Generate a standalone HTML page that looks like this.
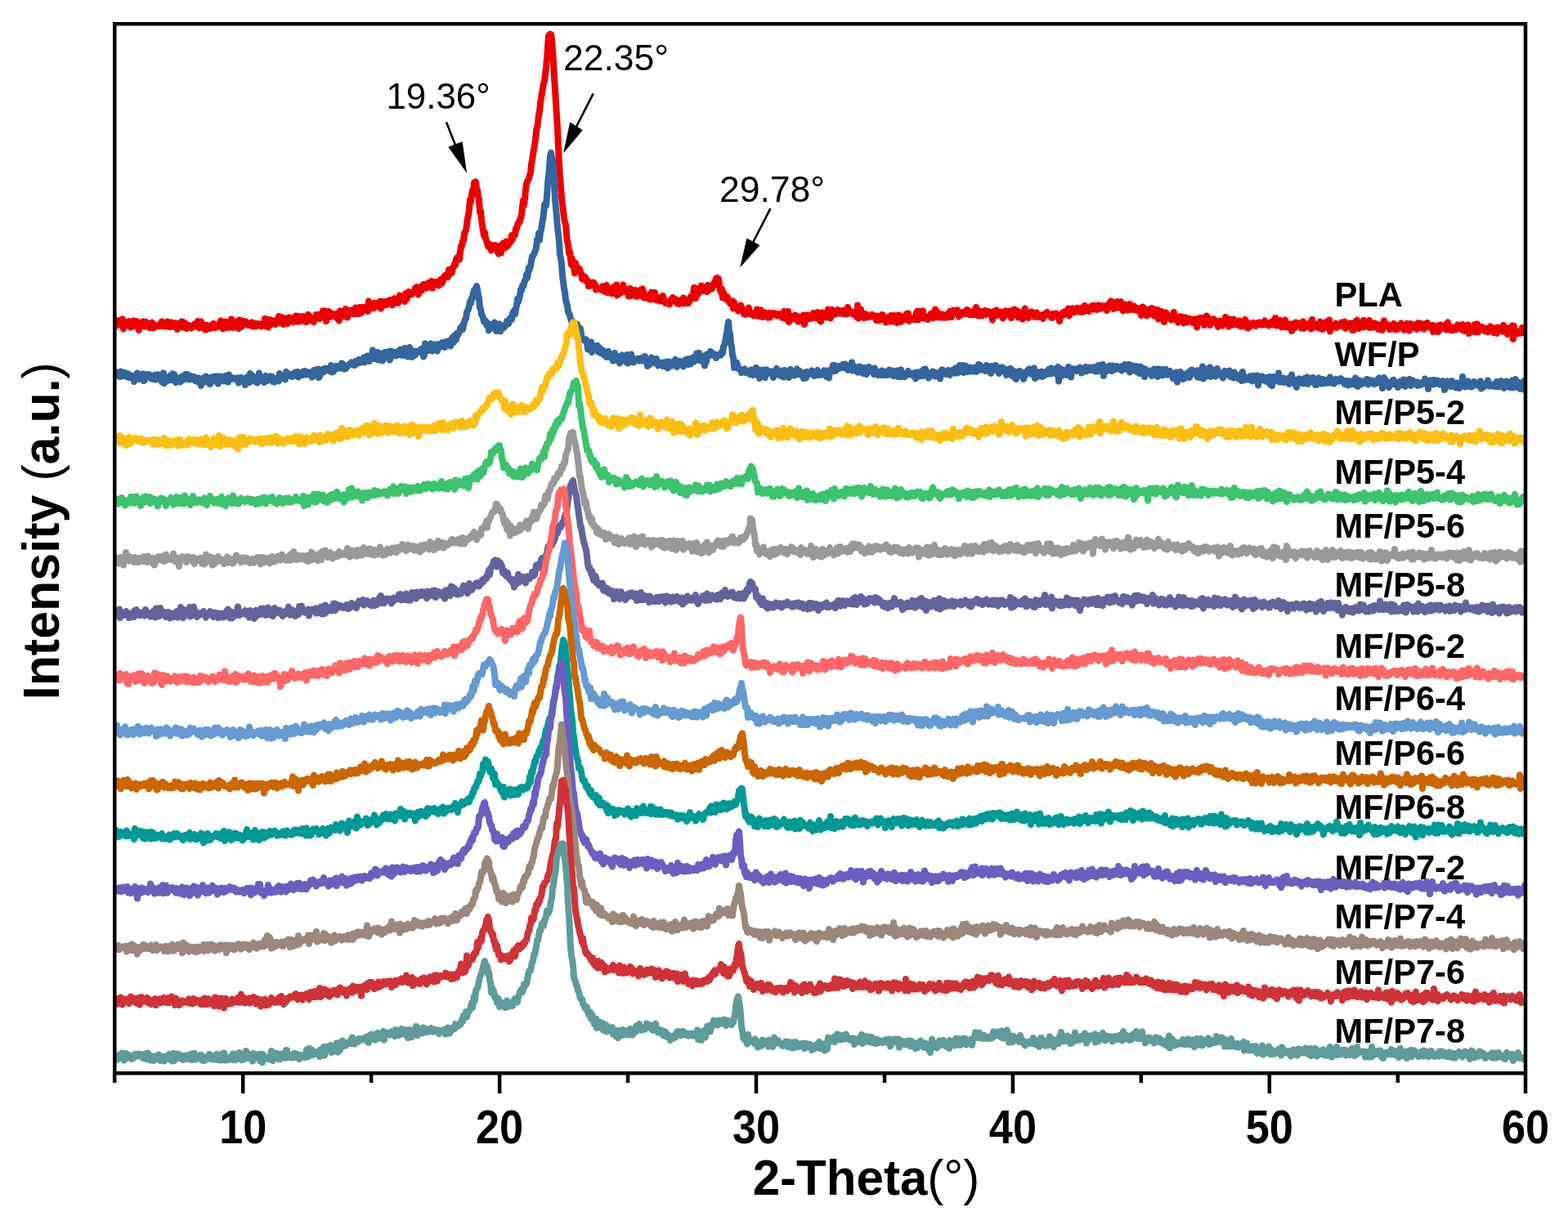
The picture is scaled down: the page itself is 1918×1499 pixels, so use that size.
<!DOCTYPE html>
<html><head><meta charset="utf-8"><title>XRD patterns</title>
<style>
html,body{margin:0;padding:0;background:#fff;width:1918px;height:1499px;overflow:hidden}
svg{display:block}
.c path{fill:none;stroke-width:16.0;stroke-linejoin:round;stroke-linecap:round}
text{font-family:"Liberation Sans",Arial,Helvetica,sans-serif;fill:#000}
.tk line{stroke:#000;stroke-width:4.5}
.tl text{font-size:56.5px;font-weight:bold}
.lg text{font-size:42.5px;font-weight:bold}
.an text{font-size:44.5px}
</style></head>
<body>
<svg width="1918" height="1499" viewBox="0 0 1918 1499">
<rect width="1918" height="1499" fill="#fff"/>
<defs><clipPath id="pc"><rect x="142" y="31" width="1722" height="1280"/></clipPath></defs>
<g clip-path="url(#pc)"><g class="c" transform="scale(0.5)">
<path d="M282 783l2 15 2-12 2 4 2 1 2-4 2-3 2 11 2-1 2-13 2 24 2-8 2-9 2 9 2-7 2 2 2 5 2-11 2 10 2 5 2-1 2-8 2 6 2-13 2 8 2 3 2-10 2 7 2 10 2 5 2-10 2 1 2-10 2-1 2-1 2 10 2 2 2-8 2-3 2 8 2 1 2-3 2 8 2-7 2 0 2-6 2 7 2 7 2-7 2 0 2 2 2-1 2 2 2 0 2 0 2-7 2 6 2-11 2 11 2-9 2 7 2 3 2-5 2 3 2-10 2 5 2 8 2-10 2 10 2-11 2 3 2-1 2 6 2 3 2-9 2 5 2 10 2-11 2-3 2 7 2-3 2-9 2 0 2 14 2-7 2 3 2-6 2 13 2-3 2 1 2-6 2 4 2 2 2 1 2-4 2-2 2-2 2-2 2-1 2 7 2-3 2-10 2 10 2 7 2-8 2-8 2 9 2 5 2-3 2-3 2 12 2 0 2-11 2 5 2-2 2 2 2 3 2-3 2-4 2-4 2-1 2 4 2 7 2-5 2-1 2 1 2-2 2 3 2-9 2-5 2 9 2-4 2 15 2-10 2-1 2-7 2 10 2-5 2 10 2-2 2-9 2 7 2-17 2 11 2 10 2-3 2-3 2-1 2-8 2 0 2 9 2 8 2-21 2 15 2 0 2 1 2-9 2-4 2 8 2-6 2-1 2 2 2 4 2 3 2-3 2 1 2-4 2-1 2 10 2-6 2-1 2 6 2 1 2-7 2 2 2-2 2 1 2 0 2 6 2-6 2 2 2-4 2 7 2-18 2 12 2 2 2-10 2 17 2-19 2 7 2-6 2 11 2-4 2-5 2 4 2 3 2 2 2-5 2-7 2 2 2-10 2 9 2 7 2-1 2-9 2-3 2 17 2-7 2 3 2-3 2-6 2 11 2-15 2 0 2 4 2-2 2 1 2-1 2 9 2-6 2 2 2-11 2 4 2 10 2-13 2 13 2-12 2 6 2-6 2 5 2-6 2 3 2 10 2-11 2 12 2-13 2-5 2 7 2-3 2 11 2-5 2 2 2 2 2 4 2-9 2-1 2-8 2 0 2 5 2 4 2 1 2-11 2 8 2-2 2-14 2 15 2-15 2 13 2 12 2-19 2 6 2-11 2 6 2 8 2-10 2 5 2-1 2-1 2 3 2 2 2 3 2-2 2-8 2 11 2 7 2-24 2 12 2 0 2 1 2-3 2-10 2 5 2-10 2 10 2 11 2-7 2 0 2-8 2-3 2 0 2 6 2-6 2 1 2 9 2-16 2 2 2 3 2 2 2 8 2-16 2 8 2 6 2-6 2-8 2 7 2-1 2-5 2 2 2-3 2 10 2-25 2 9 2-2 2 7 2-3 2 1 2 6 2-13 2 3 2 3 2-6 2 8 2-1 2-6 2-6 2 18 2-7 2-10 2 6 2-1 2 4 2-5 2-4 2 7 2-4 2-6 2-1 2 10 2-3 2 6 2-14 2-2 2 6 2 4 2-5 2-1 2 7 2-15 2-4 2 2 2 1 2 3 2 3 2-5 2 11 2-19 2 14 2-16 2 10 2-13 2 6 2-2 2 1 2 1 2-6 2 0 2 0 2-9 2 3 2-6 2 8 2 11 2-9 2-9 2 0 2 8 2-13 2-2 2 2 2-1 2 0 2 8 2-4 2-9 2 4 2-4 2-1 2-3 2 17 2-12 2 4 2 0 2-7 2 4 2-1 2-3 2 9 2-11 2-4 2 4 2 5 2-6 2-9 2-3 2-2 2 0 2 4 2 1 2-18 2 10 2-8 2 7 2-2 2-13 2-1 2-7 2 3 2-15 2-2 2-3 2 5 2 1 2-19 2-14 2 0 2-12 2-1 2-17 2-5 2-3 2-15 2-16 2-5 2-18 2-21 2 5 2-17 2-12 2 3 2-21 2 2 2-4 2 18 2 2 2 17 2 7 2 30 2-2 2 22 2 13 2 12 2 13 2-8 2 15 2 4 2 7 2 8 2-2 2-3 2 5 2 10 2-13 2 7 2-5 2 5 2-7 2 7 2-5 2 16 2 3 2-4 2-15 2 17 2-18 2-5 2 2 2 2 2 7 2-16 2 13 2-6 2 2 2-9 2 3 2-5 2-13 2 10 2-10 2-1 2 0 2-16 2 0 2-8 2-6 2 1 2-8 2-4 2-10 2-18 2-15 2 11 2-16 2-22 2-14 2-6 2-4 2-3 2-9 2-5 2-22 2-9 2-15 2-11 2-13 2-9 2-26 2-5 2-13 2-18 2-10 2-20 2-13 2-11 2-12 2-13 2-3 2-18 2-17 2-22 2-27 2-29 2-2 2-2 2 1 2 11 2 31 2 27 2 37 2 30 2 32 2 32 2 31 2 46 2 39 2 34 2 23 2 27 2 15 2 17 2 17 2 11 2 5 2 26 2 17 2 5 2 23 2-4 2 18 2 14 2-15 2 10 2 9 2 17 2-25 2 15 2-1 2-3 2 7 2-4 2 8 2 2 2 15 2-6 2 5 2 0 2-4 2 10 2-3 2 3 2 12 2-3 2-6 2 8 2-7 2 6 2-7 2 3 2 2 2 13 2-5 2 2 2-1 2 1 2 1 2 2 2-3 2-5 2 1 2 11 2 1 2-4 2-12 2 18 2-7 2-2 2 1 2-2 2 12 2 0 2-15 2 5 2 3 2 5 2-19 2 26 2-4 2-10 2 2 2 7 2-4 2-9 2-8 2 10 2-1 2 8 2-3 2 4 2 4 2 6 2-8 2-11 2 18 2-8 2 7 2-8 2 5 2-10 2 9 2 7 2-10 2 5 2 1 2-3 2-10 2 15 2-17 2 7 2 15 2-3 2 3 2 0 2-1 2-5 2 9 2-7 2 8 2-18 2 8 2 2 2 4 2-13 2 18 2 1 2 0 2-7 2 4 2-3 2 8 2-5 2 1 2-9 2 10 2 6 2 2 2 0 2-2 2-1 2-1 2 7 2-11 2-1 2 4 2-9 2 8 2 1 2-5 2 2 2 8 2-5 2 2 2 5 2-9 2 5 2-1 2 2 2-12 2 14 2-6 2 0 2-3 2 3 2 5 2-5 2-1 2-10 2 7 2-4 2-9 2-16 2 13 2 13 2-17 2-7 2 14 2-14 2 5 2 1 2-13 2 8 2 5 2-9 2 5 2-4 2 6 2 4 2-16 2 6 2 5 2-4 2 0 2 2 2-4 2-9 2 3 2-10 2-6 2-1 2 7 2-5 2 18 2 10 2 6 2-9 2 22 2-13 2 8 2 4 2 4 2-7 2 3 2 7 2 4 2 4 2-3 2-2 2-1 2 18 2-15 2 13 2-1 2 4 2 2 2 3 2-6 2 3 2-11 2 12 2-4 2 5 2 8 2-5 2 7 2-6 2 4 2-4 2-11 2 10 2 3 2 3 2-1 2-1 2 6 2-2 2-5 2 6 2-15 2 2 2 7 2 8 2-10 2-5 2 9 2 8 2-11 2 1 2-1 2 2 2 7 2 3 2-8 2-3 2 11 2-9 2 0 2-2 2 0 2 4 2-3 2 4 2-1 2 3 2-5 2 1 2 3 2-1 2 1 2 6 2-12 2-4 2 15 2-5 2 9 2-7 2-12 2 26 2-9 2-4 2-1 2 7 2-7 2 6 2-2 2-7 2 5 2 5 2 6 2-4 2-8 2 11 2-10 2 1 2 3 2-9 2 23 2-10 2-6 2-4 2-3 2 8 2 1 2-6 2 1 2 4 2-3 2-10 2 7 2 4 2 2 2-8 2-7 2 4 2 8 2 9 2 2 2-12 2-10 2 6 2 3 2 0 2-3 2 6 2-12 2-8 2 6 2-2 2 18 2-14 2-7 2 10 2 2 2-6 2 0 2 4 2-3 2-7 2 7 2 2 2-4 2 3 2-2 2-4 2 8 2-3 2-6 2 9 2 1 2-17 2 11 2-4 2 2 2 4 2-1 2 5 2-1 2 1 2-6 2 3 2 10 2-29 2 32 2-12 2 10 2-20 2 12 2 7 2-3 2 5 2-10 2 2 2 0 2 7 2 0 2-3 2-1 2 0 2 2 2-5 2 5 2 0 2-2 2 0 2 11 2-11 2 6 2 5 2-3 2-4 2 6 2-13 2 1 2 5 2 1 2 1 2 11 2-1 2-10 2 2 2-6 2 7 2-9 2 15 2-11 2 6 2-10 2 15 2-4 2 7 2-10 2-9 2 4 2-2 2 15 2-12 2-1 2 8 2-2 2 1 2-6 2-8 2 4 2-5 2 19 2-3 2-7 2 5 2 1 2-1 2-1 2 2 2-4 2-13 2-3 2 21 2-4 2-17 2 15 2-6 2 1 2-11 2 18 2-5 2 5 2 1 2 1 2 1 2-2 2-6 2-5 2 6 2 2 2-11 2 12 2-2 2-19 2 4 2 9 2-6 2 13 2-5 2 2 2 1 2 2 2-8 2 4 2 4 2-3 2-2 2 5 2-5 2-6 2 10 2-14 2 8 2 6 2-11 2-6 2 8 2-2 2 2 2-3 2-5 2 2 2 14 2-10 2 4 2 1 2-5 2 3 2-4 2-1 2 1 2 4 2-10 2 2 2 1 2 1 2 9 2-6 2-2 2 2 2 5 2-10 2 10 2-18 2 7 2 13 2 1 2-8 2-3 2 7 2-7 2 11 2-2 2-3 2-8 2 10 2-7 2 0 2-1 2 2 2 3 2 2 2 0 2 14 2-20 2 8 2-10 2 3 2-5 2 13 2-5 2-1 2-1 2 6 2-8 2 5 2 11 2-14 2-2 2-2 2 10 2-4 2-5 2 0 2 5 2-6 2 17 2-12 2 0 2 6 2-15 2 2 2 6 2 2 2-6 2 16 2-7 2 5 2-1 2-7 2 14 2-12 2-11 2-3 2 19 2-1 2-4 2 9 2-11 2 5 2 1 2-10 2 8 2 0 2 4 2 1 2-1 2-10 2 9 2 2 2-6 2 4 2 0 2 2 2-5 2 9 2-9 2 0 2-4 2 2 2-5 2 6 2-1 2 5 2 1 2-5 2 8 2-10 2 7 2-2 2-6 2 0 2 8 2-4 2 1 2 14 2-14 2-2 2 3 2-8 2 2 2 3 2-8 2 4 2-1 2 1 2-11 2 18 2-10 2 3 2-9 2-2 2 6 2-2 2 5 2-9 2-1 2 7 2 1 2 1 2-5 2 1 2-6 2 11 2-1 2 0 2-15 2 13 2-9 2 6 2 0 2 4 2-8 2-1 2-4 2-1 2 9 2-8 2-1 2 3 2-1 2 8 2-1 2-10 2 4 2 1 2 3 2-7 2 1 2 2 2 4 2 1 2-8 2 12 2-7 2-7 2-4 2 5 2-10 2 14 2 2 2 3 2-4 2-12 2 8 2 5 2-15 2 7 2 8 2-3 2-12 2 9 2 3 2 11 2-14 2-2 2 6 2 7 2-4 2 5 2-8 2-7 2 8 2 0 2 6 2-1 2-8 2 9 2 1 2-6 2 7 2-4 2 0 2-1 2 6 2 11 2-14 2-7 2 6 2-2 2 5 2-2 2 15 2-9 2 7 2-14 2 3 2 5 2-11 2 10 2-8 2 17 2-15 2 6 2 2 2-8 2 23 2-13 2 10 2-12 2-4 2 10 2 1 2 15 2-21 2-2 2 5 2 6 2 2 2-6 2 2 2 6 2 3 2-8 2 4 2-15 2 10 2 8 2-3 2 6 2 4 2-10 2-4 2 7 2 0 2-7 2 12 2 4 2-12 2-2 2 5 2 7 2-9 2-1 2 1 2 5 2 0 2-2 2 7 2 0 2-9 2 9 2-4 2 15 2-21 2 3 2 3 2-8 2 6 2 5 2-11 2 9 2 9 2-13 2-2 2-8 2 13 2-8 2 12 2 6 2-6 2-7 2 8 2-6 2-4 2 4 2 4 2-3 2 5 2 9 2-9 2 1 2-7 2 11 2 1 2-3 2-9 2 5 2-14 2 11 2-2 2-1 2 15 2-18 2 8 2 0 2 3 2 3 2-14 2 6 2-1 2 8 2 1 2-7 2 5 2-8 2 7 2 7 2-6 2-6 2-1 2 1 2-5 2 18 2-9 2-2 2 14 2-11 2 7 2-6 2 4 2-5 2-2 2 4 2 2 2 2 2-5 2-3 2 0 2 4 2-5 2 1 2 5 2 0 2 0 2-7 2-3 2 9 2-1 2-2 2 3 2 3 2-5 2 3 2-7 2 4 2-3 2-4 2 10 2-17 2 15 2 4 2-2 2-10 2 10 2-11 2 5 2 12 2-7 2 6 2-12 2-5 2 7 2 11 2-2 2 1 2-7 2 1 2-1 2 17 2-15 2 9 2-11 2 9 2-13 2 3 2 4 2-5 2 1 2 2 2-2 2 11 2-2 2-14 2 17 2-9 2 0 2-1 2 6 2-1 2-7 2 3 2-7 2 17 2-23 2 9 2 1 2 4 2 4 2-6 2 2 2-2 2 9 2-6 2-10 2 17 2-6 2 8 2-13 2 0 2 2 2-7 2 6 2 9 2-3 2-17 2 28 2-7 2-3 2-5 2 1 2 0 2 0 2-6 2 11 2-4 2 0 2 0 2-3 2 1 2-7 2 9 2 0 2-3 2-8 2 17 2-8 2 1 2-2 2-2 2 2 2-4 2 3 2 14 2-5 2 5 2-14 2-7 2 3 2-7 2 20 2 1 2-6 2 1 2 0 2-3 2 5 2-17 2 11 2 1 2-8 2 4 2 8 2-1 2-15 2 18 2-3 2-5 2 3 2 4 2-10 2 5 2-4 2 3 2 9 2 2 2-8 2-3 2 7 2-2 2 8 2-7 2-16 2 13 2-2 2-2 2 5 2-1 2-2 2 10 2-6 2 0 2-1 2 6 2-13 2 13 2-8 2 10 2-1 2-5 2-5 2 4 2 1 2-10 2 6 2-2 2 11 2 2 2-13 2 1 2-4 2 9 2 3 2 5 2-17 2 12 2-5 2-3 2 2 2-3 2 7 2-2 2 6 2-9 2-7 2 5 2 7 2-10 2 4 2 7 2-10 2 12 2-3 2-5 2 3 2-10 2 8 2 1 2 2 2-1 2-3 2-1 2 16 2-11 2-1 2 8 2-2 2-9 2 15 2-1 2-11 2-5 2 10 2-4 2-1 2-3 2 2 2 4 2 4 2-16 2-2 2 18 2-9 2 8 2-3 2 6 2-2 2-6 2 1 2 2 2 3 2-8 2-4 2 9 2-1 2-1 2-4 2 8 2-12 2 7 2 9 2-12 2 8 2 0 2 0 2-11 2 21 2-11 2 2 2-1 2-1 2 6 2 1 2-18 2 6 2 4 2-11 2 20 2-12 2 7 2-2 2-2 2-4 2 3 2 3 2 4 2-6 2 0 2 0 2 9 2-5 2-6 2-3 2 5 2-3 2 9 2 4 2-4 2-2 2 1 2 7 2-15 2 8 2-3 2 2 2 0 2-2 2 5 2-15 2 13 2 3 2-9 2 0 2 15 2-15 2 3 2-2 2 1 2 0 2-8 2 33 2-32 2 13 2-2 2 8 2-4 2 3 2 0 2-2 2-4 2 5 2-13 2 13 2-1 2-2" stroke="#EE0000"/>
<path d="M282 919l2 0 2-8 2 8 2-4 2 2 2 5 2-13 2 10 2 1 2-3 2 2 2-7 2 7 2 3 2-7 2 0 2 9 2-3 2 2 2-3 2 3 2-2 2 13 2-15 2 8 2-6 2-8 2 11 2 4 2-2 2 0 2-9 2 7 2-9 2 17 2-1 2-14 2 4 2-5 2 3 2 2 2-4 2 4 2 6 2-5 2 6 2-5 2 1 2-7 2 12 2-11 2 4 2-5 2 10 2-8 2 9 2 7 2-8 2-14 2 25 2-12 2 3 2-2 2 5 2-1 2-6 2-6 2 6 2 5 2-15 2 12 2-11 2 16 2 4 2-5 2-7 2 6 2 3 2 2 2-1 2-2 2-11 2 5 2 3 2-2 2-11 2 10 2-10 2 12 2 1 2-10 2 4 2 5 2-7 2 6 2-5 2 1 2 9 2-6 2 7 2 2 2-10 2 2 2 0 2 17 2-13 2 1 2-7 2 7 2 2 2-13 2 9 2 6 2 1 2-8 2 11 2-16 2 9 2-2 2-9 2 11 2-12 2 3 2 3 2-6 2 18 2-13 2-5 2 8 2-1 2-6 2 3 2 8 2 0 2-13 2 13 2 1 2 1 2-18 2 7 2 4 2-3 2 2 2-2 2 2 2-1 2 3 2 0 2-2 2-2 2 12 2-3 2-3 2-7 2 8 2-4 2 4 2-2 2 12 2-5 2-14 2 11 2 1 2 1 2-22 2 9 2 1 2-5 2 10 2 3 2 2 2-1 2-5 2 9 2-7 2-17 2 13 2-2 2 6 2-4 2 0 2 10 2-12 2-4 2 9 2 3 2-5 2 1 2-3 2-4 2 3 2-2 2 12 2-1 2 2 2-9 2 4 2-2 2-1 2 6 2-19 2 9 2 4 2-7 2 4 2-3 2 4 2 4 2-19 2 2 2 4 2 3 2-1 2-2 2 5 2 1 2-4 2-3 2 2 2-6 2 9 2 0 2-10 2 13 2-8 2 4 2-4 2-1 2 4 2-9 2 4 2-5 2 9 2-4 2-1 2-1 2 6 2-2 2-3 2-1 2 12 2-2 2-15 2 13 2-4 2-2 2 0 2-10 2 21 2-3 2-11 2-1 2 0 2-5 2 7 2-4 2-6 2 2 2-1 2 0 2 1 2 5 2-7 2-7 2 17 2-12 2 11 2-7 2 1 2-8 2 4 2-3 2 1 2 3 2-6 2 6 2-12 2 1 2 8 2 5 2-3 2 2 2-7 2 2 2-4 2-1 2-2 2 1 2-4 2 1 2 5 2-2 2 3 2-10 2 0 2 4 2 1 2-9 2 7 2-5 2 5 2-4 2-4 2-4 2 12 2-2 2-10 2-4 2 0 2 4 2 9 2-13 2 6 2-1 2-19 2 10 2 11 2-16 2 16 2-6 2-10 2 19 2-6 2 4 2-8 2-6 2 18 2-4 2-3 2-14 2 10 2-10 2 3 2 10 2-15 2 21 2-22 2 1 2 11 2-5 2 0 2-4 2 9 2-3 2-2 2 3 2-11 2 9 2-12 2 8 2 7 2 0 2-6 2-12 2 17 2 2 2-5 2 7 2-2 2-21 2 14 2-1 2 11 2-3 2-12 2 8 2 2 2-9 2 2 2 0 2-2 2 0 2 2 2-8 2 0 2 10 2 9 2-4 2-28 2 19 2-7 2 1 2 1 2 3 2 0 2-17 2 9 2 9 2-6 2-10 2 3 2 9 2 0 2 4 2-17 2 8 2-5 2 4 2-5 2-6 2 2 2 8 2 2 2-13 2 7 2-9 2 0 2 4 2-5 2 13 2-5 2-15 2 7 2 4 2-17 2 2 2 8 2-15 2 5 2-7 2-1 2-10 2 1 2-6 2 8 2-11 2-8 2-6 2-1 2-17 2-2 2-5 2-7 2-11 2 4 2-13 2 2 2-14 2-7 2-1 2-3 2-6 2 8 2 15 2 6 2 25 2 2 2 14 2 2 2 6 2 9 2-3 2 1 2 10 2 0 2-4 2 18 2-9 2-6 2 7 2 1 2-5 2 1 2-9 2 11 2 10 2-5 2 0 2-9 2-3 2 18 2-11 2-3 2 0 2 6 2-2 2-6 2 1 2-10 2 1 2 6 2-9 2-6 2 2 2 2 2-16 2-2 2-4 2 9 2-13 2-9 2-15 2 7 2-7 2-9 2-14 2 2 2-12 2 2 2-6 2-8 2-3 2-12 2 8 2-13 2-12 2 4 2-8 2-13 2-11 2 0 2-4 2-6 2-4 2-7 2-19 2 2 2-18 2 16 2-19 2-6 2-14 2-10 2-14 2-23 2 1 2 1 2-24 2-31 2-17 2-23 2-26 2-8 2 12 2 5 2 28 2 33 2 36 2 23 2 20 2 27 2 15 2 20 2 30 2 10 2 13 2 28 2 16 2 17 2 8 2 20 2 6 2 8 2 15 2 3 2 4 2 9 2 7 2-1 2 6 2 2 2-2 2 9 2 3 2-11 2 9 2 11 2 1 2-10 2 15 2 10 2 0 2 3 2-1 2 4 2-4 2 9 2 15 2-11 2-3 2 9 2-13 2 25 2-9 2-4 2 0 2-2 2 6 2 1 2-8 2 15 2-6 2-3 2 12 2 0 2-6 2 0 2 11 2-7 2 4 2 8 2-13 2-1 2 5 2 2 2 4 2 6 2-6 2 12 2-8 2-11 2 11 2 5 2 2 2-10 2 4 2 13 2-11 2-6 2-3 2 6 2 4 2-7 2 13 2-11 2-6 2 21 2-11 2-1 2 8 2-18 2 15 2-6 2 11 2-8 2 0 2 3 2-3 2 3 2-4 2 5 2-3 2-3 2 6 2 0 2-8 2 4 2-7 2 10 2 5 2 9 2-12 2 5 2 3 2-4 2-13 2 8 2 5 2 0 2 0 2-5 2-5 2 13 2 4 2-8 2 6 2-5 2 2 2-2 2 8 2-9 2 6 2 4 2-5 2-7 2 16 2-10 2-6 2 6 2-1 2 5 2-6 2 2 2 3 2-14 2 15 2 3 2-14 2 5 2 5 2-10 2 1 2 9 2 1 2 2 2-11 2-5 2-1 2 3 2-4 2 13 2-1 2-13 2 13 2-13 2 1 2-4 2 10 2-4 2 0 2-16 2 12 2 4 2-17 2 18 2-2 2 3 2-8 2 6 2 1 2 13 2-26 2 16 2-18 2 6 2-3 2 0 2-10 2 9 2-6 2 5 2 2 2-1 2-1 2 8 2-6 2 1 2-3 2-1 2 0 2 2 2-8 2 3 2-16 2-4 2-7 2-12 2-10 2-12 2-15 2 23 2 5 2 25 2 7 2 22 2 4 2 26 2-2 2 1 2-12 2 5 2 10 2 0 2 1 2 1 2 8 2-6 2 0 2-1 2-2 2 9 2-4 2 0 2 4 2 0 2 4 2 0 2-11 2 3 2 10 2-7 2 6 2-8 2-9 2 2 2 8 2 1 2 15 2-8 2-1 2 2 2-14 2 9 2-1 2 11 2-15 2-4 2 8 2-1 2 1 2 1 2-1 2-4 2 1 2 14 2-15 2 5 2-8 2-4 2 14 2-4 2 6 2-1 2-4 2-6 2 15 2-10 2 11 2-17 2 10 2-1 2-1 2-4 2 14 2-17 2-3 2 9 2-5 2 9 2-6 2 8 2-6 2-5 2-5 2 13 2-7 2-1 2 4 2 3 2 5 2-4 2 10 2-14 2 11 2 2 2-15 2 5 2-2 2 3 2-4 2-2 2-3 2 5 2 2 2 6 2-3 2-5 2-1 2-5 2 12 2-3 2 2 2 1 2-2 2-4 2-1 2-4 2 1 2 5 2 9 2-15 2 3 2 15 2-17 2-3 2 1 2-2 2-10 2 14 2-14 2 14 2-8 2 4 2-4 2-2 2-2 2 5 2-3 2-2 2-4 2 3 2 5 2-9 2 9 2 0 2 6 2-10 2-1 2 5 2-2 2-11 2 20 2-5 2 0 2-5 2 7 2-3 2 10 2-4 2 4 2-14 2 2 2 3 2-1 2 13 2-7 2-7 2 5 2 11 2-11 2 6 2-13 2 7 2 3 2-1 2-3 2 7 2 5 2-15 2 10 2 4 2-2 2 5 2-6 2-2 2-1 2 9 2-11 2 5 2 2 2 4 2-5 2-3 2 8 2-9 2 3 2-7 2 12 2 0 2-10 2 9 2 4 2-7 2-5 2 9 2 3 2-13 2 15 2-5 2 5 2-17 2 17 2-3 2-5 2 4 2 4 2-6 2-1 2-4 2-3 2 9 2-2 2 1 2-1 2 3 2-2 2-3 2 7 2 7 2-16 2 2 2 5 2-7 2 10 2-10 2-2 2 1 2 10 2-16 2 11 2-12 2 15 2-2 2 1 2 8 2-12 2 7 2-3 2 2 2-10 2 10 2-8 2 10 2-3 2-5 2 3 2-1 2-1 2 13 2-19 2-3 2 0 2 5 2 1 2 4 2 1 2-4 2 0 2-6 2 10 2 2 2-9 2-2 2-1 2 3 2 1 2 3 2-12 2 8 2 4 2-3 2 1 2-17 2 8 2 2 2-2 2-8 2 18 2-5 2-12 2 7 2 3 2 5 2-2 2-9 2 2 2 4 2 4 2-8 2-1 2 6 2-2 2 6 2-4 2 2 2-16 2 3 2-1 2 5 2 6 2-4 2 4 2-6 2 9 2 0 2-14 2 3 2 3 2 8 2 0 2 6 2-18 2 9 2-1 2-1 2 1 2-10 2 13 2-4 2-4 2 15 2-11 2 5 2-5 2-4 2 6 2 4 2-7 2 9 2 7 2-3 2-8 2-2 2 10 2-13 2 2 2 16 2-7 2 0 2-4 2 18 2 1 2-17 2 5 2-6 2-2 2 11 2 0 2-8 2 3 2 14 2-11 2 3 2-5 2-3 2-6 2 1 2-4 2 3 2 1 2 9 2-13 2 11 2-13 2 25 2-17 2 4 2 9 2-11 2 2 2 0 2 2 2-6 2 13 2-4 2-5 2 6 2-7 2-3 2 3 2 3 2-11 2 6 2 5 2-14 2 13 2-8 2 7 2-1 2 2 2-6 2-7 2-3 2 35 2-29 2 3 2-4 2 17 2-4 2 1 2-11 2 11 2-10 2 11 2-7 2-13 2 12 2-5 2 18 2-21 2 5 2 0 2-4 2 0 2 3 2 2 2-5 2 1 2 1 2-6 2 4 2 10 2-4 2-2 2-1 2 2 2-10 2 11 2-9 2 2 2-2 2 6 2-7 2 7 2-5 2-1 2 5 2-7 2 11 2-11 2 2 2 9 2-15 2 13 2-4 2 0 2 0 2-11 2 28 2-15 2 1 2 1 2 1 2-4 2-7 2-2 2 0 2 5 2 8 2-13 2 5 2 5 2-5 2 1 2-5 2 7 2-4 2-1 2 2 2 4 2 3 2-11 2 9 2-9 2-4 2 7 2 4 2-1 2 3 2-13 2 19 2-3 2-1 2-12 2 12 2-5 2 0 2 3 2-9 2 15 2 0 2-1 2 4 2-17 2 8 2 0 2-4 2 11 2 10 2-19 2 9 2-2 2 0 2 0 2 4 2-7 2 2 2 11 2-8 2 0 2-9 2 12 2 1 2-1 2 7 2-19 2 16 2-14 2 4 2-5 2 15 2-4 2-2 2 3 2-12 2 9 2 4 2-4 2 3 2-8 2 10 2-3 2 3 2 8 2-8 2-4 2 5 2-8 2 24 2-18 2 0 2 3 2-10 2 7 2-2 2 13 2-4 2 2 2-10 2 1 2 4 2-9 2-2 2 14 2-7 2 0 2-12 2 7 2-1 2-1 2 5 2-7 2-1 2 16 2-8 2-8 2 17 2-9 2-1 2-17 2 30 2-14 2 5 2 3 2-17 2 17 2-5 2-4 2-13 2 23 2-9 2 2 2-10 2 10 2 1 2 5 2-13 2-6 2 8 2 5 2 1 2-2 2 3 2 6 2 2 2-8 2-9 2 9 2-1 2 1 2 0 2 1 2-11 2 15 2 0 2-1 2-2 2 6 2-14 2 9 2 4 2-5 2 2 2 6 2-6 2-4 2 3 2 12 2-22 2 13 2-2 2 9 2-2 2 0 2-3 2 1 2 3 2-8 2 6 2-7 2 13 2-6 2-7 2 4 2 7 2-2 2-10 2 24 2-14 2 1 2-3 2-3 2-3 2 9 2-1 2-1 2 5 2-2 2-7 2 3 2 9 2-14 2 19 2-14 2 17 2-11 2-11 2 11 2-2 2-3 2 3 2 0 2-18 2 22 2-6 2 2 2 4 2-4 2-6 2 11 2-6 2 3 2-5 2 3 2-5 2 14 2-14 2 11 2-20 2 16 2-3 2 7 2-4 2 11 2 4 2-19 2 7 2-9 2 0 2 5 2 5 2-1 2-4 2 7 2-13 2 2 2 4 2-9 2 17 2-8 2-1 2 4 2-9 2 7 2-9 2 8 2 2 2 8 2-9 2 8 2-8 2-8 2 13 2-4 2-3 2 8 2-11 2 4 2 6 2 0 2-8 2 5 2-1 2 3 2-4 2-10 2 9 2 5 2-7 2 3 2 6 2-6 2-5 2 6 2-1 2-3 2 3 2-6 2-1 2 2 2 5 2 1 2 3 2 3 2-8 2 3 2 6 2 2 2-5 2-6 2 7 2 2 2-4 2-3 2 2 2 1 2-12 2 18 2-8 2 11 2-11 2-4 2 9 2-4 2 4 2-7 2 0 2-1 2 0 2 6 2-10 2 8 2 5 2-11 2 4 2-3 2 2 2 3 2 3 2 1 2-8 2 7 2-7 2-3 2 1 2-5 2 11 2-10 2 11 2 13 2-19 2-7 2 14 2-8 2 6 2 0 2 1 2 11 2-10 2-1 2-1 2-4 2 1 2-3 2 11 2-6 2 5 2-2 2 10 2-12 2 4 2-7 2 10 2-7 2 1 2-8 2 11 2 6 2-2 2-13 2 11 2-9 2-5 2 2 2 14 2-8 2-5 2 8 2 0 2-3 2 4 2-5 2 9 2-2 2-5 2 2 2 3 2-5 2 3 2-3 2-1 2-9 2 4 2 1 2 6 2 14 2-20 2 3 2-4 2 4 2 1 2 5 2-11 2 10 2-1 2-3 2-5 2 1 2 5 2 4 2-4 2-3 2 5 2-7 2 10 2 12 2-19 2 9 2-11 2 6 2 2 2 4 2-7 2 8 2-14 2 5 2 1 2 1 2-1 2 11 2-12 2 7 2-3 2 9 2-12 2 5 2-1 2-20 2 19 2 4 2 2 2-14 2 5 2 8 2-13 2 2 2 8 2 0 2 4 2-1 2-5 2-7 2 2 2 4 2 2 2-2 2 4 2-8 2 2 2-5 2 18 2-12 2 7 2 1 2-5 2-3 2 4 2-4 2-8 2 7 2 7 2-3 2 3 2 0 2 0 2-4 2 1 2 4 2-7 2-5 2 12 2-5 2 6 2-9 2-6 2 8 2-2 2-2 2 14 2-7 2 0 2-10 2 8 2 4 2-2 2 5 2-5 2 1 2-13 2 18 2-10 2 8 2-19 2 9 2 11 2-13 2 8 2-3 2 12 2-8 2 5 2-7 2-9 2 21" stroke="#33659F"/>
<path d="M282 1079l2-6 2-2 2-2 2 10 2 4 2-17 2 9 2 5 2 5 2-7 2-5 2 8 2 9 2-10 2 1 2 6 2-17 2 12 2 4 2-2 2-4 2-3 2-1 2-4 2 4 2-3 2 6 2-1 2-2 2 1 2 3 2-7 2 10 2-2 2 2 2-5 2 1 2 2 2 0 2-3 2 1 2-1 2 1 2-2 2 0 2-1 2 12 2-11 2 3 2-4 2 6 2 6 2-11 2 5 2-1 2 5 2-5 2 0 2-1 2-8 2 15 2 3 2-12 2 8 2-4 2 8 2-11 2 6 2 4 2-4 2-1 2-2 2-3 2 4 2-5 2 13 2-5 2-4 2-7 2 13 2 2 2-5 2 3 2 0 2-5 2-1 2 2 2 6 2-10 2-5 2 9 2 0 2-1 2 1 2-7 2 2 2 2 2-6 2 11 2 1 2-3 2-2 2-4 2 3 2-6 2 12 2-7 2 6 2-8 2 11 2-18 2 15 2-3 2-1 2 3 2-4 2 13 2-14 2 1 2 3 2-11 2 9 2-7 2 14 2-9 2 2 2-16 2 26 2-19 2 2 2 3 2-7 2 4 2 5 2 7 2 1 2-12 2 3 2 6 2 3 2-11 2 3 2 1 2 1 2-2 2 11 2-11 2 7 2-3 2 15 2-10 2-18 2 14 2-14 2 17 2-8 2-10 2 6 2 3 2 9 2-7 2 2 2-6 2 1 2-5 2 5 2 1 2 1 2-4 2 3 2-1 2 3 2-5 2 1 2-2 2 1 2 2 2-4 2 12 2-2 2-3 2 2 2-10 2 3 2 0 2 4 2 3 2 0 2-12 2 7 2 6 2-7 2 4 2-11 2 9 2-9 2-2 2 14 2 3 2-3 2-6 2 1 2-2 2 6 2-1 2 5 2-7 2 4 2-6 2-2 2 3 2-4 2 0 2 8 2 0 2-8 2-1 2 4 2-3 2 7 2-12 2 1 2 3 2 6 2 9 2-8 2-10 2 2 2 5 2-2 2 2 2 10 2-9 2-7 2 4 2 1 2 1 2 3 2-5 2 6 2-5 2 1 2-11 2 4 2 2 2 6 2-7 2-2 2 1 2 13 2-17 2 8 2-1 2 7 2-4 2-5 2 6 2 2 2-9 2-7 2 2 2 6 2-6 2 6 2 4 2-5 2 10 2-12 2-6 2 7 2 3 2-12 2 9 2 6 2-8 2 8 2-26 2 19 2-12 2-1 2 2 2 12 2-4 2 5 2-12 2-4 2 13 2-9 2-4 2 11 2 1 2-9 2 4 2 2 2-8 2 0 2 6 2 6 2-14 2 9 2-1 2-2 2-11 2 5 2 7 2-4 2-13 2 15 2-6 2 3 2 11 2-9 2-13 2 8 2-3 2 11 2-23 2 20 2-3 2-2 2 4 2 7 2-20 2 7 2 3 2 7 2-9 2 4 2-2 2-3 2-8 2 14 2 4 2-1 2-5 2 4 2-14 2 12 2-2 2-9 2 13 2-7 2-1 2-4 2-4 2 7 2 12 2-8 2-5 2 4 2 8 2-14 2 3 2-5 2 16 2-12 2 1 2 2 2-5 2 19 2-8 2 5 2-22 2 15 2-5 2-5 2 14 2 0 2-2 2-9 2 21 2-12 2-11 2 0 2 1 2 3 2-3 2 0 2 8 2-8 2 4 2-4 2 1 2 8 2-6 2-3 2 2 2 6 2-6 2 6 2-13 2 13 2-4 2-2 2-4 2-8 2 9 2 3 2-4 2 8 2-18 2 11 2-6 2 10 2 1 2-5 2 8 2-11 2-1 2 1 2-6 2 3 2 4 2 5 2-11 2 0 2-4 2 1 2 7 2 0 2-5 2 3 2 7 2-16 2 9 2 3 2-5 2 3 2 5 2-10 2 3 2-5 2 3 2 3 2-10 2 9 2 2 2 1 2-12 2 6 2-18 2 0 2 5 2-9 2-2 2-3 2 1 2-5 2-4 2 3 2-6 2 0 2-1 2-2 2-7 2-5 2-3 2-6 2 5 2-6 2 4 2-7 2-6 2 6 2-8 2 1 2 2 2 0 2-3 2 11 2 3 2 2 2 4 2-1 2 2 2 18 2-18 2 11 2 2 2 10 2 0 2 3 2-7 2 13 2-1 2-24 2 19 2-12 2 7 2 5 2-3 2-8 2 3 2 8 2-5 2 3 2-14 2 12 2-2 2-7 2 13 2-8 2 4 2-7 2 4 2 1 2-4 2 0 2 1 2-3 2-7 2 6 2-5 2-1 2-10 2 8 2-7 2-2 2-2 2-8 2-11 2-9 2 9 2-9 2-2 2-2 2-12 2-8 2 3 2-7 2-6 2 4 2-5 2 1 2-10 2 3 2-3 2-1 2-5 2 4 2-14 2 6 2 0 2-10 2-4 2-9 2 1 2-5 2-7 2-7 2-7 2-10 2-19 2-3 2-1 2 7 2-11 2-11 2-5 2-4 2 4 2-1 2 12 2 8 2 16 2 0 2 23 2 17 2 22 2 8 2 14 2 1 2 11 2 3 2 10 2 9 2 6 2 12 2 2 2 21 2-4 2 2 2 8 2 6 2 16 2-11 2 8 2 5 2 0 2 3 2 5 2-5 2 13 2 0 2-5 2 7 2-6 2-2 2-3 2 3 2 7 2-1 2 8 2 0 2-3 2-3 2 9 2-9 2-12 2 11 2 4 2 1 2 0 2 2 2-17 2 25 2-9 2-2 2-10 2 14 2-9 2-6 2 13 2-2 2-5 2-5 2 5 2-3 2 2 2 0 2-10 2 10 2-9 2 9 2-4 2-1 2 12 2-8 2 1 2 3 2 7 2-26 2 18 2-2 2 6 2-6 2 0 2 4 2-3 2-4 2 5 2 10 2-7 2-14 2 11 2-4 2 10 2-10 2 6 2 3 2 2 2-7 2 5 2 11 2-15 2 4 2-4 2-2 2 9 2-2 2 4 2-10 2 8 2-2 2-13 2 21 2-5 2-3 2 9 2-2 2-15 2 16 2 11 2-11 2 4 2-13 2 1 2 1 2 14 2 0 2-18 2 19 2-16 2 4 2 8 2-3 2 3 2 2 2 5 2-9 2-1 2 0 2 16 2-6 2 0 2-4 2-2 2 6 2-8 2-16 2 7 2 22 2-20 2 2 2 2 2 7 2-12 2 4 2 3 2-9 2 6 2 6 2-5 2-1 2 1 2-3 2-2 2-1 2 7 2-14 2 2 2 10 2 2 2-6 2-6 2-4 2 11 2-2 2 0 2 0 2-8 2 1 2 3 2-1 2-8 2 1 2 5 2 14 2-1 2-12 2-3 2 2 2-1 2-6 2-13 2 18 2-5 2 2 2-6 2 11 2-6 2-8 2 2 2 7 2 0 2-14 2 13 2 2 2-5 2 0 2-3 2 1 2-6 2 8 2-9 2-5 2-2 2-2 2-4 2 0 2 26 2-7 2 28 2-4 2-11 2 0 2 25 2-11 2-4 2 7 2-2 2 1 2 4 2 1 2-7 2 9 2 0 2-6 2 11 2-1 2-8 2 15 2-6 2-1 2-6 2 7 2-3 2-3 2 2 2-7 2 19 2-8 2 4 2 2 2-10 2 11 2-23 2 11 2-1 2 2 2-6 2 11 2 6 2-9 2 2 2-15 2 8 2 6 2-5 2 5 2-3 2 4 2-9 2 10 2 5 2-4 2 8 2-11 2 5 2-12 2 13 2-2 2-4 2 7 2-12 2 5 2 4 2-7 2 0 2 11 2-7 2-4 2 3 2 0 2-1 2 6 2-8 2-2 2 8 2-1 2 7 2-13 2 4 2 8 2-4 2-5 2-2 2 8 2-4 2-4 2 1 2 0 2 7 2-19 2 10 2 10 2-16 2 7 2 5 2-11 2 3 2-2 2 5 2-5 2-2 2 6 2 0 2 4 2-8 2 1 2-3 2 9 2 0 2-11 2-8 2 22 2-21 2 1 2 6 2 13 2-5 2-7 2 5 2-5 2 7 2-9 2 11 2-6 2-6 2-6 2 15 2-3 2-8 2 1 2 2 2 1 2 1 2 0 2 1 2-3 2 14 2-13 2-1 2 6 2-7 2 7 2-2 2 5 2-10 2-5 2 16 2-7 2 11 2-6 2-6 2 5 2-8 2 1 2 5 2 1 2-9 2 13 2-1 2 3 2-13 2 11 2-7 2 1 2 9 2-5 2 2 2-5 2 9 2-11 2 0 2 7 2 1 2-13 2 13 2-7 2 3 2 2 2 1 2 3 2-5 2 3 2-5 2 8 2 0 2 1 2 0 2-4 2-1 2 0 2 4 2-1 2-4 2 6 2 3 2 3 2-5 2 2 2-8 2 7 2 4 2 5 2-19 2 2 2 1 2 7 2 1 2-7 2-2 2-4 2 14 2-12 2 11 2-4 2-9 2 4 2 12 2-6 2-1 2 8 2-7 2 1 2 0 2 0 2 12 2-15 2 8 2 2 2-10 2 5 2-9 2 7 2 6 2-2 2-7 2 5 2-1 2-2 2 0 2 9 2-24 2 11 2 7 2-5 2 2 2-1 2-3 2 7 2-10 2 4 2 4 2 1 2-3 2-4 2-1 2-8 2 8 2-12 2 9 2 1 2 2 2 0 2-1 2-6 2 3 2 6 2-5 2 3 2-2 2 7 2 1 2 4 2-15 2 5 2-11 2 10 2-1 2-5 2 10 2-7 2-10 2 16 2-7 2 3 2-8 2-1 2-2 2 0 2 10 2-2 2-11 2 8 2 0 2-4 2 5 2-6 2 17 2-14 2 2 2-19 2 15 2 3 2-4 2 2 2-3 2 9 2-10 2 4 2 9 2-2 2-6 2-6 2-3 2 12 2-1 2-3 2 1 2 12 2-6 2-4 2-1 2-1 2 4 2-3 2 2 2-2 2 6 2-2 2-7 2 21 2-13 2-4 2-4 2 7 2-3 2 12 2-5 2-6 2-6 2 14 2-13 2 12 2-2 2-15 2 14 2 10 2-13 2-7 2 3 2 9 2 2 2 3 2-3 2-6 2 3 2 1 2 1 2-6 2 5 2 8 2-6 2 1 2-7 2 8 2-5 2 0 2 9 2-4 2-3 2-6 2 9 2 8 2-6 2-1 2 5 2 5 2-8 2 2 2 5 2-14 2 6 2 4 2-9 2 4 2 0 2-2 2-3 2 7 2-6 2-7 2 12 2-12 2 12 2-18 2 13 2 10 2-18 2 14 2-9 2 5 2-5 2 6 2 2 2 0 2-3 2-5 2-11 2 6 2 12 2-17 2 11 2-1 2-11 2 10 2-4 2-4 2 5 2-1 2-4 2-15 2 28 2-14 2 3 2-1 2 0 2-2 2-2 2 5 2-3 2-1 2 6 2-8 2 8 2 4 2-2 2-2 2-19 2 19 2-2 2 6 2-11 2 1 2 10 2-12 2 10 2-4 2-15 2 11 2 0 2-5 2 2 2 6 2-6 2 2 2-1 2 4 2 4 2 2 2-2 2-4 2 1 2 4 2 4 2-7 2-6 2 8 2 2 2-5 2 9 2-9 2 3 2 2 2 7 2-14 2 9 2 2 2-5 2 7 2-9 2-3 2 0 2 11 2-9 2 8 2-2 2-7 2 16 2-7 2-10 2-1 2 11 2 7 2-9 2 2 2 9 2-4 2-6 2-5 2 4 2 11 2-7 2-5 2 3 2 1 2 8 2-9 2 13 2-9 2 1 2-8 2 8 2 0 2 2 2-8 2 5 2-9 2 3 2 18 2-10 2-14 2 16 2-6 2 15 2-13 2 3 2-5 2 1 2 0 2 7 2-11 2 14 2-6 2-10 2 3 2-1 2-5 2 10 2-17 2 9 2-8 2 16 2-10 2 14 2 1 2-6 2-6 2 9 2-8 2 3 2 1 2 8 2 7 2-8 2-9 2 7 2 2 2-11 2 5 2 4 2-8 2 4 2 0 2-5 2 4 2-7 2 6 2 2 2-9 2 0 2 4 2 6 2 3 2 0 2 1 2 4 2-12 2 8 2-10 2 14 2-5 2-10 2 9 2 2 2-10 2 6 2 3 2 5 2-13 2 12 2-14 2 1 2 12 2-3 2-8 2 12 2-5 2-2 2-2 2-13 2 15 2 5 2-6 2 5 2-5 2 9 2-24 2 19 2-8 2 7 2 2 2 3 2-2 2 3 2-12 2 6 2-13 2 14 2-10 2 15 2-5 2-3 2-1 2 4 2-4 2-4 2 10 2-7 2 7 2-7 2-1 2 18 2-8 2 3 2-8 2 2 2 0 2 11 2-7 2-3 2-1 2 1 2 5 2-5 2 0 2 7 2-1 2-1 2 6 2-11 2-5 2-3 2 1 2 9 2 4 2-13 2 1 2 6 2 0 2-6 2 15 2-4 2-5 2 14 2-8 2-9 2 4 2 1 2 12 2-14 2 0 2 6 2-6 2-2 2 3 2 6 2 0 2-13 2-1 2 11 2-4 2-1 2 9 2-4 2-5 2 6 2-7 2 1 2 13 2-12 2 5 2-5 2 0 2-4 2 0 2 13 2 5 2-8 2-1 2-6 2 3 2 8 2 6 2-10 2-2 2 4 2-5 2-5 2-1 2 4 2-1 2-11 2 3 2 9 2 6 2 0 2-6 2-3 2 4 2 2 2-5 2 9 2-10 2-9 2 17 2 1 2-6 2 7 2 1 2-21 2 16 2-9 2 11 2-3 2 4 2-6 2-2 2 5 2 11 2-10 2-9 2 6 2-1 2 8 2-6 2-3 2 3 2-5 2 7 2-9 2 4 2 3 2-8 2 0 2 3 2 12 2-3 2-4 2 5 2-1 2-8 2 4 2 6 2-10 2 7 2-12 2 8 2-7 2 11 2 0 2-2 2 3 2-8 2 6 2 1 2-9 2 9 2-2 2 1 2-4 2 1 2 3 2-2 2 2 2-10 2 13 2-10 2 10 2-14 2 5 2 5 2 1 2-5 2-3 2 9 2 2 2-10 2-2 2 3 2 3 2-9 2 4 2 9 2-8 2 0 2 13 2-2 2 3 2-9 2-1 2-2 2-5 2-4 2 11 2-3 2 7 2 2 2-13 2 0 2 9 2 7 2 1 2-13 2 5 2 7 2-12 2-1 2 13 2-11 2-3 2 15 2-11 2-7 2 13 2 5 2-4 2-3 2 1 2 0 2 0 2-11 2 11 2 0 2-6 2 5 2-1 2 2 2-2 2 3 2 8 2-16 2 12 2 4 2-13 2 1 2 1 2 3 2-6 2 2 2 2 2 0 2 16 2-11 2 0 2-6 2 2 2 0 2-5 2 1 2 6 2-1 2-3 2 8 2-13 2 7 2-1 2 7 2-3 2-1 2-9 2 16 2-16 2 9 2-8 2-2 2-9 2 18 2 1 2-4 2 0 2-5 2 7 2-1 2-7 2 6 2 1 2-5 2 13 2-13 2 17 2-4 2-9 2 12 2-3 2 1 2-6 2-6 2-6 2 13 2-2 2-2 2 14 2-8 2-11 2 17 2-6 2-9 2 8 2-3 2-6 2 10 2 2 2-18 2 17 2-6 2 2 2-7 2 3 2 16 2-6 2-5 2 2 2-5 2 4 2-4 2 6 2-7 2 7 2 3 2-6 2 3" stroke="#FDBE12"/>
<path d="M282 1223l2-1 2 0 2 7 2 4 2-12 2 2 2 4 2-9 2 7 2 5 2 0 2 7 2-7 2-5 2 4 2-3 2 5 2-6 2-9 2 5 2-5 2 10 2 6 2-4 2-5 2-8 2 10 2-3 2 0 2 3 2 13 2-15 2-2 2-3 2 12 2-10 2-5 2 8 2 4 2-8 2 6 2-9 2 16 2-13 2 6 2-5 2 2 2 5 2-5 2 3 2 7 2 7 2-9 2-4 2 1 2-8 2 1 2 0 2 8 2-3 2-1 2 14 2-12 2 4 2-2 2-2 2 2 2-10 2 8 2 5 2 4 2-10 2 8 2-3 2-14 2 2 2 10 2-5 2 9 2-4 2-10 2 6 2 4 2 5 2-20 2 16 2-10 2 6 2-4 2 10 2-3 2 8 2-3 2-11 2-8 2 11 2-2 2 4 2 3 2-7 2 7 2-2 2-5 2 5 2 0 2-2 2 5 2-7 2-5 2 8 2-3 2 12 2-10 2-3 2-3 2-6 2 8 2 4 2-5 2 8 2 2 2-1 2-7 2-1 2 9 2-8 2 0 2 0 2 10 2-17 2 16 2-1 2 4 2 2 2 1 2-15 2-1 2-3 2 7 2 3 2-1 2 4 2 0 2-19 2 13 2 0 2 3 2-7 2 10 2-5 2 6 2-10 2 2 2-6 2 2 2 3 2-1 2 5 2 0 2-2 2 0 2-6 2 4 2 1 2-3 2 8 2-1 2-7 2 1 2 3 2 0 2 8 2-9 2-3 2 6 2 1 2 3 2-12 2 4 2 3 2-1 2-9 2 10 2 6 2-5 2-4 2-5 2 1 2 5 2-4 2 0 2-5 2 11 2 2 2 1 2-2 2-3 2 8 2-9 2 0 2-6 2 6 2-2 2-1 2 11 2-4 2 1 2-4 2-6 2 5 2 5 2-10 2 3 2 1 2 6 2-6 2 4 2-1 2-5 2 3 2-8 2 4 2 5 2 0 2-1 2-1 2 4 2-1 2-3 2-9 2 24 2-4 2-16 2 12 2-9 2 14 2-18 2 4 2-2 2 6 2 1 2-4 2-13 2 20 2-14 2 14 2-11 2-9 2 11 2-7 2 10 2-10 2 9 2-11 2 15 2-7 2 4 2-5 2 12 2-12 2 4 2-9 2 12 2-14 2-1 2 11 2-7 2-2 2 8 2-3 2-13 2 14 2-4 2-3 2 9 2-1 2 4 2-10 2-2 2 18 2-9 2-1 2-9 2 2 2 7 2-21 2 9 2 8 2-20 2 22 2-5 2-9 2 9 2 0 2-1 2 4 2-12 2 5 2 5 2-1 2-1 2 14 2-17 2-2 2 7 2-5 2 6 2-6 2 10 2-13 2 2 2 6 2-5 2 4 2-1 2-8 2-3 2 12 2-5 2 1 2-6 2 7 2 1 2-2 2 0 2-2 2-2 2 3 2-4 2 0 2 3 2 3 2 4 2-4 2-6 2-5 2 6 2-7 2-1 2-5 2 17 2-1 2-12 2 6 2 1 2 6 2-1 2-13 2 7 2-11 2 8 2 0 2-2 2-5 2 4 2 13 2-15 2 3 2 5 2-1 2-7 2 10 2 0 2-7 2 0 2-2 2 3 2-2 2 5 2-10 2 8 2-6 2 9 2-2 2-7 2 0 2-2 2-4 2 5 2 5 2-6 2-6 2 7 2-6 2 1 2 8 2 2 2 1 2-11 2-2 2 6 2-1 2 5 2 0 2-5 2 1 2 5 2-15 2-2 2 13 2-1 2-4 2 10 2-8 2-3 2 4 2 8 2-15 2 10 2-12 2 10 2-6 2 0 2 5 2 9 2-23 2 8 2-4 2 10 2-6 2-6 2 9 2-2 2-4 2 4 2 5 2-5 2-12 2 9 2-8 2-2 2 23 2-11 2-8 2-6 2 1 2 0 2 2 2-11 2 0 2 11 2-15 2 16 2-13 2-8 2 1 2 12 2-9 2-9 2 11 2-7 2-9 2-6 2-6 2 5 2-2 2 2 2-4 2-7 2-18 2 2 2 2 2-7 2-1 2-5 2 1 2 4 2-3 2-9 2 0 2 10 2 3 2 21 2 1 2 19 2-6 2 2 2-3 2 9 2 3 2-4 2 14 2-1 2 2 2-2 2-5 2 13 2-8 2 4 2 4 2-6 2 0 2-5 2 12 2-5 2-15 2 18 2 3 2-2 2-5 2-4 2-12 2 3 2 6 2 4 2-2 2-9 2 3 2-6 2-9 2 6 2 8 2-3 2-5 2-2 2 11 2-12 2-7 2-9 2 1 2 1 2-9 2 0 2-10 2 13 2-22 2 3 2-13 2 1 2-1 2-9 2-15 2 12 2-8 2-14 2 7 2-7 2-11 2 4 2-14 2 5 2 0 2-10 2 0 2-3 2 3 2-6 2-9 2-4 2-7 2-5 2-5 2-5 2 2 2-13 2-10 2-6 2-1 2-2 2-11 2-8 2 3 2 2 2-9 2 14 2 0 2 46 2-6 2 13 2 22 2 10 2 18 2 2 2 15 2 10 2 11 2 15 2-3 2 2 2 13 2-1 2 14 2 1 2 4 2-6 2 4 2 2 2 12 2-8 2 11 2 6 2-2 2 10 2-2 2 9 2-4 2 1 2-16 2 12 2 5 2 0 2 0 2-3 2 17 2-1 2-6 2 3 2-1 2-6 2 1 2 5 2-1 2 11 2-5 2-6 2 9 2-3 2 3 2-3 2 3 2 0 2-6 2 16 2-10 2-15 2 19 2-13 2 10 2 7 2-10 2 1 2 7 2-3 2 0 2-4 2 1 2-4 2 2 2 1 2 4 2 0 2-10 2 3 2-8 2 11 2 9 2-7 2-5 2 4 2-1 2-6 2 2 2 4 2 5 2-8 2 0 2-4 2 7 2-5 2 15 2-9 2-17 2 24 2-6 2-2 2 1 2-4 2-2 2 1 2 4 2 3 2 8 2-8 2 2 2 1 2-10 2 0 2 1 2 13 2-15 2 11 2-1 2 14 2-20 2 1 2-2 2 5 2 11 2 2 2 1 2 7 2-15 2 7 2-3 2-1 2 7 2 10 2-16 2 17 2-11 2-4 2-4 2 11 2-4 2-2 2-3 2 3 2-2 2 3 2-12 2 12 2 3 2-1 2-12 2 8 2 1 2 5 2-2 2 1 2-7 2 5 2-5 2-1 2-7 2 10 2-3 2-7 2 16 2-10 2 4 2 0 2-3 2 1 2 4 2-10 2-4 2 12 2-3 2-8 2 9 2-12 2 6 2 1 2-2 2 2 2-6 2-6 2 5 2 6 2-4 2-1 2-2 2 8 2-10 2 4 2-1 2-7 2 8 2-3 2 0 2-11 2 13 2-10 2 1 2 2 2 9 2-16 2 5 2-2 2-1 2-1 2-5 2 4 2 3 2-16 2-8 2 11 2-18 2 4 2 2 2 12 2 7 2 13 2 1 2 2 2 23 2-8 2 5 2-7 2 4 2 1 2 8 2-9 2 7 2-5 2-2 2 8 2-2 2-8 2 10 2-11 2 10 2-3 2 12 2-9 2 9 2-8 2-5 2 6 2-11 2 2 2 6 2 9 2-3 2-12 2-3 2 13 2-10 2 3 2 3 2-2 2 1 2 3 2 7 2-9 2 4 2 3 2 0 2-3 2-3 2 4 2-7 2 7 2 8 2-4 2-19 2 19 2 1 2-5 2 6 2 0 2-5 2-7 2 2 2 12 2-17 2 23 2-13 2 2 2-2 2 2 2-4 2-1 2 15 2-11 2 9 2 3 2-9 2 0 2 7 2-3 2-6 2-2 2 12 2-10 2 3 2-7 2 3 2 14 2-9 2-11 2 5 2-6 2 10 2-10 2-5 2 3 2 0 2 18 2-25 2 16 2-8 2 5 2 4 2-2 2 2 2-3 2-6 2 3 2-2 2 4 2 6 2-17 2-2 2 4 2 8 2-8 2 3 2-6 2 10 2-5 2-1 2 7 2-12 2 12 2-3 2-11 2 5 2 3 2-8 2 1 2 13 2 7 2-6 2-6 2-9 2 1 2 10 2-7 2 3 2 1 2 4 2-1 2-15 2 9 2 9 2 2 2-3 2 2 2-11 2 6 2 1 2 4 2-4 2-3 2 14 2-10 2 3 2-12 2 10 2 3 2 5 2-7 2-9 2 2 2 13 2-1 2-6 2-3 2 10 2-8 2 2 2-7 2-6 2 15 2 9 2-11 2-5 2 13 2-12 2-6 2 8 2 5 2-6 2 4 2 0 2 0 2 8 2-7 2 2 2 4 2-9 2 7 2-8 2 3 2 0 2 5 2 0 2-9 2 4 2-6 2 1 2 1 2 3 2-4 2 14 2-3 2 5 2-9 2 1 2-4 2 7 2-3 2-4 2 3 2 8 2-2 2-8 2-11 2-5 2 15 2 0 2 0 2 2 2 1 2-7 2 1 2 12 2 3 2-11 2 0 2 4 2-3 2-1 2-1 2 1 2-5 2 7 2-9 2 9 2-1 2-2 2 2 2-11 2 5 2-3 2 7 2 0 2-4 2 4 2 2 2 11 2-12 2 0 2 0 2-3 2-1 2 7 2-6 2-1 2 2 2 9 2-15 2 4 2 4 2 1 2 6 2 2 2-14 2 7 2 6 2-4 2-10 2 1 2 4 2 3 2-9 2 9 2-7 2 6 2 1 2-2 2 3 2-5 2 1 2 6 2-10 2-1 2-4 2 17 2-14 2 9 2-4 2 2 2-5 2 2 2 5 2-4 2-6 2 4 2-6 2 10 2 1 2-3 2 7 2 0 2-9 2 6 2-7 2 10 2-10 2 2 2-7 2 5 2-6 2 15 2-11 2 3 2-8 2 4 2 7 2-14 2 13 2-5 2 14 2-7 2 1 2-3 2 3 2-11 2 15 2-5 2-12 2 10 2-2 2 8 2-10 2 2 2 2 2-3 2 10 2-7 2-6 2 5 2-2 2 10 2-15 2-4 2 21 2-11 2 6 2-6 2-3 2 6 2-3 2-4 2-6 2 11 2 6 2-1 2-14 2 15 2-15 2 5 2 3 2 0 2-5 2 3 2 2 2 0 2 3 2 2 2-5 2-4 2 8 2 4 2-13 2-8 2 14 2 2 2 2 2-11 2 5 2-9 2 10 2 1 2-6 2 7 2 3 2 0 2-10 2 5 2 5 2-12 2 5 2 0 2 6 2-6 2-8 2 13 2 12 2-13 2 5 2-6 2-2 2-5 2 8 2-2 2 5 2-4 2 2 2-14 2 12 2 2 2-2 2 6 2-8 2 4 2-14 2 15 2 0 2-9 2-7 2 6 2 5 2 9 2-15 2 9 2 0 2 0 2-6 2 7 2-11 2-3 2 18 2-13 2-7 2 19 2-3 2-1 2-8 2 1 2-4 2 8 2-1 2 1 2 8 2-11 2 2 2-7 2 16 2-1 2-19 2 0 2 21 2 2 2-7 2 4 2-15 2 8 2 4 2-6 2-4 2 4 2-4 2 23 2-20 2-2 2-6 2 18 2-9 2 4 2-4 2 3 2-2 2-3 2 6 2-7 2 0 2 6 2 2 2-9 2 26 2-20 2-7 2-3 2 9 2-1 2 4 2-12 2 9 2 2 2 3 2-15 2 6 2-1 2 4 2-1 2 2 2-5 2 7 2-11 2 8 2 12 2-10 2 8 2-2 2-10 2 5 2 1 2-9 2-6 2 10 2-6 2 11 2-13 2 21 2 2 2-18 2-12 2 18 2-4 2 2 2-8 2 0 2 11 2-10 2-4 2 14 2 1 2-14 2 5 2 15 2-11 2 5 2-11 2-8 2 17 2 7 2-5 2-6 2 1 2 10 2-8 2 2 2 3 2-1 2 5 2-16 2 9 2 1 2-9 2 7 2 1 2-3 2-2 2 11 2-6 2-1 2 2 2-5 2 5 2 1 2-7 2 4 2 0 2 1 2-3 2 3 2-3 2 5 2-5 2-6 2 12 2-1 2-7 2 0 2 0 2-1 2 0 2 9 2-4 2 6 2-2 2 9 2-18 2 17 2-11 2-12 2 12 2-1 2 5 2-8 2 6 2-3 2 9 2 0 2-3 2 2 2-9 2 6 2 5 2 2 2-5 2-7 2 14 2-13 2 3 2 1 2 3 2-7 2 8 2-6 2 3 2-6 2 3 2-6 2 18 2-7 2 5 2-11 2-6 2 1 2 2 2 10 2-14 2 8 2-3 2 16 2-17 2 7 2 0 2 0 2 0 2 9 2 7 2-8 2-4 2-8 2 15 2 0 2-12 2 7 2-16 2 7 2 12 2-16 2 14 2 2 2-14 2 8 2 9 2 5 2-13 2 8 2-13 2 1 2 7 2 2 2-3 2 5 2-2 2 3 2-3 2-3 2 0 2-1 2 2 2 5 2-1 2 2 2-2 2 0 2-10 2 3 2-1 2-1 2-10 2 18 2-10 2 1 2 1 2 12 2-6 2 6 2-9 2 5 2 0 2-5 2 1 2-10 2 4 2 6 2-14 2 15 2-1 2-4 2 8 2-2 2 4 2-6 2 3 2-2 2-9 2 7 2-1 2 2 2-1 2 5 2-11 2 2 2 7 2-15 2 4 2 15 2-15 2 9 2-7 2 10 2-2 2 4 2-3 2 3 2-11 2 13 2-11 2 7 2-5 2 7 2-4 2-1 2 2 2-3 2 0 2 8 2-5 2-2 2-3 2 9 2-11 2 4 2-6 2 3 2 2 2 3 2-2 2 5 2-15 2 21 2-8 2 0 2-7 2 9 2-9 2 4 2 1 2 2 2 0 2-7 2-3 2 15 2-3 2-2 2 0 2 0 2-13 2 11 2 5 2-5 2 4 2 5 2-12 2-2 2 4 2 6 2-21 2 21 2-16 2 21 2-11 2 2 2-4 2 8 2-9 2 11 2 5 2-12 2-5 2 9 2-8 2 2 2 3 2 5 2-12 2 10 2-1 2-4 2 5 2-3 2-3 2-9 2-2 2 13 2 4 2-9 2 3 2 11 2-4 2-14 2 13 2-5 2 4 2-3 2-5 2 16 2-25 2-1 2 21 2-7 2 10 2-15 2 10 2-9 2-2 2 0 2 12 2-6 2 4 2-1 2-4 2-5 2 8 2 2 2-10 2 3 2-1 2-7 2 13 2 2 2-4 2 2 2 0 2 6 2-3 2 1 2-9 2 7 2-3 2-6 2 9 2-12 2 3 2 12 2-2 2-14 2 13 2-2 2-2 2-5 2 5 2 6 2 6 2-12 2-3 2 9 2 7 2-12 2-6 2 13 2-9 2 4 2 1 2-3 2 1 2 4 2 0 2-2 2 3 2-3 2-5 2 13 2-7 2 1 2 3 2 1 2-14 2-2 2 7 2 8 2-4 2 1 2-5 2-6 2 7 2-9 2 5 2 8 2-7 2-4 2 11 2 0 2-2 2-11 2 6 2 2 2 5 2 3 2-3 2 4 2-3 2-6 2-1 2 14 2 2 2-14 2 4 2 1 2 2 2-13 2 13 2-9 2 6 2-3 2 10 2-10 2 12 2-1 2-11 2 8 2 0 2-7 2-10 2 11 2 3 2 11 2-6 2-1 2 5 2-5 2-4 2-6 2-2 2 1 2 5" stroke="#3CC36F"/>
<path d="M282 1371l2-7 2 8 2 5 2 2 2-13 2 3 2-5 2 12 2-6 2 13 2-18 2 2 2-15 2 11 2 1 2 6 2 3 2-10 2 4 2 4 2-4 2 4 2 5 2-12 2 5 2-3 2 2 2 8 2-10 2 8 2-5 2 2 2-6 2 9 2-12 2 12 2-5 2 1 2 6 2-15 2 12 2-2 2-5 2 7 2-4 2 10 2-13 2 17 2-6 2-6 2-6 2 4 2-7 2 3 2 1 2 5 2-9 2 10 2-5 2 7 2-2 2-15 2 14 2-1 2-4 2 2 2 1 2-5 2-1 2 7 2-15 2 17 2 2 2-7 2 5 2-7 2 8 2 13 2-14 2-3 2 0 2-7 2 4 2 2 2-2 2 4 2 6 2-14 2 4 2 4 2-7 2 2 2 7 2 1 2-2 2-7 2 16 2-6 2-7 2 3 2-2 2 0 2-1 2 5 2-7 2 14 2-6 2-5 2 13 2-11 2-13 2 18 2-2 2-4 2 1 2-4 2-3 2 1 2 19 2-17 2 12 2 1 2-13 2 3 2-2 2-5 2 10 2 1 2-5 2 1 2 4 2 0 2 7 2-6 2 0 2-8 2-3 2 14 2-12 2 8 2-3 2 3 2-2 2 8 2-2 2-10 2 2 2-10 2 4 2 4 2 3 2 2 2-4 2 8 2-11 2 9 2-9 2 3 2 3 2 3 2-8 2 9 2-6 2 2 2 7 2-4 2-6 2 0 2 9 2 0 2-2 2-5 2-5 2 1 2 4 2-6 2 5 2 12 2-10 2 3 2-10 2 13 2-10 2 2 2 1 2-1 2-3 2 6 2 7 2-12 2 6 2-11 2 8 2-5 2 10 2-9 2 5 2-3 2-7 2 7 2-1 2 4 2-5 2-9 2 4 2 3 2 6 2-6 2 7 2-6 2 3 2 3 2-11 2-3 2 14 2-7 2 5 2-19 2 15 2-1 2-2 2 8 2-11 2 0 2 7 2-3 2 5 2-2 2-6 2 3 2-2 2 5 2 6 2-9 2-3 2 14 2-13 2-3 2 2 2-9 2 19 2-3 2 0 2-3 2-4 2-2 2-1 2 15 2-7 2-1 2-9 2 15 2-20 2 10 2-1 2-2 2-10 2 5 2 4 2 8 2-8 2 4 2-8 2 4 2 8 2 3 2-8 2 1 2-2 2-2 2 1 2 5 2-9 2-3 2 9 2-6 2 5 2-2 2 1 2-4 2-1 2 6 2-7 2-9 2 6 2 5 2 10 2-5 2-11 2 3 2 9 2-4 2 1 2 0 2 5 2-15 2 14 2-4 2-9 2 9 2 3 2-8 2 6 2-17 2 4 2 10 2-2 2 3 2-1 2 1 2-12 2 0 2 14 2-5 2-1 2-2 2 10 2-13 2 6 2 5 2-10 2-1 2 2 2-9 2 16 2-1 2 5 2-10 2 2 2 1 2 5 2-7 2-7 2 2 2 5 2-2 2 5 2-2 2-10 2 0 2 8 2-4 2 3 2 4 2-13 2 9 2-7 2 4 2 0 2-6 2-7 2 10 2-4 2 7 2-1 2 4 2-2 2-13 2 1 2 4 2 4 2 1 2-5 2 5 2-7 2 11 2-9 2 0 2 0 2 2 2 8 2-7 2 10 2-16 2 7 2 1 2 1 2-11 2 0 2 5 2 2 2-7 2 5 2 7 2-19 2 3 2 5 2 4 2-3 2 11 2-4 2-11 2-2 2 12 2-17 2 13 2 2 2-5 2-5 2 3 2-4 2 13 2-7 2-4 2 2 2 0 2 2 2-4 2 0 2-4 2-4 2-2 2 8 2-5 2 2 2 4 2-7 2 3 2-4 2 6 2-8 2 12 2-11 2 8 2-12 2 9 2 6 2-12 2 6 2-4 2-3 2-1 2 2 2-2 2-6 2 0 2 2 2-6 2-5 2 14 2-9 2 14 2-12 2 2 2-1 2-5 2 5 2-16 2 1 2-3 2-3 2-3 2 5 2-15 2 15 2-18 2 2 2-5 2-4 2-7 2-5 2-2 2 1 2-4 2-6 2-10 2 1 2 5 2 7 2 4 2-6 2 10 2 1 2 5 2 12 2 8 2 4 2-10 2 21 2-16 2 18 2 3 2 11 2-24 2 6 2 4 2 2 2-4 2 9 2-9 2 2 2-1 2 4 2-3 2-12 2 12 2-11 2-1 2 0 2 1 2 3 2-1 2-13 2 6 2 13 2-11 2-5 2-7 2 5 2-6 2-9 2-8 2 14 2 1 2 2 2-6 2-7 2-6 2-1 2-1 2-13 2 4 2-6 2 2 2-4 2-19 2-1 2 4 2 5 2-19 2 0 2-6 2-8 2-5 2 1 2 0 2-13 2 3 2-4 2 0 2-9 2-4 2 3 2 0 2-8 2-11 2 6 2-7 2-8 2 1 2-19 2-6 2-6 2-2 2-29 2-1 2-10 2 1 2 0 2-3 2 16 2 8 2 5 2 15 2 8 2 17 2 16 2 23 2 1 2 19 2 13 2 5 2 12 2 16 2-8 2 7 2 16 2 4 2 15 2-5 2 10 2 8 2-10 2 14 2 5 2-3 2 4 2 2 2 12 2-10 2 13 2-9 2 7 2 5 2-5 2 6 2-4 2-2 2 9 2 7 2-11 2 1 2 0 2-3 2 4 2 7 2-5 2 6 2 1 2 3 2 5 2-8 2-6 2 9 2 2 2 7 2-9 2-4 2-1 2 8 2-4 2 7 2 1 2-6 2 3 2-3 2 3 2-10 2 2 2 13 2-16 2 2 2 9 2-8 2-6 2 6 2 19 2-14 2 9 2-8 2-9 2 9 2-10 2 15 2-17 2 17 2-2 2 5 2-5 2-1 2-3 2-2 2 0 2 2 2 1 2 14 2-10 2-7 2 12 2-6 2-4 2 4 2-4 2 7 2-4 2 7 2-12 2 8 2-8 2 17 2-15 2 17 2-12 2 7 2-10 2 3 2 10 2-15 2 11 2-11 2 19 2-5 2-15 2 8 2 8 2 7 2-12 2-10 2 17 2-10 2 4 2-2 2-5 2-4 2 21 2-8 2 0 2-3 2 5 2-7 2-1 2-1 2 0 2 10 2-9 2 18 2-10 2-2 2 2 2 10 2-21 2 13 2 10 2-4 2-4 2-4 2 15 2-15 2 13 2-16 2-3 2 8 2-3 2-11 2 12 2 13 2-15 2 3 2-4 2 0 2 10 2-10 2-2 2 2 2-1 2-9 2-3 2 3 2-2 2 4 2 9 2-7 2-5 2 13 2-7 2-8 2 5 2 3 2-1 2-8 2 4 2-5 2-4 2 10 2-14 2 10 2 6 2-3 2-3 2 2 2-2 2 6 2-5 2 1 2-9 2 2 2-3 2 6 2-2 2-6 2 1 2-6 2-5 2-2 2-9 2 3 2-26 2 9 2-6 2 22 2 7 2 9 2 24 2-2 2 16 2-8 2 4 2 13 2-9 2 3 2-5 2 4 2-11 2 10 2 1 2 6 2 0 2-6 2 1 2-1 2 12 2-15 2 8 2-4 2-7 2 10 2 3 2-5 2-8 2 9 2 0 2-6 2 1 2-8 2 2 2 4 2 2 2 5 2 0 2-9 2 9 2 3 2-4 2-5 2 0 2-3 2-6 2 6 2-3 2 9 2-1 2 2 2 0 2 1 2-5 2 1 2 4 2 6 2-18 2 4 2 5 2-4 2 3 2 3 2-4 2 8 2-7 2 7 2-1 2 2 2-20 2 20 2-9 2 17 2-16 2 6 2-10 2 2 2 7 2 1 2 7 2-4 2 2 2 4 2-19 2 16 2-13 2 6 2-2 2 5 2-1 2-1 2-6 2-8 2 10 2-1 2 1 2 2 2 7 2-5 2-3 2-6 2-4 2 14 2-9 2 1 2-9 2 6 2 5 2-1 2-5 2 3 2-3 2-1 2 9 2-3 2-3 2-4 2 9 2-14 2 8 2-13 2 0 2 8 2-8 2 9 2-6 2 7 2-2 2-6 2 6 2-2 2 12 2 0 2-3 2 0 2 8 2-11 2 0 2 7 2-5 2-8 2 14 2-8 2 7 2 1 2-11 2 3 2 3 2-10 2 2 2 6 2-1 2-5 2 5 2 2 2-5 2-1 2 4 2-5 2 1 2 3 2-9 2 8 2 4 2-7 2 12 2-4 2 6 2-8 2 4 2-3 2-6 2 9 2-7 2 7 2-8 2 6 2-2 2 9 2-8 2 7 2-3 2 6 2-10 2 7 2 0 2-1 2-2 2 6 2-15 2 12 2-7 2 6 2 2 2-3 2-3 2-3 2-3 2 4 2 6 2-10 2 22 2-14 2-4 2 10 2 0 2-3 2-6 2 4 2 6 2-2 2-15 2 15 2 5 2-13 2-6 2 6 2 11 2-8 2 0 2-15 2 13 2 0 2 3 2 7 2-11 2 10 2 2 2-2 2-9 2 10 2-9 2 1 2-7 2 3 2 0 2 12 2-5 2-1 2-3 2-1 2-3 2 3 2 10 2-9 2 12 2-14 2 1 2 9 2-8 2 6 2-8 2 10 2-6 2-1 2 4 2-8 2-9 2 7 2 9 2 3 2-16 2 10 2 1 2-11 2-2 2 18 2-7 2-4 2 4 2-12 2 11 2-3 2-1 2 7 2-1 2-5 2-3 2-2 2 4 2 8 2-19 2 5 2 2 2 7 2-7 2 6 2-15 2 6 2 9 2-17 2 15 2 5 2-3 2 0 2-9 2 2 2 8 2-3 2 7 2-7 2-1 2-1 2 8 2-3 2-8 2 6 2-8 2 10 2-7 2 10 2 0 2-4 2-13 2 6 2 5 2 0 2 0 2 4 2-9 2-3 2-1 2 14 2-1 2-8 2 3 2 7 2-9 2 6 2 1 2 5 2-5 2 2 2-8 2-7 2 8 2-7 2-1 2 13 2-9 2 3 2 3 2-12 2 15 2 7 2-15 2 5 2-14 2 10 2 5 2-1 2-2 2 6 2-5 2 10 2-8 2-3 2 2 2-13 2 17 2 1 2-13 2-5 2 12 2 4 2 8 2-14 2 1 2 4 2 8 2-13 2 3 2-2 2 10 2 3 2 3 2-2 2-4 2-8 2 6 2 4 2-3 2-9 2 3 2-1 2 7 2-4 2-4 2 6 2-2 2-13 2 15 2-5 2 4 2-11 2 0 2 7 2-16 2 8 2 2 2 4 2-11 2 18 2-13 2-4 2 3 2 6 2-6 2-4 2 5 2-7 2 5 2-6 2 7 2 20 2-24 2 2 2-13 2 12 2 1 2-4 2 1 2-4 2 10 2-5 2-12 2 10 2 4 2-1 2 13 2-14 2 1 2-5 2 7 2-7 2 7 2-6 2-1 2 0 2 15 2-17 2 12 2-5 2-8 2 6 2-3 2 6 2 5 2 5 2-14 2-1 2 0 2 4 2-5 2 14 2-4 2-7 2-15 2 18 2-7 2 19 2-10 2-5 2 5 2 7 2-8 2 2 2-15 2 6 2-2 2 9 2-11 2-1 2 7 2 2 2 4 2 5 2-1 2-7 2 1 2-12 2 17 2-11 2 2 2 2 2-5 2 4 2 7 2 2 2 3 2-5 2-8 2 6 2-9 2-7 2 17 2-6 2 1 2-3 2 8 2-1 2 7 2-6 2 1 2 0 2 8 2-19 2 10 2-2 2 7 2-6 2 4 2-3 2-2 2 8 2 4 2-4 2-9 2 3 2 9 2-6 2 6 2-4 2 8 2-13 2 7 2 3 2-1 2-10 2 2 2 3 2-10 2 10 2-1 2 1 2 0 2-2 2 9 2 2 2-7 2 9 2-1 2-8 2 12 2-2 2-3 2-7 2 4 2-5 2 8 2-6 2-5 2 0 2 4 2-2 2 8 2 1 2-3 2-3 2 1 2-2 2-1 2 7 2 1 2 0 2-9 2-1 2 8 2 14 2-15 2-4 2 12 2-7 2-3 2-4 2 11 2-7 2-2 2 3 2 8 2-2 2-10 2-5 2 20 2-8 2 11 2-9 2 1 2-3 2 0 2 1 2-1 2 9 2-10 2-1 2 9 2-12 2 4 2 2 2-9 2 11 2-3 2 6 2-3 2-9 2-1 2 4 2 3 2 1 2-1 2 5 2-10 2 4 2 11 2-8 2 0 2 5 2-11 2 9 2-2 2-9 2 11 2 7 2-7 2-2 2 10 2-6 2 8 2-3 2-7 2-4 2 2 2 8 2-13 2 20 2-27 2 17 2 3 2-11 2-7 2 9 2 1 2 7 2 3 2-6 2 3 2 4 2-11 2 2 2 2 2 15 2-34 2 6 2 9 2-2 2 5 2 5 2-1 2-5 2-2 2 9 2-9 2 15 2-4 2-7 2 4 2-6 2 2 2 2 2-8 2 0 2 3 2 7 2-9 2 3 2 6 2 6 2-6 2-1 2-10 2 5 2 4 2-1 2 1 2 6 2 1 2-10 2-2 2-4 2 3 2 10 2 3 2-11 2 2 2-2 2 17 2-3 2-12 2 4 2-13 2 9 2 15 2-14 2 1 2 1 2-8 2-1 2-3 2 18 2-10 2 1 2 8 2-11 2 3 2-1 2 6 2-3 2-9 2 16 2 2 2-6 2-3 2 1 2-6 2 4 2 8 2-4 2-9 2 0 2 6 2 9 2-13 2 6 2 5 2-10 2 7 2-4 2-5 2 10 2-10 2 7 2 6 2-13 2 14 2 1 2-3 2-6 2 0 2 0 2 1 2-5 2 7 2 7 2-16 2 17 2-16 2 2 2 2 2 2 2 1 2 9 2-6 2 3 2-9 2 5 2-12 2 3 2 20 2-14 2 4 2 1 2-1 2-11 2 8 2 12 2-7 2-8 2 3 2-3 2 3 2 0 2-1 2-4 2-11 2 18 2-1 2 1 2 4 2-8 2 8 2-7 2 6 2-2 2-8 2 10 2-2 2-3 2-1 2 1 2-4 2-3 2 7 2 4 2-5 2 10 2-18 2 18 2-8 2 3 2-4 2 2 2-2 2 2 2-9 2 10 2-4 2-5 2 10 2-4 2 9 2-13 2 11 2-4 2-7 2 9 2-9 2 9 2-8 2-11 2 11 2 4 2 4 2 2 2 0 2-4 2-2 2-4 2 6 2-6 2 4 2-3 2 6 2-6 2-2 2 1 2 6 2-6 2 10 2-13 2 8 2-4 2-5 2 6 2 3 2 1 2-5 2-4 2 2 2 1 2 13 2-17 2 6 2 13 2-18 2 15 2-1 2-4 2-1 2-13 2 9 2-1 2 9 2-1 2-13 2-7 2 9 2 16 2-11 2 0 2 4 2-6 2 4 2-7 2 6 2-7 2 7 2 3 2-4 2 5 2-3 2 0 2 4 2-5 2-7 2 1 2 4 2 7 2-9 2 2 2 8 2 2 2-16 2 1 2 6 2 1 2-4 2-5 2 21 2-10 2 6 2-4 2-1 2-13 2 12 2-1 2 0 2-5 2-2 2 7 2 3 2 2 2-4 2-11 2 8 2-1 2-1 2-3 2 10 2-7 2 4 2 3 2-7 2 2 2-1 2 10 2-11 2-4 2 21 2-26 2 22 2-6 2 0 2 0" stroke="#999999"/>
<path d="M282 1504l2-1 2 0 2 2 2 3 2-17 2 21 2-8 2 1 2-6 2 1 2 5 2-8 2-1 2 10 2-3 2-3 2 12 2-8 2 1 2-3 2 1 2-5 2 12 2-16 2 5 2-7 2 9 2 3 2-1 2 3 2-7 2 6 2-1 2-6 2 4 2 5 2-15 2 6 2 0 2 6 2-4 2 4 2 5 2-5 2-1 2-5 2-3 2 5 2 11 2-22 2 13 2-5 2 8 2 3 2-20 2 14 2-1 2-1 2-3 2 7 2 0 2 6 2-11 2 4 2-5 2 1 2 14 2-5 2-7 2 0 2 2 2 7 2-2 2-6 2-6 2 4 2 11 2-13 2 3 2-15 2 19 2-2 2 9 2-20 2 5 2 0 2 9 2-4 2-7 2 10 2-19 2 23 2-2 2-13 2 4 2-13 2 18 2 1 2-7 2 13 2-10 2 6 2-1 2-1 2 0 2-3 2-3 2-2 2 5 2 5 2 5 2-7 2-3 2 0 2 1 2-6 2 1 2 7 2 4 2 2 2-5 2-6 2 9 2-4 2-3 2 11 2-10 2 7 2-8 2 1 2 1 2 8 2-9 2 2 2 5 2-13 2 2 2-7 2 16 2 5 2-16 2 8 2 9 2-13 2 0 2 8 2-9 2-3 2 5 2-16 2 12 2 9 2-6 2 0 2 2 2-2 2-2 2 3 2-7 2 10 2-3 2 4 2-5 2 11 2-17 2 5 2 8 2-10 2 13 2 4 2-18 2-2 2 10 2 2 2-1 2-9 2-2 2-4 2 13 2-6 2-8 2 14 2 2 2-2 2-5 2 7 2-18 2 15 2 2 2-5 2-3 2 1 2 11 2-12 2-8 2 13 2-9 2 7 2-3 2 3 2-6 2 4 2 6 2-2 2 7 2-7 2-4 2 1 2 4 2-5 2-5 2-7 2 15 2 5 2-6 2-2 2-4 2 3 2 6 2 6 2-7 2-3 2 7 2-1 2-20 2 9 2-7 2-3 2 14 2-2 2-1 2 5 2-4 2 2 2 0 2-6 2 16 2-7 2-6 2 3 2-6 2 5 2 0 2-6 2-1 2 12 2-12 2 11 2-11 2 1 2 7 2-12 2 18 2-7 2-4 2 10 2-21 2 18 2-7 2 3 2-5 2-3 2 1 2 7 2-6 2-2 2-10 2 0 2 17 2-6 2-9 2 6 2 2 2-5 2 2 2-1 2 3 2-2 2 4 2 0 2-4 2-1 2-3 2 6 2 4 2-7 2 1 2 2 2-10 2 3 2 5 2-4 2 5 2-6 2 9 2-6 2-6 2-5 2 5 2-1 2 0 2-3 2-4 2 13 2-8 2 2 2-5 2 0 2 4 2-1 2 7 2-2 2-2 2 7 2-8 2-6 2 9 2 4 2-5 2 3 2-5 2-4 2-8 2 5 2-10 2 18 2-10 2 9 2 1 2-7 2-1 2-3 2 5 2-3 2 1 2-2 2 2 2 9 2-10 2-3 2-1 2 6 2-5 2 3 2-1 2-4 2-7 2 10 2-11 2 15 2-11 2 3 2 2 2-5 2 10 2-15 2 10 2 1 2 5 2-3 2 3 2-4 2-15 2 12 2-4 2 2 2-1 2 6 2-16 2 11 2-4 2-6 2 5 2 3 2-10 2 8 2-4 2 5 2-3 2-5 2 15 2-17 2 13 2-10 2-1 2 8 2-8 2-3 2 3 2 10 2-14 2 17 2-4 2 0 2-3 2-7 2 2 2 5 2 2 2-1 2-4 2-3 2 16 2-20 2 6 2-7 2 13 2-9 2 5 2 5 2-23 2 8 2-6 2 3 2 0 2 3 2 11 2-7 2 2 2 6 2-8 2-2 2 8 2-6 2-7 2-7 2 8 2 3 2-4 2 7 2 5 2-5 2-19 2 11 2-4 2 9 2-3 2-4 2-1 2-3 2-5 2 5 2-7 2 2 2 7 2-9 2 4 2-4 2-7 2 6 2-8 2 2 2-6 2 3 2-6 2-8 2-7 2 12 2-16 2-2 2-3 2-5 2-8 2 2 2-4 2 9 2 7 2-15 2 5 2 7 2-7 2 6 2 3 2 16 2 0 2-5 2 9 2 3 2 2 2-9 2 11 2 3 2 3 2 0 2 5 2-6 2 8 2 11 2-19 2 11 2 0 2-7 2-16 2 19 2-6 2-2 2 5 2-8 2-2 2 9 2-1 2 7 2-12 2-4 2 2 2 2 2 1 2-7 2 0 2-9 2 7 2 2 2-2 2-12 2-12 2 3 2 4 2-10 2-1 2 11 2-21 2-3 2 11 2-10 2 8 2-13 2-3 2-5 2-13 2-6 2-1 2 3 2-11 2 9 2-8 2 0 2-4 2-6 2-14 2 1 2 1 2-13 2 3 2-10 2 5 2-5 2-7 2-2 2-3 2-11 2-5 2 0 2-21 2-14 2-15 2-12 2-9 2-1 2-6 2-3 2 14 2 11 2 6 2 7 2 18 2 11 2 18 2 11 2 18 2-1 2 17 2 8 2 13 2 4 2 9 2 6 2 16 2 19 2 9 2-3 2 9 2 8 2-7 2 16 2 7 2-5 2-6 2 4 2 14 2-3 2 3 2 6 2-1 2-1 2 2 2-6 2 18 2 1 2-8 2 6 2-5 2 9 2 3 2-7 2 0 2 10 2-5 2 4 2-6 2 19 2-12 2 0 2 7 2-13 2 13 2 0 2 5 2-11 2-7 2 12 2 2 2-2 2-1 2 9 2-3 2-10 2 7 2-9 2 6 2-8 2 5 2-1 2-4 2 10 2 1 2-4 2-5 2 17 2-9 2-1 2-1 2 9 2-18 2 13 2-7 2 12 2-10 2 0 2 8 2 0 2 2 2-1 2 7 2-15 2 8 2 1 2-2 2 6 2-2 2-3 2 5 2-10 2 4 2-4 2 10 2-11 2 0 2 7 2-2 2-6 2 6 2 6 2 3 2-16 2 6 2-5 2 1 2 10 2-2 2 4 2-11 2 3 2-4 2 10 2-9 2-1 2-1 2 10 2-1 2-1 2 6 2-6 2-5 2 16 2-15 2 0 2 10 2-6 2 1 2-10 2 10 2-6 2 6 2-3 2 3 2-6 2 2 2 3 2-8 2-4 2 16 2-9 2 15 2-8 2 0 2-5 2 3 2-2 2-8 2 5 2 1 2 6 2-5 2-12 2 6 2 5 2 5 2-2 2-8 2-2 2 5 2-2 2 5 2-3 2 1 2 4 2-11 2 4 2 5 2 1 2-3 2-12 2 9 2-3 2 0 2-13 2 13 2 1 2 2 2-4 2 0 2 2 2-8 2 8 2-9 2 4 2 9 2-2 2 0 2 4 2-4 2-1 2-6 2 1 2 11 2-12 2 9 2-3 2 6 2-14 2 7 2-13 2-3 2 7 2-7 2-15 2-3 2 1 2 2 2 14 2-4 2 7 2-3 2 20 2-1 2-2 2 11 2 1 2 5 2-3 2 8 2-15 2 15 2 1 2-7 2 11 2-9 2 13 2-4 2-4 2-2 2 3 2-2 2 7 2-6 2 5 2-8 2-3 2 7 2-1 2 2 2-4 2-2 2 8 2 2 2-9 2-1 2 4 2 1 2-4 2 2 2-7 2 3 2 4 2 2 2 0 2-3 2 6 2-8 2 8 2-3 2-5 2 2 2-4 2 0 2 0 2 10 2-2 2-6 2 3 2-2 2 11 2-9 2 5 2 2 2 1 2 3 2-7 2-8 2 12 2 1 2-13 2 9 2 2 2-3 2 2 2-8 2 3 2-1 2 14 2-8 2-2 2-3 2 5 2 0 2-2 2-5 2 1 2-3 2-2 2 11 2-5 2 5 2-3 2-1 2-1 2 2 2 0 2 2 2-7 2 10 2-9 2-6 2-3 2 0 2 12 2 1 2-10 2 4 2-7 2 6 2 6 2-4 2-4 2-3 2 5 2 1 2-5 2 1 2 5 2-4 2-8 2 13 2-7 2-10 2 16 2 2 2-7 2-5 2-3 2 3 2-8 2 13 2 0 2-8 2 14 2-4 2 3 2-5 2 4 2-5 2-7 2 6 2-7 2 2 2 4 2-5 2-1 2 11 2-13 2 9 2 2 2-8 2 9 2-6 2 8 2 0 2-2 2 9 2-7 2 9 2-9 2 2 2 5 2 5 2-10 2-2 2 0 2 1 2 8 2-10 2-4 2-7 2 13 2 2 2-2 2 1 2 1 2-4 2 4 2-5 2 3 2 15 2-2 2-10 2-2 2 1 2 7 2-11 2 4 2-1 2 7 2-3 2-7 2-6 2 14 2 3 2-10 2 11 2-16 2 1 2-3 2 13 2-5 2 6 2-19 2 18 2-3 2 8 2-5 2-11 2 23 2-14 2 6 2-12 2 7 2 3 2 1 2-2 2-10 2-3 2 4 2 7 2-11 2 18 2-13 2 8 2-18 2 26 2-2 2-19 2 0 2 11 2-11 2 15 2-1 2-11 2 3 2 0 2 3 2 4 2-2 2-10 2 0 2 8 2 5 2-10 2-1 2 2 2 0 2 3 2-3 2 2 2-5 2 9 2-1 2-2 2-2 2-4 2-3 2 7 2-2 2-1 2 9 2-9 2 2 2 10 2-5 2-8 2 4 2-4 2 3 2 0 2-9 2 7 2-5 2 9 2-2 2-1 2-2 2 8 2-9 2-1 2 4 2-2 2-5 2 10 2 2 2-4 2-1 2 1 2 4 2-10 2 5 2 6 2-11 2 9 2-9 2 10 2 4 2-5 2-1 2-8 2 8 2-8 2 8 2-4 2 7 2-7 2 5 2-1 2-3 2-2 2 6 2-16 2 25 2-15 2 5 2 8 2-17 2 2 2 10 2-7 2 1 2 0 2 2 2-2 2 5 2-8 2 4 2-7 2 10 2-13 2 19 2-12 2 11 2-6 2 0 2-5 2 5 2 3 2-2 2 7 2-9 2 10 2-18 2 5 2 2 2 0 2 4 2 1 2-11 2 5 2-5 2 7 2 1 2-21 2 24 2-9 2 4 2 2 2-2 2 6 2 2 2-22 2 28 2-15 2 3 2-2 2-4 2 4 2 1 2 1 2 4 2-2 2-7 2 11 2-3 2-7 2 6 2 2 2-6 2 1 2-13 2 3 2 15 2-6 2 5 2-12 2 3 2 4 2-6 2 0 2 12 2-6 2 8 2-14 2 11 2 0 2 14 2-18 2 6 2-2 2-5 2-8 2 3 2 0 2 2 2 5 2 2 2-11 2 8 2 0 2 1 2-10 2-1 2 10 2-4 2 0 2 8 2-12 2-4 2 4 2 12 2-10 2 5 2-1 2 8 2-15 2 6 2-1 2-2 2 2 2-11 2 12 2-10 2 12 2-6 2-8 2 6 2 6 2-8 2-7 2 10 2 1 2-1 2 2 2 5 2-1 2 1 2-1 2 4 2-18 2 0 2 2 2 5 2 2 2-7 2 11 2-1 2-2 2-1 2 4 2 8 2-18 2 3 2-8 2 4 2 0 2 9 2-14 2 8 2 1 2-6 2 3 2 7 2 0 2-9 2 2 2 2 2 4 2 9 2-14 2 0 2 4 2-4 2 5 2-9 2-4 2 21 2-8 2-6 2 11 2-5 2 0 2 1 2 11 2-13 2-2 2 8 2 1 2-8 2 3 2 11 2-4 2 4 2-9 2 2 2-6 2-6 2 17 2-11 2 6 2-4 2 5 2-3 2 13 2-10 2-3 2 3 2-14 2 17 2-7 2 10 2-12 2 13 2-20 2 9 2 10 2-3 2-6 2 8 2-10 2 10 2 3 2 1 2-14 2 13 2 0 2-6 2 0 2 1 2-5 2 1 2 4 2 2 2-5 2-9 2 12 2-14 2 25 2-10 2-9 2 10 2 0 2-7 2-6 2 14 2-5 2-3 2 7 2-8 2 9 2 3 2-21 2 9 2 8 2-4 2-11 2 16 2-8 2 9 2-14 2 9 2 1 2 0 2-7 2-4 2 12 2 2 2-5 2 2 2 1 2-9 2 12 2 2 2 2 2-8 2-7 2-10 2 17 2 4 2-2 2 0 2-10 2 13 2 2 2 6 2-7 2 2 2-19 2 2 2 1 2 12 2-4 2-6 2 1 2 8 2-12 2 11 2 1 2 9 2-11 2-11 2 18 2-6 2-2 2 4 2-2 2-5 2 2 2 0 2 9 2-2 2-11 2 7 2-3 2 4 2 2 2-4 2 8 2 0 2-11 2 5 2-6 2-2 2 1 2 1 2 1 2 8 2-1 2-5 2-8 2 13 2 2 2 5 2-6 2 1 2-11 2 7 2 4 2-6 2 0 2 17 2-7 2-6 2 6 2-4 2-5 2 3 2 0 2 6 2-6 2 1 2-7 2 1 2 5 2 1 2 4 2-1 2-1 2-7 2 8 2-10 2 9 2 2 2 5 2-10 2 3 2-1 2-8 2 13 2-7 2 6 2-10 2 9 2 1 2-3 2 11 2-10 2 3 2-15 2 15 2-13 2-5 2 9 2 2 2 13 2-11 2 1 2-3 2 2 2-9 2 12 2 0 2-10 2-3 2 7 2 5 2-6 2-5 2 12 2-11 2 13 2 3 2-17 2 14 2 0 2 0 2 5 2 10 2-16 2 0 2-2 2-1 2 8 2-1 2-4 2 8 2 0 2-2 2-6 2 1 2 9 2-3 2-3 2-7 2 1 2 3 2-1 2 6 2-1 2-15 2 11 2 2 2-9 2-2 2 8 2-1 2 9 2-8 2 1 2 7 2-1 2-10 2 4 2-4 2-2 2 11 2-13 2 0 2 1 2 6 2-1 2-5 2 9 2-21 2 12 2 5 2 4 2 0 2-10 2-3 2 0 2 13 2-4 2 3 2-3 2-5 2-4 2 18 2-18 2 2 2 14 2-13 2 9 2 5 2-1 2-3 2-2 2 5 2-5 2 2 2-5 2 0 2-6 2 16 2-7 2 9 2-19 2 0 2 6 2-3 2 4 2-2 2 1 2 3 2 8 2-5 2-8 2 4 2-1 2 10 2-20 2 7 2 6 2 3 2-7 2-2 2 4 2 5 2 5 2-3 2-9 2 9 2-11 2 3 2 8 2-14 2 14 2-13 2 11 2-4 2 3 2-1 2-10 2 8 2 3 2-5 2 6 2-12 2 4 2 3 2 2 2-1 2 1 2 5 2-10 2 8 2-4 2-1 2-5 2 13 2-5 2-5 2 1 2-2 2 9 2-13 2 5 2 1 2 2 2-5 2 0 2 9 2 4 2-13 2 2 2 0 2-2 2 8 2-17 2 14 2-3 2 3 2 1 2 1 2 0 2-4 2 0 2 4 2 3 2 0 2-7 2-1 2 10 2-4 2 5 2-8 2-2 2 5 2-11 2 12 2-7 2 0 2 3 2-6 2 3 2 11 2-14 2 7 2-6 2 12 2 4 2-21 2 13 2 0 2 3 2 1 2-3 2 2 2-8 2 14 2-6 2-9 2 4 2 1 2-6 2 3 2-1 2 10 2 4 2-7 2 6 2-14 2 7 2-2 2 6 2-8 2 3 2 0 2-1 2-4 2 10 2-9 2 6 2-8 2 0 2 2 2 1 2 10 2-9 2 1 2 0" stroke="#63639E"/>
<path d="M282 1661l2-7 2-2 2 10 2-4 2 7 2-17 2 14 2-7 2 5 2-4 2 0 2-5 2-1 2 19 2-12 2 17 2-19 2 1 2 3 2-1 2-3 2 9 2-11 2 1 2 14 2-9 2 0 2-10 2 6 2 10 2-9 2-8 2 16 2-13 2 11 2 10 2-5 2-8 2-3 2-2 2 7 2-1 2 8 2-8 2 12 2-9 2 7 2-23 2 15 2-6 2 2 2-8 2 12 2-8 2 12 2 5 2 5 2-24 2 8 2 7 2-13 2 13 2 0 2-12 2 9 2-2 2 0 2 5 2-6 2 4 2-4 2-2 2-4 2 11 2-7 2 11 2-8 2-5 2 1 2 6 2 2 2-6 2-4 2 6 2-7 2 12 2-12 2 14 2-13 2 2 2 9 2-4 2-2 2 0 2 10 2-13 2 3 2 8 2 1 2-7 2 0 2 0 2 7 2-16 2 10 2-1 2-2 2 1 2-6 2 6 2 1 2-4 2 7 2 3 2-2 2-5 2-1 2 0 2-6 2 7 2 5 2 1 2-4 2-6 2 4 2 2 2-2 2-11 2 7 2 2 2-1 2 5 2-4 2-17 2 16 2-3 2 10 2-2 2-1 2 5 2-6 2-2 2-4 2 10 2-6 2 5 2-15 2 20 2-6 2 1 2-5 2-6 2 7 2-2 2-2 2 1 2 6 2-4 2-6 2 9 2 0 2 0 2-14 2 7 2 4 2 8 2-13 2 0 2 3 2-5 2 16 2-13 2 8 2-8 2 15 2-6 2-2 2 8 2-6 2-11 2 9 2-2 2 7 2-6 2-6 2 14 2-9 2-5 2-2 2 9 2-10 2 6 2 2 2-12 2 3 2-4 2 12 2-2 2 1 2-2 2 5 2 18 2-17 2-4 2 0 2 9 2-18 2 7 2 8 2-4 2 3 2-13 2 5 2-4 2 4 2-14 2 12 2 0 2-1 2 7 2-3 2-6 2 7 2-9 2 3 2 3 2-2 2 6 2-8 2-2 2 8 2-4 2-7 2 19 2-10 2-5 2 0 2-6 2 6 2-6 2 9 2-1 2-11 2 8 2 4 2-3 2-1 2 5 2-12 2 5 2-3 2-2 2-4 2 12 2-8 2 6 2 2 2-6 2 10 2-16 2 0 2-1 2 2 2 6 2 2 2-6 2-4 2-1 2-7 2 9 2-9 2 6 2-4 2 16 2-24 2 17 2-15 2 7 2-1 2 5 2 5 2-2 2-16 2 15 2-16 2 4 2 12 2-16 2 3 2 3 2-7 2 9 2-12 2 14 2-5 2-2 2 7 2-14 2 9 2-1 2-3 2 1 2-4 2-6 2-3 2 14 2 1 2-6 2-1 2-6 2 16 2-12 2 6 2 0 2-9 2 5 2 3 2-5 2 2 2 2 2-17 2 15 2-3 2 0 2-8 2 5 2 2 2-2 2 3 2-4 2 2 2 0 2 11 2-11 2-8 2 1 2 11 2 1 2-7 2 4 2 1 2-13 2 13 2-1 2 0 2-12 2 12 2 3 2-7 2-2 2-2 2-4 2 13 2-2 2 1 2 4 2-10 2-5 2 0 2 7 2 1 2 0 2 8 2-13 2 3 2-8 2 1 2 1 2 4 2 15 2-12 2 1 2-10 2 5 2-3 2 10 2-6 2 6 2-11 2 6 2 2 2 6 2 1 2-15 2 11 2-8 2 1 2-2 2 2 2-11 2 12 2-6 2 3 2-12 2 10 2-2 2 0 2 1 2 4 2-5 2 2 2-7 2-3 2 2 2 5 2 0 2-1 2 0 2-3 2-5 2 5 2 2 2-1 2-15 2 21 2-17 2 9 2-13 2 7 2-3 2 4 2-5 2-7 2 11 2-18 2 5 2-8 2 13 2-6 2-4 2 8 2-6 2-8 2 0 2-1 2-5 2 3 2-6 2-5 2-2 2-9 2 3 2-2 2-9 2-10 2-3 2-10 2 3 2-6 2-15 2-2 2-12 2-3 2-8 2 9 2-9 2 18 2 0 2 16 2 5 2 4 2 7 2 13 2 9 2 4 2 3 2-3 2 8 2-7 2 2 2 0 2 3 2-9 2 11 2-1 2 2 2 16 2-17 2-8 2 2 2 9 2-5 2 4 2 0 2-4 2-11 2 4 2 0 2 3 2-8 2 3 2 7 2-17 2-8 2-2 2 10 2-4 2 12 2-20 2-5 2 6 2 3 2 1 2-3 2-10 2-13 2-8 2-9 2 0 2-7 2-12 2 0 2-8 2 4 2-4 2-3 2-13 2-3 2-3 2-12 2 0 2-5 2-5 2-12 2 4 2-14 2-15 2-10 2-7 2-5 2-8 2-10 2-12 2-11 2-18 2-7 2-7 2-9 2-20 2-1 2-9 2-24 2-9 2-2 2-4 2 2 2 1 2-1 2-4 2 11 2 30 2 15 2 16 2 16 2 20 2 27 2 14 2 17 2 16 2 20 2 18 2 15 2 13 2 6 2 26 2 9 2 0 2 19 2 7 2 14 2 16 2 0 2 3 2-6 2 17 2-9 2 14 2-2 2 2 2-17 2 22 2 4 2-2 2 5 2 7 2-6 2 3 2-1 2-4 2 14 2 0 2-7 2 2 2 7 2-2 2-5 2 2 2 12 2-10 2 2 2 4 2 1 2 1 2-6 2 0 2 2 2-5 2 15 2-11 2 7 2-10 2 0 2 0 2-5 2 1 2 4 2 7 2 11 2-8 2 0 2 4 2-8 2 5 2 1 2-8 2-3 2 10 2 4 2-14 2 14 2-10 2-3 2 1 2-5 2 9 2 1 2 8 2-3 2 4 2 5 2-3 2-11 2-1 2 5 2-1 2 4 2-12 2 6 2 16 2-9 2 5 2 0 2-10 2 9 2-2 2 1 2 1 2-7 2 1 2-3 2-1 2 3 2-4 2 14 2-3 2-1 2 4 2-13 2 21 2-21 2 12 2 0 2-3 2 6 2-3 2 6 2 1 2-5 2 11 2-5 2-7 2 0 2 8 2-17 2 8 2 7 2 3 2-3 2 0 2-4 2-1 2 14 2-10 2 3 2-1 2 8 2-18 2 10 2-4 2 3 2 3 2-7 2 6 2-5 2 7 2-5 2 0 2 4 2-5 2 2 2-4 2 2 2-10 2 0 2 7 2-3 2-1 2-3 2-7 2 11 2-1 2-6 2-8 2 0 2 10 2-6 2 1 2-4 2 6 2-4 2-7 2-4 2 5 2-3 2 0 2 11 2 0 2-4 2-2 2 11 2-16 2 4 2-4 2-2 2 10 2-7 2-4 2-1 2 3 2-2 2-5 2 2 2 6 2-11 2 4 2 14 2-11 2-7 2 1 2-9 2-8 2-4 2-23 2-13 2-7 2 22 2 34 2 24 2 8 2 9 2 17 2 4 2-3 2 0 2 2 2-7 2 5 2-6 2 14 2-5 2 2 2-9 2 9 2-1 2-7 2 10 2-7 2 2 2 1 2-6 2 3 2 1 2-6 2 5 2 6 2-6 2-3 2 8 2-3 2 4 2 14 2-9 2 0 2-5 2 1 2-2 2 2 2 3 2 1 2-3 2-4 2 9 2-14 2 6 2 5 2 8 2-5 2 5 2-7 2-9 2 6 2-3 2 4 2-3 2 1 2 5 2 1 2 6 2-18 2 8 2 4 2-3 2-4 2 1 2-7 2 4 2 5 2-1 2-4 2 3 2 15 2-8 2-11 2-1 2 11 2-10 2-8 2 15 2 7 2-19 2-1 2 6 2 7 2-5 2-1 2-1 2 6 2 3 2-7 2 8 2-9 2 4 2-3 2-2 2 1 2-12 2 12 2 9 2-2 2-4 2-7 2-5 2 10 2-11 2 9 2 3 2-15 2 6 2 6 2-3 2-3 2 7 2 1 2-11 2-7 2 6 2 3 2 11 2-7 2-9 2 9 2-10 2-1 2 0 2 4 2 3 2-1 2-7 2 5 2-13 2 8 2-7 2 10 2 3 2 3 2-10 2 9 2 0 2-6 2 2 2-5 2 14 2-8 2-6 2-2 2 17 2-16 2 7 2-2 2 1 2 5 2 2 2-5 2 0 2 6 2-1 2 4 2-13 2 14 2 1 2-13 2 7 2 3 2-1 2 5 2 2 2 0 2-12 2 14 2-3 2-9 2-1 2 9 2-6 2 0 2-2 2 11 2-7 2 8 2-13 2 3 2 6 2 3 2 6 2-9 2-3 2-4 2 13 2-6 2 1 2-1 2 1 2-2 2 1 2 0 2 0 2 4 2-3 2-10 2 1 2 3 2 4 2 3 2 1 2-2 2-3 2-6 2 8 2 1 2-8 2 8 2-1 2-6 2 6 2 0 2-5 2 8 2-5 2-2 2-8 2 11 2-9 2 11 2-2 2 4 2-5 2-3 2 2 2-6 2 10 2-2 2-2 2 6 2-14 2 8 2-6 2 3 2 0 2-3 2 13 2-11 2-6 2 17 2-5 2 1 2-3 2 0 2 4 2 0 2-9 2 8 2-20 2 12 2-1 2 0 2-5 2 6 2 7 2-18 2 6 2 6 2-1 2-8 2 4 2-2 2 2 2-1 2-6 2 2 2-3 2 6 2 6 2 1 2-3 2-4 2-11 2 11 2-10 2 2 2 1 2 5 2-1 2-8 2-3 2 11 2-2 2-8 2 11 2-9 2 9 2 2 2 4 2-8 2-9 2 18 2-20 2 8 2-3 2 5 2 4 2 1 2-12 2-8 2 18 2 2 2 4 2-4 2-8 2 1 2-7 2 11 2-6 2 7 2-7 2-1 2-6 2 10 2-1 2 5 2-8 2 8 2-5 2 9 2-10 2 3 2 4 2 5 2-9 2 4 2 5 2-7 2 10 2-9 2 2 2 4 2-2 2 3 2 2 2-8 2 3 2-7 2 6 2 3 2-5 2 7 2-3 2 0 2-2 2 2 2 2 2-3 2 3 2-8 2 6 2 3 2-11 2 7 2 2 2-4 2 7 2 6 2-2 2-5 2 3 2 6 2-11 2 2 2 2 2 2 2-7 2 5 2-13 2 13 2-5 2 2 2 13 2-13 2-8 2 10 2 3 2-6 2 1 2 3 2 0 2-8 2 11 2-3 2 0 2-1 2 6 2-3 2-6 2 5 2 2 2-12 2 4 2 2 2-9 2 15 2 0 2-20 2 7 2 12 2 3 2-8 2 6 2-16 2 7 2 7 2-12 2 0 2 2 2-1 2-6 2 1 2 14 2-10 2-3 2-5 2 7 2-2 2-6 2 13 2-9 2 5 2-7 2 3 2-8 2 4 2 1 2 6 2-8 2 11 2-11 2 4 2 2 2-3 2-4 2 0 2 5 2-5 2 20 2-13 2-5 2-6 2 12 2 5 2-15 2-12 2 20 2 6 2-12 2-3 2 2 2 7 2-9 2 6 2 2 2 2 2-11 2 6 2 11 2-13 2 5 2-5 2-4 2-2 2 5 2 1 2 5 2-10 2 0 2 8 2 7 2-14 2 6 2-12 2 22 2-7 2 2 2-6 2 1 2-2 2-2 2 13 2-4 2-8 2 1 2 3 2 2 2 7 2-17 2 5 2-6 2 8 2 4 2 9 2-3 2 0 2-6 2 13 2-4 2-7 2-1 2 7 2-9 2 3 2 7 2-2 2-2 2 3 2 0 2 0 2 3 2-10 2 14 2-6 2 1 2 2 2 3 2 10 2-16 2-1 2 4 2-1 2-6 2 6 2 0 2 10 2-3 2-15 2-1 2 20 2-11 2-8 2 7 2 9 2-5 2 8 2-2 2-10 2 6 2-12 2 9 2-1 2-1 2 1 2 8 2-16 2 2 2 3 2-2 2 6 2-5 2-7 2 9 2-5 2-4 2 11 2-9 2 2 2 6 2-7 2-1 2 2 2 4 2-2 2 7 2-10 2 11 2-4 2 1 2-3 2-7 2 6 2 5 2 2 2-8 2 3 2 3 2 9 2-10 2-7 2 1 2 6 2-9 2 22 2-19 2 7 2-4 2 7 2 7 2-20 2 9 2 0 2 5 2-5 2 4 2-6 2 11 2 1 2-8 2-8 2 10 2 1 2 3 2 6 2-15 2 20 2-15 2 9 2-8 2-1 2 9 2 9 2-11 2 9 2-5 2-5 2 13 2-3 2-5 2 5 2-1 2 5 2-8 2 0 2 6 2-12 2 9 2-2 2 0 2 8 2-4 2-1 2 5 2-4 2 3 2-7 2 6 2 6 2-8 2-5 2-3 2 4 2-1 2-1 2-1 2 2 2 0 2 3 2-1 2 9 2-9 2 0 2 2 2 0 2-5 2-1 2 2 2-1 2 9 2-11 2 3 2 3 2 2 2 5 2-10 2 1 2 8 2 0 2-8 2-5 2 8 2-10 2 14 2-3 2-10 2 11 2-10 2 3 2 8 2-12 2-4 2 4 2 7 2 0 2-5 2-7 2 8 2-3 2 9 2-13 2 13 2-5 2 3 2 1 2 0 2-8 2 10 2-11 2 11 2-4 2-3 2 3 2 1 2 0 2 4 2-10 2 4 2 14 2-16 2-2 2 9 2 3 2 0 2 0 2 1 2-10 2 8 2-10 2 7 2-6 2 6 2 1 2 0 2-3 2-2 2 9 2 2 2-9 2-8 2 10 2 5 2-7 2 0 2 6 2 3 2-12 2 0 2 3 2-5 2 10 2-10 2 14 2-1 2-7 2 6 2-1 2-8 2 8 2-6 2 13 2-17 2-1 2 3 2 0 2 11 2 2 2-1 2-4 2-11 2 1 2 2 2 2 2 6 2 0 2-2 2-8 2 12 2-4 2-9 2 11 2-6 2 15 2-17 2 10 2-5 2-9 2 3 2 1 2 5 2 8 2-4 2 6 2-4 2 3 2-6 2 2 2 1 2-5 2 2 2-4 2 2 2-3 2 3 2-1 2 8 2-9 2-1 2 6 2-4 2 0 2-4 2 8 2-1 2 5 2 4 2-3 2-7 2-6 2 1 2 6 2-8 2 9 2-4 2 2 2 4 2-2 2-12 2 2 2 16 2-8 2 8 2-8 2 2 2-4 2 6 2 1 2-3 2 4 2-4 2-11 2 13 2 2 2-9 2 9 2-11 2 5 2 3 2-14 2 15 2-3 2 5 2-7 2 2 2 0 2 0 2 2 2 5 2-13 2 5 2 3 2-11 2 14 2-7 2-1 2 6 2 7 2-10 2 7 2-9 2 3 2 0 2 4 2-2 2-6 2 1 2 2 2 4 2 10 2-13 2 9 2 2 2-13 2-2 2 10 2-13 2 15 2-8 2-3 2 6 2-11 2 14 2-3 2-15 2 3 2 11 2-1 2-1 2 1 2-5 2 2 2 10 2-19 2-2 2 21 2-4 2 6 2-4 2 1 2-4 2-8 2 2 2 10 2-4 2 3 2 4 2-8 2 11 2-13 2 2 2 4 2 1 2-6 2 7 2-14 2 11 2 3 2-4 2-1 2 1 2-5 2 15 2-9 2-2 2 1 2 2 2-4 2-4 2 12 2-8 2 1 2-8 2 12 2 3 2-1 2-1 2-12 2 19 2-6 2-5 2 6 2-2 2 0 2-4 2 3 2-2 2 5 2-4 2 3 2-2 2 4 2 1" stroke="#FF6666"/>
<path d="M282 1782l2 3 2-10 2 14 2 5 2-9 2 14 2-13 2 9 2-4 2-6 2 2 2-8 2 11 2 8 2-8 2 8 2-10 2-1 2 2 2-3 2 4 2 8 2-9 2-4 2 3 2 5 2-6 2-9 2 5 2 14 2-9 2 7 2-7 2-4 2 6 2 4 2-7 2-6 2 6 2-2 2 10 2-12 2 0 2-2 2 7 2-2 2 1 2 4 2-3 2 14 2-4 2-13 2 14 2-10 2 2 2-7 2 8 2 3 2-2 2-2 2 4 2-2 2-12 2 8 2 3 2-6 2 15 2-8 2-3 2 1 2 2 2-5 2-2 2-5 2 14 2-4 2-8 2 13 2-6 2-3 2-2 2 16 2-5 2-3 2 0 2-3 2 0 2 9 2-11 2-1 2 9 2-15 2 7 2-1 2 3 2-7 2 5 2 0 2 4 2 3 2 3 2-6 2-4 2-1 2 2 2 14 2-3 2-2 2-3 2-9 2 12 2-7 2-5 2 0 2 7 2-5 2 13 2-2 2-3 2-1 2 2 2-16 2 4 2 8 2-3 2-9 2 13 2-4 2-3 2 10 2 2 2-10 2 3 2 2 2-3 2 3 2-8 2 2 2 7 2-2 2 11 2-14 2 2 2-6 2 10 2-1 2 6 2-6 2 4 2-8 2 15 2-10 2-10 2 14 2-1 2-10 2 6 2 6 2-8 2 9 2-9 2 8 2-5 2-17 2 15 2-2 2 4 2-5 2 9 2-4 2-2 2 0 2 0 2-4 2 6 2-7 2 2 2-3 2 13 2 0 2-11 2 2 2-6 2 0 2 11 2 9 2-15 2 8 2-13 2 18 2 3 2-12 2 2 2 8 2-8 2-9 2 9 2-11 2 13 2-2 2 4 2-5 2 1 2-5 2 5 2-4 2-2 2 17 2-26 2 12 2-5 2 0 2 3 2 0 2 5 2-16 2 13 2-4 2 6 2-12 2-7 2 12 2-2 2-3 2 1 2 8 2-8 2 9 2-4 2-8 2-9 2 17 2-11 2-1 2 10 2 3 2 0 2-9 2 0 2-5 2 14 2-7 2 8 2-11 2-5 2 10 2-10 2-2 2 6 2 0 2-1 2-6 2 4 2-6 2-2 2 11 2 4 2-5 2 5 2-4 2 8 2-16 2 3 2-1 2 4 2 2 2-9 2-4 2-3 2-2 2 15 2-11 2 12 2-8 2 5 2 1 2-1 2 1 2-8 2 5 2-6 2-3 2 3 2 3 2-6 2 10 2-13 2-2 2 2 2 10 2-7 2 3 2 0 2-11 2 6 2 6 2-1 2-5 2 3 2-2 2 2 2-13 2 2 2 13 2-8 2-6 2 8 2-1 2-7 2 5 2-9 2 12 2-4 2 1 2 3 2-3 2-5 2-4 2 2 2 0 2 3 2-1 2-1 2-2 2 11 2-8 2-7 2 7 2 5 2-5 2 2 2-8 2 9 2-1 2 3 2-11 2 16 2-6 2 1 2 0 2-13 2 9 2 2 2-1 2-15 2 4 2 2 2-4 2 9 2-6 2 4 2 7 2-9 2-3 2 0 2 10 2-15 2 10 2-2 2-4 2 2 2 13 2-9 2 1 2 0 2 1 2-3 2 5 2-6 2-5 2 3 2 0 2 8 2-17 2 4 2 3 2 1 2-2 2-4 2 4 2 2 2-9 2 6 2 1 2-1 2 9 2-16 2 9 2-1 2-9 2 12 2-11 2 6 2-5 2 2 2 5 2 2 2-5 2 0 2-2 2 5 2-2 2-15 2 21 2-15 2-5 2 4 2 3 2-1 2-6 2 10 2-6 2 3 2 8 2-8 2-8 2-1 2 2 2 5 2 2 2-10 2 1 2 2 2 1 2 1 2-1 2-13 2 7 2-10 2 3 2 1 2-3 2-6 2-7 2 6 2-6 2-19 2 13 2-7 2-20 2 11 2-9 2-6 2-12 2-2 2 2 2 1 2-5 2 4 2-14 2-9 2-1 2 5 2-4 2-1 2-6 2-1 2-5 2 2 2 4 2 6 2 2 2 9 2 16 2 23 2-6 2 5 2-4 2 3 2 12 2 3 2-11 2 5 2 2 2-2 2 6 2 1 2 3 2-6 2 3 2 5 2-3 2 8 2 0 2-6 2 0 2-2 2 12 2-17 2-5 2-5 2 0 2 7 2-3 2-3 2-17 2 20 2-8 2-17 2 8 2-10 2 15 2-15 2-9 2-8 2 11 2-21 2 3 2-1 2-5 2-11 2 8 2-11 2 5 2-12 2-1 2-1 2-9 2-10 2-11 2 0 2-12 2-1 2-6 2-3 2-1 2-8 2-7 2-11 2-6 2-14 2 6 2-17 2-3 2-9 2-18 2 3 2-15 2-4 2-6 2-12 2-15 2-15 2-5 2-12 2-15 2-9 2-7 2-9 2-11 2 6 2 5 2 12 2 31 2 21 2 26 2 12 2 23 2 18 2 16 2 18 2 9 2 24 2 6 2 20 2 12 2 1 2 11 2 13 2 9 2 14 2-2 2 14 2 17 2-2 2 16 2-1 2 0 2 13 2 5 2-13 2 27 2-2 2 2 2-13 2 5 2 2 2 5 2 6 2 4 2 0 2-7 2 14 2-12 2 0 2 3 2 10 2-29 2 29 2-9 2-1 2-9 2 13 2-2 2 2 2-3 2 5 2-5 2 7 2 6 2 6 2-14 2 12 2-5 2 6 2-15 2-2 2 0 2 12 2 2 2-16 2 15 2 7 2-10 2 8 2-10 2 7 2-6 2 2 2-6 2 15 2 6 2-14 2 4 2-4 2 2 2 3 2 0 2 0 2 1 2 3 2 9 2-8 2-1 2-6 2 0 2 10 2-6 2 2 2-5 2 4 2-1 2 2 2-1 2 4 2 1 2-6 2 8 2-3 2 6 2-19 2 9 2 0 2 12 2-6 2 1 2-2 2-3 2 1 2 2 2-11 2 9 2-2 2 4 2-2 2-4 2 3 2-3 2 4 2 9 2-9 2 12 2-16 2 13 2-7 2 8 2-10 2 8 2 6 2-13 2 9 2 1 2-13 2 9 2-2 2-5 2 9 2 0 2-1 2-6 2 4 2-1 2 2 2 4 2-8 2-1 2 11 2-4 2-10 2 12 2 2 2 0 2-4 2-8 2 1 2 5 2 0 2-7 2 13 2-10 2-10 2 3 2 13 2-18 2 4 2-7 2 2 2 1 2-6 2 8 2 3 2-5 2-13 2 16 2-9 2 2 2 5 2-12 2 10 2-7 2 5 2-2 2 0 2 3 2 3 2-15 2 7 2-13 2 9 2 9 2-13 2 2 2-2 2 1 2 4 2-1 2-8 2-3 2 4 2 3 2-6 2-3 2-11 2-12 2-3 2-11 2 16 2 3 2 14 2 14 2 12 2 2 2-1 2 24 2-7 2-5 2 0 2 11 2-7 2 7 2-4 2 7 2 3 2-9 2 18 2-13 2 6 2 8 2-5 2 0 2-12 2-1 2 3 2 7 2 4 2-3 2-2 2-1 2-1 2 2 2-7 2 4 2 4 2 2 2-4 2 5 2 0 2 0 2-2 2-4 2-1 2 12 2-11 2 6 2 1 2-5 2 1 2-8 2 5 2 4 2 0 2-7 2 14 2-14 2 5 2-5 2 8 2-8 2 9 2-6 2 6 2-11 2 9 2-2 2 2 2 4 2-5 2 11 2-10 2-5 2-4 2 19 2-12 2 9 2-11 2 2 2 12 2-13 2 9 2-9 2-1 2 6 2-2 2-2 2 7 2-9 2 11 2-3 2-9 2 11 2-1 2 10 2-8 2 5 2-1 2-19 2 3 2 1 2-2 2 10 2-2 2 11 2-19 2 0 2 8 2-3 2 0 2-6 2 7 2-3 2-4 2 6 2-14 2 13 2 4 2-13 2 14 2-7 2-7 2 8 2-13 2 0 2 3 2 5 2-7 2-1 2 0 2 14 2-6 2-11 2 1 2 8 2 6 2-8 2 9 2-4 2-9 2 1 2 8 2 0 2-6 2 2 2-6 2 10 2 2 2-5 2 4 2 2 2-9 2 10 2-10 2 8 2-3 2-1 2 2 2 8 2-11 2 4 2 4 2 8 2-13 2-3 2 6 2-4 2-2 2 7 2 3 2-4 2-4 2-2 2 8 2 4 2-6 2-4 2-1 2-5 2 11 2-6 2-5 2 4 2-3 2 0 2 12 2-5 2-3 2 1 2-4 2 1 2 8 2-4 2 1 2-9 2 5 2 11 2-7 2 5 2-6 2 9 2-1 2 1 2-3 2-5 2 2 2 2 2 0 2-3 2 0 2 3 2-1 2 7 2-3 2 10 2-7 2-8 2 4 2 5 2 7 2-14 2 3 2 2 2 0 2-7 2 10 2-2 2 7 2-9 2 10 2-5 2 0 2-3 2-6 2-5 2 9 2-9 2 12 2-7 2-2 2 16 2 0 2 1 2-11 2-1 2 3 2 1 2 5 2-7 2-2 2 1 2-7 2 10 2-5 2 11 2-13 2 3 2-5 2 8 2 5 2 2 2-16 2 9 2-3 2 1 2 1 2-7 2-1 2-7 2 5 2 7 2-16 2 11 2-10 2 4 2 7 2-14 2 12 2-17 2 17 2-12 2 21 2-21 2-5 2 0 2 5 2-4 2 3 2-5 2 16 2-2 2-15 2 8 2-4 2 3 2 7 2-11 2-2 2-11 2 24 2-19 2 13 2-8 2 5 2-9 2 10 2-7 2 0 2 1 2 4 2-5 2 4 2-12 2 19 2-10 2 9 2-6 2-2 2 2 2 5 2 2 2 4 2-5 2-4 2 1 2-7 2 18 2-5 2 3 2-12 2 11 2 1 2 6 2-11 2 7 2-2 2 3 2 5 2-5 2 3 2-1 2-1 2-1 2 0 2 2 2 0 2 0 2-4 2-4 2 5 2-6 2 17 2-14 2 3 2 6 2-6 2 3 2 5 2-10 2 14 2-14 2 8 2-8 2 1 2-6 2 15 2-4 2-2 2 8 2-13 2 3 2-3 2-5 2 22 2-18 2 0 2 11 2-8 2-5 2 11 2 9 2-11 2-8 2 0 2 0 2-3 2 2 2 2 2 1 2 2 2 9 2-18 2 9 2-1 2-9 2 18 2-5 2-22 2 26 2-17 2 10 2 5 2-10 2 6 2-12 2 3 2 0 2 3 2 10 2-1 2-16 2-2 2 9 2-6 2-2 2 5 2 4 2-5 2 0 2-1 2 6 2 2 2-4 2-12 2 11 2-3 2-5 2 6 2 2 2 2 2 0 2-6 2-2 2 6 2 5 2-13 2 14 2-14 2-3 2 8 2-4 2-10 2 15 2 3 2 5 2-14 2-1 2 3 2-3 2 11 2-4 2-9 2 9 2-4 2 2 2-10 2-5 2 15 2-5 2 3 2 1 2-3 2 10 2-6 2-15 2 11 2 4 2-1 2-1 2-5 2 3 2 0 2 5 2-4 2-1 2 2 2-4 2 7 2-7 2 12 2-12 2 4 2-2 2 6 2-1 2-9 2 15 2-2 2-4 2-4 2-6 2 12 2-6 2 4 2-13 2 10 2 9 2 0 2-4 2 4 2-9 2 6 2-2 2-3 2 3 2 6 2 2 2-10 2 10 2 3 2 1 2-5 2 2 2-9 2 1 2 18 2-9 2-1 2 9 2-8 2 0 2 5 2 3 2-17 2 1 2 15 2 1 2-12 2 8 2 6 2-2 2-3 2 8 2-12 2 4 2 0 2-4 2 1 2 7 2-2 2 0 2-11 2 17 2-6 2-1 2 0 2 5 2-8 2 2 2-2 2 9 2 1 2-9 2 14 2-16 2 3 2 2 2-6 2 4 2-4 2 1 2 5 2 5 2-11 2-5 2 4 2-2 2 12 2-1 2 2 2-12 2 17 2-17 2 7 2 0 2-6 2 9 2-9 2 3 2-5 2 1 2 3 2-2 2 0 2 3 2-9 2 4 2-8 2 12 2-5 2 5 2-7 2 2 2-1 2-2 2-2 2 11 2-5 2-2 2 2 2-2 2 12 2 4 2-14 2-5 2 14 2-17 2 9 2 4 2 1 2-11 2 7 2-3 2 4 2-4 2 7 2-4 2 5 2-6 2 2 2-1 2 12 2-7 2 4 2-7 2 8 2-4 2 6 2-5 2-8 2 16 2-14 2 14 2-2 2 9 2-13 2 14 2-2 2-4 2 6 2-11 2 0 2-2 2 7 2-6 2 16 2-4 2 1 2-10 2-3 2-2 2 2 2 11 2-7 2 4 2-3 2-6 2 15 2-10 2 4 2-1 2-2 2 5 2-8 2 18 2-10 2-3 2 1 2-2 2 5 2 6 2-2 2-6 2-1 2 9 2-4 2 2 2 9 2-13 2 3 2-8 2 1 2 4 2-7 2 11 2-3 2-5 2 1 2 12 2-16 2 9 2 1 2 1 2 3 2-2 2-1 2-11 2 2 2 8 2-16 2 17 2 0 2 4 2-11 2 8 2-14 2 4 2 4 2 9 2-11 2 4 2 3 2-10 2 3 2-8 2 23 2-6 2-8 2-2 2 5 2 9 2-17 2 2 2-5 2 14 2 0 2-8 2-2 2 8 2 5 2-3 2-3 2-1 2 7 2-12 2 6 2 2 2 0 2-4 2-2 2 5 2 0 2-5 2 1 2 2 2 2 2-2 2 1 2-6 2 5 2-4 2 8 2 5 2-11 2 13 2-14 2 3 2-2 2 1 2 3 2 2 2-2 2-2 2 7 2-5 2 0 2 0 2 14 2-16 2-1 2 1 2 4 2 4 2 0 2-18 2 14 2-4 2 2 2 2 2-13 2 10 2-5 2 15 2-13 2 0 2-2 2 3 2 8 2-6 2 4 2-5 2 6 2-12 2 10 2-5 2 13 2-15 2 8 2-12 2 12 2-6 2-4 2-1 2 3 2-2 2-1 2 12 2-11 2-3 2 5 2 8 2-13 2 11 2-16 2 12 2-1 2 3 2 4 2-3 2-12 2 12 2-5 2 2 2-3 2 2 2 8 2-1 2-5 2-7 2-4 2 12 2-3 2 8 2-7 2-3 2 8 2-3 2-10 2 8 2 4 2 4 2-16 2 11 2-3 2 1 2-4 2 8 2-1 2-15 2 11 2 15 2-19 2-1 2 6 2 8 2-4 2-4 2 6 2-5 2 4 2 5 2-13 2 7 2-8 2-2 2 4 2 10 2 7 2-1 2-12 2 13 2-9 2 7 2-7 2-2 2 3 2 4 2-10 2 7 2-17 2 23 2-13 2 4 2 5 2 0 2-6 2 2 2-6 2-11 2 6 2 10 2 3 2-14 2 8 2 1 2-8 2 10 2 2 2 2 2-3 2-2 2 9 2-9 2-3 2 4 2-2 2 6 2-3 2 11 2-5 2-7 2 1 2-2 2 6 2-2 2 3 2-5 2 3 2 0 2-6 2 16 2-12 2 1 2 1 2-7 2 13 2-9 2 7 2 2 2-6 2 6 2-2 2-8 2 9 2-7 2 7 2-9 2 5 2-5 2 8 2 0 2-3 2-6 2-5 2 18 2-8 2-6 2 7 2 0 2 3 2-13 2 10 2 4 2 3 2-4 2-2 2 4" stroke="#659AD2"/>
<path d="M282 1925l2-10 2-3 2-1 2 2 2 1 2 10 2 7 2-17 2 0 2-4 2 10 2 3 2 1 2-6 2-10 2 9 2 7 2-9 2 6 2 8 2-7 2 1 2 1 2-1 2-6 2 15 2-7 2 1 2-4 2 0 2-2 2 4 2-5 2 0 2-1 2 4 2-5 2 1 2-1 2 7 2 7 2-18 2-2 2 11 2 0 2-12 2 15 2 1 2-10 2 2 2 15 2-1 2-5 2-9 2 0 2 6 2-1 2-9 2 10 2 3 2-9 2 7 2 2 2-4 2 5 2-5 2 0 2 6 2-5 2-1 2 5 2-8 2-7 2 12 2-1 2-9 2-1 2 2 2 11 2-9 2 12 2-9 2 10 2-6 2 2 2-8 2 6 2-5 2 3 2 5 2 2 2-14 2 8 2 0 2 4 2 0 2-7 2-4 2 6 2 8 2-6 2 2 2-7 2 13 2-14 2 5 2-2 2-4 2 8 2 0 2-5 2 5 2-4 2 7 2-6 2-8 2 13 2-10 2 0 2 1 2 0 2 5 2-9 2 11 2-10 2 13 2-19 2 9 2 3 2-1 2-6 2 3 2 2 2 4 2 0 2 1 2 1 2-1 2-3 2 9 2-2 2-10 2-2 2 1 2 9 2-18 2 16 2-3 2 1 2 4 2-9 2 4 2-5 2 5 2-7 2 6 2 0 2 6 2-4 2 5 2-9 2 15 2-1 2-16 2 0 2 13 2 1 2-8 2-5 2 0 2 5 2 8 2-13 2 11 2-3 2-9 2 6 2-1 2 2 2-1 2-5 2 23 2-10 2 1 2-10 2 6 2-4 2-6 2 3 2-3 2-2 2 5 2 5 2 0 2-11 2 7 2-6 2 13 2-7 2 1 2-2 2 1 2-5 2 8 2-9 2-1 2-1 2 6 2 1 2-2 2-1 2 0 2 2 2-3 2 4 2-4 2-16 2 23 2-10 2 6 2-13 2 6 2 7 2 15 2-16 2-8 2 6 2-2 2-6 2 12 2-7 2 0 2-2 2-5 2 3 2-4 2 2 2 5 2 0 2-4 2-4 2 17 2-25 2 11 2 0 2 0 2-5 2 5 2 5 2-8 2 4 2-1 2-8 2 4 2 4 2 4 2-7 2 7 2-12 2-4 2 9 2-1 2-9 2 17 2-6 2-5 2-1 2 1 2 1 2 5 2-16 2 11 2-5 2 6 2-11 2 7 2-6 2-5 2 13 2-7 2 2 2 2 2-4 2-4 2 1 2-1 2-5 2 9 2-3 2-6 2 4 2 1 2 3 2-9 2 1 2 7 2 0 2-6 2 2 2-11 2 10 2-10 2 6 2 3 2-17 2 12 2 8 2-8 2 3 2-8 2 8 2-3 2-5 2 3 2-6 2-3 2 0 2-4 2 9 2-3 2 8 2-1 2-5 2 1 2-1 2-11 2 13 2-2 2 5 2 3 2 1 2-4 2-7 2 6 2-2 2-6 2 9 2-8 2 8 2 6 2-14 2 7 2 1 2-1 2-8 2-9 2 21 2-11 2 1 2-3 2-1 2 8 2 3 2-2 2-5 2 3 2-10 2 13 2-10 2-4 2 9 2-5 2 15 2-10 2 3 2 5 2-16 2 2 2 12 2-8 2 1 2 2 2-3 2-1 2-1 2 0 2 4 2 0 2-7 2-2 2-4 2 15 2-7 2 7 2-15 2 3 2 0 2 4 2 1 2 0 2 0 2 0 2-3 2-2 2 2 2-5 2 3 2-1 2 1 2-6 2-10 2 8 2 4 2-2 2-6 2 0 2 7 2-5 2-5 2 5 2-5 2 11 2 2 2-13 2 10 2-3 2-3 2 0 2-6 2-8 2 12 2 7 2-11 2-7 2 10 2-3 2 6 2-13 2 8 2-17 2 1 2 7 2-6 2 3 2-14 2 2 2 2 2-13 2 6 2-9 2-2 2-19 2 8 2-12 2-1 2 1 2-11 2-10 2 6 2 18 2-16 2-7 2-13 2-9 2 1 2-7 2-8 2 13 2-1 2 8 2 7 2 7 2 11 2-2 2 18 2 1 2 2 2-3 2 14 2-9 2 17 2-7 2 11 2-3 2 9 2-13 2-11 2 22 2-10 2 5 2 2 2 1 2 2 2-9 2 0 2 7 2 0 2 0 2-10 2 1 2-3 2 11 2 3 2-24 2 3 2 13 2-4 2-10 2 5 2 8 2-17 2 2 2 0 2-7 2-10 2-13 2 4 2-6 2-11 2-15 2 7 2-15 2-9 2 11 2-9 2-5 2-7 2-5 2 3 2-11 2-16 2 0 2-4 2-16 2 1 2-16 2-10 2-5 2-2 2-12 2-7 2-7 2-1 2-6 2-11 2-13 2-7 2-8 2-7 2 2 2-12 2-24 2-8 2-13 2-19 2-12 2-22 2-2 2 4 2 12 2 7 2 13 2 3 2 33 2 10 2 8 2 24 2 21 2 15 2 24 2 7 2 36 2-1 2 19 2 6 2 14 2 15 2 7 2 18 2 24 2 1 2 6 2 10 2 8 2 1 2 11 2 3 2 7 2-5 2 18 2-6 2 11 2 5 2-7 2 14 2-13 2 5 2 0 2 1 2 4 2 1 2 0 2 4 2 3 2 3 2 0 2 1 2 1 2 11 2-12 2-3 2 9 2 3 2-1 2 5 2-11 2 12 2 4 2-3 2 3 2 3 2-6 2-8 2 13 2 1 2-9 2 17 2-11 2 4 2-8 2 6 2-2 2-4 2 9 2 1 2-20 2 19 2-12 2 19 2-14 2 4 2-5 2 6 2-5 2 2 2-1 2 5 2-7 2-1 2 5 2 0 2-1 2-7 2 8 2-5 2 1 2 9 2-11 2-2 2 5 2 5 2-8 2 4 2 9 2 0 2-19 2 9 2-7 2 10 2-1 2 12 2-23 2 7 2 3 2 8 2-1 2-2 2 2 2 2 2-6 2-2 2 14 2-11 2 2 2 10 2-1 2-8 2 9 2 2 2-8 2 6 2 4 2-12 2 8 2-6 2 3 2-6 2 4 2 8 2-8 2 7 2 2 2-8 2 4 2-4 2-1 2-6 2 12 2 4 2-10 2 0 2 5 2-2 2-2 2 13 2-12 2-4 2-1 2 1 2 11 2-5 2 4 2-14 2 17 2-14 2 5 2-11 2 4 2-6 2 7 2 3 2-14 2 5 2-2 2 1 2 0 2 3 2-4 2-6 2 7 2-5 2-8 2 13 2-10 2-7 2 5 2-6 2-3 2 15 2-18 2 1 2-3 2 14 2-6 2 3 2 7 2-9 2-4 2 2 2 5 2-2 2 5 2 1 2-8 2 4 2 0 2-9 2-4 2-6 2-2 2 1 2 2 2-10 2-9 2-10 2 10 2-16 2 13 2 14 2 21 2 17 2 1 2 7 2 8 2-12 2 11 2 2 2-11 2 13 2 11 2 3 2-17 2 7 2 7 2-3 2 13 2-11 2 1 2-1 2-3 2 10 2 4 2-1 2-8 2 0 2-1 2 4 2-2 2 1 2-3 2-8 2 1 2 10 2-2 2-2 2-4 2 7 2 4 2-4 2 4 2-4 2-9 2 7 2-5 2 11 2-1 2 4 2-7 2-8 2-2 2 3 2 5 2 5 2-2 2 3 2-10 2 2 2 5 2-3 2-4 2 7 2 2 2-7 2 0 2 11 2-1 2-14 2 12 2 2 2-6 2 0 2 4 2 5 2-3 2 0 2-7 2 12 2-3 2-7 2 0 2 1 2 5 2-1 2 5 2-11 2 15 2-17 2 5 2 11 2 1 2-14 2 2 2 7 2 10 2-18 2-1 2 10 2-7 2-4 2 7 2 0 2 2 2-15 2 4 2-7 2 8 2-1 2-2 2 6 2-9 2 8 2-13 2 0 2 0 2 12 2-6 2-5 2 1 2-7 2-1 2 7 2 0 2-7 2 9 2-10 2-6 2 7 2-1 2 9 2-13 2 11 2-6 2 4 2-4 2 2 2-9 2 11 2-4 2 4 2-5 2 3 2-11 2 13 2-1 2 0 2-2 2-7 2 21 2-12 2 9 2-8 2-5 2 4 2 2 2 0 2-3 2 4 2 4 2-4 2 1 2 4 2-1 2 2 2 4 2-7 2 4 2-8 2 2 2 2 2 6 2 0 2 6 2-10 2-1 2-1 2 4 2-5 2 9 2 1 2-13 2 8 2 8 2-13 2-1 2 11 2-11 2 3 2 11 2-6 2-6 2 5 2-2 2 5 2-12 2 7 2 2 2-5 2-1 2 5 2 2 2 8 2-6 2 4 2 6 2-16 2 6 2-6 2 3 2 6 2 7 2-17 2 12 2-11 2 17 2-9 2-2 2-1 2-1 2 2 2 1 2-13 2 14 2 1 2 2 2-2 2-10 2 1 2 6 2 4 2-8 2-4 2-4 2 1 2 13 2-7 2 3 2 1 2 1 2-3 2 2 2 0 2 6 2-1 2 4 2-15 2 8 2 2 2-3 2 10 2-11 2-1 2 0 2 4 2-3 2 16 2-11 2-4 2 2 2-5 2 8 2-15 2 5 2 4 2-3 2 6 2-13 2 4 2 7 2-6 2-2 2 5 2 5 2-16 2 6 2 8 2-1 2-7 2-1 2 3 2 1 2-1 2 1 2-5 2 8 2-15 2 13 2-5 2 4 2-10 2-2 2 10 2 0 2-13 2 14 2 4 2-16 2 14 2-7 2 7 2 5 2-7 2-7 2 10 2-7 2 4 2-5 2-2 2 0 2 4 2-1 2 7 2 8 2-22 2-4 2 0 2 9 2 14 2-16 2 5 2-3 2 7 2-4 2-2 2 1 2-8 2 7 2 2 2 7 2-8 2-5 2 11 2-2 2-2 2-10 2 5 2 12 2-9 2 8 2-7 2 8 2 3 2-9 2 1 2 4 2-7 2-1 2 11 2-11 2 2 2 13 2-7 2-6 2 0 2 0 2 5 2 1 2 1 2-8 2 3 2 7 2 7 2-15 2 5 2-8 2 9 2 1 2 3 2-7 2 0 2-11 2 6 2 10 2-7 2 3 2-3 2 3 2-8 2 7 2 0 2 0 2 11 2-15 2 3 2 0 2 7 2-5 2-1 2 2 2-4 2 8 2-17 2 15 2-11 2 4 2-1 2 2 2 1 2 6 2-10 2-2 2 1 2 0 2-2 2 5 2-11 2 11 2-8 2 7 2 3 2-2 2 10 2-17 2 6 2-2 2-6 2-3 2 1 2 11 2-8 2 6 2-4 2 2 2-8 2 6 2-14 2 10 2 7 2-8 2 0 2 2 2 0 2 2 2-6 2 4 2-11 2 15 2 2 2-9 2 5 2-3 2-4 2 5 2-3 2-1 2-1 2 1 2 12 2-5 2-3 2-2 2 0 2-4 2 5 2-10 2 3 2 3 2-1 2-2 2 10 2-7 2 8 2-11 2 12 2-3 2 1 2 4 2-8 2 3 2 1 2 8 2-13 2-1 2 10 2-7 2-7 2 4 2 6 2-6 2-2 2 9 2 0 2 3 2-16 2 5 2 4 2 9 2-5 2-5 2-6 2 11 2-8 2 8 2-1 2 6 2-6 2-3 2-6 2 9 2 15 2-8 2-8 2-1 2 3 2 1 2 1 2 7 2 5 2-11 2-5 2 8 2-4 2 3 2-9 2 15 2-4 2 11 2-7 2-10 2 2 2 1 2 3 2 7 2-9 2 1 2 13 2-14 2 18 2-12 2-2 2-5 2 8 2-11 2 0 2 14 2-5 2 1 2 10 2-8 2-5 2-4 2 0 2 8 2 4 2-8 2 1 2 1 2-3 2-4 2 6 2 0 2 2 2 0 2 1 2-6 2 3 2 3 2-10 2 5 2 0 2-8 2 5 2 2 2-3 2-6 2 6 2-5 2 1 2 5 2 7 2-8 2-3 2 9 2 0 2-3 2 10 2-3 2-5 2 11 2-2 2-4 2-4 2 3 2 7 2-3 2 7 2-10 2 5 2-11 2 15 2 4 2 2 2-5 2 2 2-6 2 3 2-8 2 7 2-5 2 6 2 2 2 1 2 1 2-4 2-4 2 2 2 4 2-6 2 8 2-1 2 3 2-1 2-6 2-6 2 3 2 6 2-5 2 6 2 5 2-5 2 1 2 12 2-19 2 14 2-5 2 11 2-13 2-14 2 17 2 2 2-5 2 4 2 10 2-9 2-8 2 2 2 3 2-2 2 2 2-1 2 4 2-6 2 12 2-9 2-2 2-2 2 3 2 11 2-7 2 4 2-9 2 5 2-9 2 14 2-8 2 10 2-11 2 4 2-2 2 8 2-6 2 0 2-1 2 0 2 0 2 3 2-15 2 15 2-7 2 4 2 1 2-7 2 4 2-5 2 16 2-14 2 7 2 0 2 2 2-4 2-5 2 7 2-7 2-3 2 4 2 3 2 5 2-13 2 4 2 4 2-1 2 9 2-8 2-7 2 13 2-7 2-2 2-6 2 4 2 2 2 4 2 0 2 8 2-4 2-4 2-4 2 3 2-3 2 5 2-6 2 7 2-5 2 1 2 5 2-4 2-6 2 1 2 13 2-7 2 0 2-2 2-5 2 6 2 4 2-5 2 2 2-3 2 2 2 9 2-6 2 8 2-16 2-7 2 15 2-6 2 1 2 3 2 2 2-5 2 3 2 8 2 3 2-12 2-10 2 0 2 7 2 5 2-7 2 6 2 6 2-5 2 8 2-10 2 2 2-6 2-2 2 11 2-6 2 0 2 5 2-3 2-6 2 16 2-12 2 0 2 0 2 1 2-5 2-1 2 1 2 13 2-4 2-1 2 2 2-4 2 6 2-4 2-7 2-10 2 15 2 1 2-1 2 13 2-16 2 5 2 7 2-5 2-1 2-6 2 1 2 7 2-5 2-7 2 10 2-7 2-1 2 6 2 0 2 6 2-12 2 3 2 9 2 7 2-12 2-1 2 1 2-3 2-1 2 9 2-2 2-18 2 21 2-7 2-5 2 5 2 11 2-10 2 3 2 4 2-7 2-6 2 9 2 0 2-3 2 1 2-7 2 4 2 3 2-12 2 31 2-17 2-5 2-2 2 1 2 1 2 6 2-6 2 8 2-12 2 5 2 1 2-9 2 17 2-6 2-6 2 8 2 8 2-11 2 5 2 1 2 6 2-6 2 2 2-7 2 6 2-7 2 3 2-10 2 10 2-4 2 1 2 0 2-2 2 8 2-10 2 16 2-5 2-13 2-6 2 17 2-8 2 2 2 12 2-14 2-3 2 9 2-8 2 14 2-17 2-8 2 18 2 3 2-11 2 10 2 2 2-3 2-3 2 4 2-7 2 8 2 5 2-5 2-9 2 2 2-1 2 1 2 18 2-11 2-4 2-2 2-2 2 0 2 9 2-10 2 9 2 0 2-10 2-1 2 15 2-8 2 1 2 8 2-3 2-2 2-5 2-8 2 7 2 3 2-8 2 17 2-12 2-2 2-2 2 15 2-3 2-9 2 9 2-4 2 2 2-2 2 1 2-5 2 6 2 1 2-8 2 13 2-5 2 4 2-4 2-6 2 6 2 1 2-2 2 3 2-2 2-1 2 3 2-1 2-21 2 33 2-21 2 4 2 3 2-2 2-7" stroke="#CC6600"/>
<path d="M282 2034l2-2 2 17 2-5 2 0 2 3 2-9 2-2 2 7 2-3 2 3 2 1 2-3 2 5 2-13 2 10 2 3 2-3 2-1 2 3 2-4 2 2 2-2 2 13 2-26 2 13 2 5 2-1 2-10 2 5 2-7 2 10 2-8 2 6 2 10 2-15 2 9 2 8 2-3 2-13 2 12 2-2 2 0 2-11 2 17 2-9 2-7 2 6 2 2 2 7 2-5 2-4 2 3 2 3 2-4 2 1 2-4 2-2 2 13 2-3 2-3 2 3 2 3 2-6 2 4 2-3 2-5 2 12 2-2 2-6 2-1 2 3 2-9 2 3 2 5 2-1 2-7 2 5 2 2 2 2 2-1 2-2 2 0 2 10 2-11 2-1 2 0 2 1 2-1 2 7 2-11 2-2 2 16 2-11 2 4 2-1 2 1 2-5 2 7 2 6 2-3 2-5 2 5 2-8 2 4 2-9 2 1 2 17 2 6 2-15 2-1 2 0 2 10 2-17 2 3 2 3 2 10 2-2 2-7 2-1 2-1 2 0 2 2 2-7 2 3 2-2 2 8 2-6 2 4 2 5 2-7 2-7 2 4 2-8 2 24 2-8 2 1 2-14 2 5 2-1 2-4 2 15 2 4 2-9 2 6 2-3 2-11 2 6 2-5 2 3 2 8 2-8 2 6 2-5 2 9 2-3 2 7 2-10 2-2 2 5 2-11 2-9 2 18 2-5 2-1 2-2 2 9 2-11 2 0 2 17 2-4 2-19 2 5 2 8 2 1 2-7 2 17 2-5 2-6 2 1 2-10 2 5 2 10 2-14 2 11 2-1 2-1 2-6 2-1 2-5 2 4 2 5 2-5 2-3 2 4 2-6 2 4 2 1 2 7 2-5 2 4 2-5 2 3 2 1 2-6 2-2 2 5 2 0 2 5 2-1 2-11 2 4 2 1 2 0 2 0 2 5 2-4 2 3 2-9 2 7 2-9 2 7 2-7 2 7 2-1 2 0 2-5 2 8 2-1 2-11 2 11 2-9 2 8 2 7 2-18 2 17 2-2 2-5 2 8 2-10 2 8 2-11 2-3 2 1 2 4 2-4 2-2 2 7 2-2 2 9 2-8 2 6 2-2 2-6 2-4 2 5 2 0 2 4 2 8 2-12 2-5 2 1 2 10 2-10 2-4 2 1 2 3 2-2 2 2 2 3 2-14 2 11 2-3 2-4 2 8 2 3 2-6 2-12 2 12 2-3 2-1 2-5 2 4 2-3 2 19 2-9 2-20 2 14 2-7 2 1 2-3 2 0 2 9 2-13 2 6 2 11 2-28 2 11 2 2 2 4 2 3 2-3 2-6 2 1 2 3 2-4 2 1 2-8 2 5 2 12 2-5 2-5 2 5 2-8 2-2 2 2 2 0 2-12 2 11 2 1 2 12 2-13 2 6 2 2 2-4 2-8 2 6 2-2 2-11 2 7 2-9 2-1 2 7 2-1 2 7 2-5 2 2 2-9 2 4 2 8 2 0 2 2 2 2 2-18 2 5 2 0 2-3 2 3 2 1 2-17 2 15 2-5 2-3 2-1 2 19 2-14 2 4 2 2 2-7 2 5 2-2 2-3 2 1 2 0 2 5 2-3 2-1 2 17 2-9 2-7 2-5 2 11 2-5 2-2 2-7 2 6 2-4 2 8 2-8 2 6 2 5 2-14 2-6 2 14 2-7 2-2 2-3 2 1 2 0 2 5 2-8 2 1 2 9 2-2 2-4 2 10 2-4 2-6 2-3 2 3 2-2 2-5 2 16 2-3 2-1 2-3 2-3 2-3 2 2 2-2 2-1 2 5 2-4 2-3 2-3 2 5 2-11 2 11 2 3 2 8 2-18 2 2 2-2 2 1 2-9 2 6 2 1 2-2 2-2 2 0 2-7 2 0 2-3 2 8 2-11 2-2 2 0 2-10 2 1 2-11 2-4 2 1 2-6 2-8 2 1 2-5 2-15 2 5 2-6 2-2 2-21 2 5 2-2 2-14 2 3 2 2 2 0 2 12 2 12 2 2 2-9 2 10 2 14 2 1 2-12 2 26 2-2 2-3 2 5 2 0 2 6 2 5 2 5 2 0 2 6 2-16 2 25 2-8 2-3 2-1 2 5 2-10 2 8 2-11 2 16 2-2 2-11 2 11 2-8 2-4 2 12 2-12 2 10 2 1 2-12 2-4 2 4 2-6 2 5 2 2 2-2 2-1 2-5 2 2 2 2 2-5 2-6 2-17 2 14 2-27 2 5 2-10 2-10 2-10 2 4 2-15 2-2 2-1 2-10 2 1 2-10 2 0 2-6 2-8 2-6 2 3 2-18 2-10 2 6 2-15 2-10 2-7 2 4 2-8 2-13 2-10 2-18 2-4 2-11 2-12 2-8 2-24 2-8 2-16 2 5 2-23 2-22 2-12 2-13 2 4 2 6 2 21 2 17 2 25 2 14 2 28 2 24 2 26 2 17 2 13 2 30 2 13 2 18 2 12 2 14 2 9 2 6 2 17 2 0 2 0 2 9 2 14 2 7 2-2 2 2 2 8 2 8 2-2 2 0 2 11 2 3 2 5 2-9 2 14 2 2 2 2 2-4 2 4 2-6 2 14 2 5 2-7 2-5 2 18 2-5 2 4 2 1 2-6 2 7 2-3 2 2 2 11 2-11 2 19 2-12 2 2 2 5 2-6 2 1 2 0 2 7 2 9 2-13 2 3 2 7 2-10 2 4 2-4 2 1 2 1 2 3 2 1 2-4 2 8 2-6 2-2 2 3 2-9 2 3 2 6 2 8 2 3 2-9 2-4 2 2 2 1 2-4 2 11 2-18 2 6 2 3 2-7 2 9 2-8 2 9 2-8 2-9 2 16 2-4 2 0 2-2 2 7 2-2 2 0 2 3 2-17 2 18 2-17 2 13 2 1 2 2 2 2 2-6 2-6 2 12 2-1 2-1 2-10 2 13 2-5 2 2 2-2 2-1 2 5 2-1 2-4 2 4 2 3 2 0 2-2 2-4 2 8 2-5 2 3 2 3 2 0 2-1 2-2 2 10 2-7 2 5 2-7 2 5 2-4 2 5 2-6 2 5 2-2 2 6 2 5 2-8 2 3 2-8 2-9 2 10 2 0 2 3 2-2 2 2 2-3 2 11 2-4 2-2 2-5 2-6 2 5 2 1 2 2 2-1 2 7 2-8 2-5 2-4 2-1 2-1 2-2 2 2 2-9 2 11 2-16 2 15 2-10 2 0 2 4 2 6 2-19 2 1 2 6 2 5 2-3 2-8 2 12 2-1 2-6 2-10 2 8 2 4 2 3 2 0 2-13 2 2 2-2 2 9 2-3 2 1 2-1 2-2 2-9 2 6 2 1 2-6 2-4 2-10 2-14 2 5 2 2 2-13 2 2 2 20 2 18 2 15 2 14 2-5 2 7 2 7 2-2 2 7 2-10 2-3 2 6 2-2 2 8 2 11 2-3 2-6 2-3 2 14 2-16 2-5 2 13 2-5 2 3 2-4 2 7 2 5 2-11 2-3 2 3 2 5 2 7 2-11 2-5 2 4 2 8 2-3 2-1 2-11 2 10 2-8 2 18 2-4 2 0 2 1 2-6 2-2 2 3 2-1 2-6 2-4 2 8 2 4 2 5 2-2 2 6 2-8 2-7 2 10 2-5 2 9 2-6 2 7 2-17 2 20 2-3 2-12 2 1 2 1 2 12 2-21 2 5 2 6 2-6 2 8 2 1 2-1 2 2 2 0 2-2 2 7 2-10 2-4 2 15 2 1 2 5 2-13 2-2 2 7 2-1 2 6 2-3 2-6 2-14 2 14 2 9 2-9 2 0 2-3 2 6 2 1 2-8 2 5 2-12 2 13 2-3 2-1 2-22 2 28 2-12 2 5 2 4 2 5 2-10 2-8 2 8 2 3 2 3 2-7 2 2 2-8 2 7 2 5 2-11 2 5 2-13 2 1 2 4 2-5 2 8 2-1 2 7 2 2 2-8 2 2 2-9 2 15 2-19 2 7 2 2 2 3 2 4 2-8 2 10 2-7 2-2 2-2 2 8 2-3 2-1 2-2 2 3 2 9 2-8 2 2 2-2 2-3 2 0 2 4 2-5 2 0 2 2 2 1 2-10 2 9 2 7 2-5 2-3 2-8 2 4 2 3 2 2 2-2 2 4 2 12 2-7 2-4 2-6 2-1 2 2 2 6 2-4 2 12 2-17 2-3 2 6 2 3 2-5 2 6 2-1 2-9 2 10 2-6 2 8 2 5 2-6 2-13 2 0 2 14 2-3 2-9 2 1 2 16 2-15 2 6 2 2 2-7 2 11 2-3 2 1 2-1 2-4 2-5 2 12 2-1 2-2 2 9 2-6 2-5 2-6 2 6 2 1 2 3 2 4 2-1 2-3 2-6 2 10 2 0 2-9 2 4 2 4 2-5 2 0 2 3 2 2 2-6 2 3 2-7 2-1 2 17 2-10 2-1 2 2 2 3 2 7 2-6 2 2 2-5 2-2 2 0 2 2 2-5 2 5 2-5 2 4 2-4 2 8 2-8 2 3 2-4 2-3 2 10 2 3 2-4 2-6 2 5 2 2 2-14 2 13 2-12 2 1 2 1 2 3 2-3 2 3 2 8 2-16 2 8 2-7 2 14 2-12 2 8 2-7 2-3 2 11 2-12 2-1 2 6 2-2 2 2 2-11 2 13 2-7 2 3 2-10 2 3 2 6 2-12 2 5 2 5 2-11 2 3 2-2 2 4 2 8 2-15 2 10 2-6 2-3 2 1 2 3 2-2 2-4 2 0 2 13 2 2 2-5 2-6 2 4 2 5 2-3 2 5 2-9 2-1 2 2 2 2 2 9 2-6 2-10 2 15 2-6 2 2 2 3 2-1 2-17 2 16 2-4 2 1 2 4 2 3 2-13 2 10 2-3 2 8 2-18 2 12 2 3 2-9 2 7 2 2 2-12 2 24 2-14 2 6 2-8 2 1 2 5 2-14 2 7 2 6 2 4 2 6 2-26 2 15 2-1 2 3 2-2 2 10 2-12 2 10 2-3 2-8 2 9 2-10 2 16 2-10 2 6 2-2 2 3 2-4 2-2 2-7 2-1 2 11 2-1 2 7 2-18 2 12 2-14 2 11 2 6 2 3 2-8 2-1 2 4 2-8 2 6 2 3 2-5 2 3 2-5 2 6 2-4 2 3 2 3 2-11 2 7 2 1 2 1 2-1 2-13 2 17 2-8 2-3 2 5 2-10 2 9 2-3 2-10 2 8 2 5 2 5 2-5 2-7 2 6 2-5 2 6 2-7 2-1 2 1 2 8 2-16 2 3 2 6 2-6 2 4 2-9 2 23 2-14 2 2 2-9 2 11 2-2 2-4 2 5 2-8 2-9 2 11 2 13 2-16 2 9 2-8 2 4 2 0 2-3 2 2 2-2 2 2 2 4 2-7 2 6 2-7 2 11 2-12 2 2 2 4 2 0 2 6 2-17 2 9 2 1 2-1 2-5 2-9 2 1 2 16 2 7 2-20 2 9 2-3 2 5 2 0 2 2 2-1 2-11 2 4 2 7 2 5 2-20 2 11 2-2 2 3 2 6 2-8 2-5 2 7 2-8 2 14 2-11 2 3 2 2 2 5 2 1 2 1 2-3 2-2 2 3 2 6 2-5 2 0 2 3 2 3 2-6 2 4 2 6 2-17 2 18 2 0 2-7 2 1 2 4 2-3 2 11 2-4 2-13 2 19 2-10 2 5 2-13 2 14 2-6 2 2 2 2 2-3 2-7 2 3 2 15 2-19 2 3 2-2 2 8 2-3 2 0 2-8 2 22 2-9 2-6 2 4 2-3 2-3 2 11 2-4 2-8 2 4 2-2 2 0 2-5 2 7 2-6 2 12 2 0 2-4 2-5 2-3 2-3 2 10 2-4 2 0 2-4 2 10 2-16 2 11 2-6 2 6 2-11 2 17 2-18 2 10 2 2 2 4 2-2 2-1 2-1 2 9 2-25 2 24 2-8 2 6 2-9 2 17 2-21 2 19 2-16 2 9 2 2 2-5 2 1 2-3 2-1 2 1 2 3 2 1 2-5 2 11 2-7 2 3 2-1 2-1 2-2 2 5 2-1 2-3 2 8 2-5 2-2 2 4 2-5 2-4 2 8 2 0 2-3 2 14 2-13 2 4 2 8 2 0 2 3 2-3 2-11 2 3 2 11 2-3 2-10 2-1 2 11 2-1 2 1 2 8 2-7 2 3 2-3 2 1 2-4 2 8 2-10 2 12 2 2 2-5 2-4 2 7 2-7 2 3 2 3 2-6 2 9 2-6 2-1 2-13 2 17 2-12 2 8 2-2 2 0 2-9 2 10 2 2 2-4 2 0 2 10 2-18 2 15 2-10 2 3 2 7 2-6 2-2 2 17 2-6 2-6 2-1 2-7 2 4 2 4 2-2 2-1 2 1 2-5 2 4 2 10 2-21 2 5 2 3 2 13 2-13 2 3 2-2 2 10 2-11 2-1 2 5 2-4 2 2 2-10 2 6 2 5 2-6 2 6 2-3 2 6 2 12 2-13 2 3 2-5 2 1 2-2 2-3 2-1 2 7 2-7 2 6 2 6 2-10 2-1 2 5 2 2 2-19 2 6 2 11 2-5 2 5 2 5 2 6 2-13 2 1 2 0 2 12 2-2 2-15 2 1 2-2 2 6 2-9 2 15 2 1 2-2 2-6 2 2 2 7 2-5 2-4 2 4 2-6 2 6 2 14 2-30 2 18 2-1 2 4 2-3 2-4 2 2 2 1 2-8 2 5 2-9 2 10 2-2 2-1 2 6 2 3 2-6 2 13 2-18 2 8 2 10 2-12 2 2 2 8 2-8 2-7 2 7 2 4 2-6 2-2 2 0 2 6 2-5 2 12 2-13 2 5 2 5 2-4 2-12 2 11 2-3 2 1 2-4 2 4 2 2 2-7 2-3 2 12 2 0 2 3 2-6 2-3 2-3 2 11 2-1 2 6 2-13 2 1 2 1 2-6 2-3 2 7 2 7 2 2 2-9 2 2 2-8 2 19 2 7 2-16 2-5 2 7 2 1 2-8 2-4 2 2 2 18 2-19 2 3 2 4 2-3 2 0 2 4 2-1 2 6 2-10 2 4 2 3 2-3 2-3 2 1 2-11 2 20 2-6 2-2 2 8 2-20 2 12 2-5 2 6 2-12 2 7 2 9 2-5 2-1 2 3 2 1 2-2 2 0 2-9 2 13 2 4 2 3 2-8 2-6 2 6 2-6 2 9 2-3 2-19 2 17 2 7 2-20 2 2 2 5 2 4 2-3 2 5 2-15 2 10 2 2 2 3 2-5 2-7 2 14 2-9 2 6 2-7 2 3 2-6 2 1 2 1 2 8 2 5 2 0 2-7 2-1 2-16 2 17 2-1 2 2 2-5 2 7 2 4 2-7 2 10 2-4 2 0 2-4 2-13 2 12 2-1 2 6 2-5 2 0 2-11 2 9 2 4 2-2 2 9 2-11 2 2 2-1 2 2 2-6 2 7 2-3 2 3 2 3 2-5 2 7 2-12 2 9 2-11 2 10 2-3 2-2 2-6 2 12 2 4 2-12 2 5 2-4 2 2 2 11 2-6 2-3 2-3 2 1 2 10 2-3 2 0" stroke="#009A96"/>
<path d="M282 2173l2 0 2 4 2 0 2 4 2-2 2-7 2 10 2-3 2 2 2-10 2 5 2 2 2 2 2-1 2-9 2 15 2-9 2 1 2 9 2-10 2 1 2 4 2-1 2-10 2 13 2 3 2 13 2-25 2 12 2-3 2-2 2 4 2-12 2 4 2-2 2 7 2-4 2-1 2 4 2 3 2-8 2-1 2-12 2 10 2 7 2-5 2-2 2 14 2-7 2 4 2 1 2-4 2 3 2-12 2 13 2-8 2-5 2-6 2 20 2-16 2 14 2-17 2 13 2 5 2-6 2-6 2 5 2 0 2-6 2 5 2-4 2 4 2 5 2 3 2-11 2 4 2 6 2 2 2-4 2 5 2-4 2-12 2 4 2 15 2-13 2 3 2-7 2 3 2 3 2-4 2 17 2-16 2 12 2-15 2 0 2-4 2 15 2-6 2-7 2 1 2 19 2-11 2-1 2-2 2 6 2-11 2-6 2 8 2-3 2 4 2 11 2-8 2 5 2-10 2 12 2-4 2-1 2-6 2-7 2 13 2-5 2-1 2 3 2-3 2 15 2-11 2-2 2 5 2 2 2-10 2 4 2 0 2 7 2-6 2-4 2 7 2-2 2 0 2-1 2-8 2 7 2-1 2-1 2 3 2-5 2 3 2 0 2 7 2-2 2-3 2 4 2 1 2-1 2-2 2-2 2 0 2 0 2 8 2-4 2-4 2-4 2 2 2-2 2 7 2-3 2 12 2-17 2 1 2 11 2-5 2 4 2-6 2 1 2-4 2-11 2 14 2-14 2 20 2-3 2 2 2 5 2 4 2-12 2-1 2 0 2 6 2-19 2 10 2 1 2-1 2 9 2-4 2 0 2 2 2-5 2-1 2 6 2-11 2 5 2-9 2 6 2 5 2 4 2-13 2 9 2-8 2 4 2-2 2 10 2-14 2 4 2-4 2 8 2-3 2-11 2 9 2 0 2 6 2-4 2-6 2 0 2-6 2 5 2 8 2-14 2 5 2 5 2 5 2-4 2-4 2 5 2-9 2 12 2 0 2-7 2 0 2-3 2-1 2-10 2 6 2-3 2-5 2 10 2-6 2 2 2 10 2-4 2-5 2 0 2-2 2 2 2 2 2-7 2 6 2-13 2 9 2 4 2-5 2 4 2 2 2 7 2-10 2-4 2 3 2-1 2 7 2 0 2-12 2-2 2-1 2 19 2-8 2-4 2 4 2-3 2-6 2-6 2 7 2 9 2-1 2-5 2-5 2 17 2-12 2 2 2-4 2 7 2 3 2-14 2 11 2-8 2-2 2-3 2 8 2-5 2-3 2 2 2 4 2-8 2 1 2 4 2 5 2-10 2 4 2-5 2 1 2 4 2-2 2-2 2 0 2 5 2-4 2-9 2 8 2-6 2-5 2-1 2-6 2 9 2-7 2 14 2-7 2-2 2 0 2-1 2 2 2-3 2 3 2-1 2 1 2-10 2 5 2 9 2 2 2-5 2-8 2 2 2 15 2-22 2 11 2 5 2-15 2 3 2 6 2-10 2 4 2 5 2-6 2 9 2-1 2-6 2-7 2 9 2 4 2-3 2-8 2 7 2-5 2 5 2 1 2-5 2 6 2-5 2 1 2-4 2 3 2 5 2-9 2 10 2-11 2 1 2 3 2 7 2-2 2-11 2-2 2 1 2 7 2-5 2 10 2-3 2-5 2 3 2-5 2 1 2-7 2 4 2 1 2 16 2-18 2 0 2 15 2-15 2 13 2-5 2-16 2 7 2-13 2 15 2-4 2-3 2-1 2 17 2-4 2-5 2-4 2-1 2-2 2 1 2 4 2-2 2-5 2-5 2-6 2 13 2-5 2-1 2 1 2 7 2-20 2 3 2-2 2 7 2-14 2 2 2-10 2 7 2-9 2 1 2 0 2-6 2-4 2 4 2-14 2 2 2-10 2 6 2-11 2-8 2 2 2-2 2-11 2 1 2-5 2-25 2 0 2-3 2-6 2-12 2-2 2-10 2-1 2 16 2-1 2 14 2-3 2 8 2 15 2 5 2 1 2 12 2 0 2 6 2 17 2-10 2 15 2-18 2 17 2-7 2 6 2-1 2-1 2-6 2 21 2 2 2 0 2-15 2-3 2 9 2-9 2 6 2-5 2-1 2-7 2-1 2 7 2-13 2 3 2-5 2-3 2 13 2-15 2 3 2 7 2-7 2 3 2-5 2-5 2-7 2 4 2-1 2-5 2-9 2-1 2-1 2-14 2-4 2-12 2 4 2-10 2-11 2 7 2-29 2 7 2-20 2 0 2-18 2-8 2-3 2-3 2-8 2-12 2-6 2-13 2-2 2-9 2 2 2-30 2-4 2-25 2-3 2-4 2-27 2-2 2-12 2-19 2-8 2-14 2-19 2 3 2-23 2-6 2-14 2-13 2-7 2 3 2 14 2 17 2 25 2 17 2 12 2 35 2 30 2 25 2 19 2 25 2 34 2 16 2 20 2 27 2 1 2 25 2 13 2 13 2-1 2 14 2 12 2 12 2 8 2 8 2-1 2 12 2-5 2 12 2-2 2-6 2 8 2 9 2-4 2 7 2 5 2 2 2 6 2 3 2-3 2 2 2 11 2-3 2 1 2-6 2 9 2-1 2-11 2 9 2 11 2 0 2 6 2-6 2-10 2 5 2 4 2 0 2-4 2-1 2 1 2 10 2-8 2 15 2-12 2 0 2-10 2 1 2 7 2-6 2 7 2 1 2 5 2 2 2-9 2-7 2 7 2 11 2-9 2-5 2 1 2 10 2 0 2-6 2 15 2-8 2-6 2 7 2-9 2 5 2-8 2 13 2-4 2-1 2-9 2 11 2-3 2-1 2-1 2-6 2 10 2-10 2 8 2 0 2-4 2 17 2-23 2 16 2 1 2-12 2 6 2-8 2 15 2-1 2 1 2-6 2-5 2 13 2 4 2-5 2-2 2-8 2 6 2-7 2 6 2 2 2 7 2-2 2 9 2-8 2 2 2 1 2-2 2-1 2 7 2-13 2 5 2 1 2 14 2-7 2-2 2-2 2 9 2-24 2 14 2 2 2-5 2 0 2-3 2 12 2-10 2 11 2-11 2 0 2-2 2 12 2-10 2 10 2-2 2-5 2 5 2-3 2-1 2 4 2-1 2-4 2 3 2 2 2-14 2 8 2-4 2 6 2-7 2-4 2 3 2 7 2-7 2-6 2-8 2 9 2 8 2-6 2 5 2-7 2-5 2-1 2-9 2 5 2 7 2 6 2-7 2-8 2 5 2-8 2 5 2 1 2-3 2 6 2-11 2 6 2 4 2-11 2 22 2-17 2 0 2-1 2-5 2 9 2-9 2 10 2-7 2-10 2 3 2-6 2-25 2-15 2 0 2-5 2-4 2 23 2 36 2 7 2 20 2-2 2-1 2 19 2-2 2 11 2-11 2 11 2 0 2 2 2 0 2-3 2 2 2-6 2 0 2 13 2-9 2-10 2 17 2-3 2-7 2 6 2 2 2-2 2 9 2-4 2 8 2-9 2 1 2 4 2-11 2 4 2-6 2 16 2-4 2-17 2 11 2 0 2 6 2-9 2 12 2-12 2 9 2-9 2 2 2-5 2 6 2-10 2 6 2 10 2 1 2-3 2-3 2-14 2 24 2-14 2 1 2 4 2-2 2-6 2 14 2-11 2-1 2 4 2 3 2 0 2 6 2-10 2 1 2 11 2-11 2 0 2 3 2 2 2-3 2 16 2-7 2-10 2 4 2 6 2-7 2 0 2 20 2-9 2-11 2-1 2 3 2 4 2 1 2-5 2-5 2 6 2 6 2-3 2-12 2 5 2 12 2-2 2-10 2 14 2-6 2 0 2-2 2 4 2-10 2 3 2-1 2-5 2-2 2 1 2 0 2 8 2-6 2 0 2 1 2-1 2-5 2-3 2 7 2 0 2-12 2 10 2-6 2 6 2 3 2-6 2 3 2-8 2 2 2-1 2 6 2-9 2 1 2-9 2 13 2-8 2 4 2 10 2 0 2 3 2-20 2 12 2-9 2 1 2 11 2-7 2-8 2 7 2 20 2-22 2 2 2 1 2 6 2-7 2-6 2 9 2 2 2-12 2 3 2 9 2-3 2-3 2 13 2-1 2-4 2 13 2-15 2-2 2 11 2-13 2-8 2 3 2 5 2 8 2-3 2 1 2 0 2 5 2-12 2 1 2 2 2-2 2 10 2-10 2 13 2-14 2-3 2 8 2 12 2-12 2 4 2-5 2 6 2 3 2-7 2-3 2 14 2-14 2 1 2 5 2-6 2 7 2 8 2-6 2-7 2 9 2-19 2 17 2-5 2 5 2-10 2 4 2 12 2-8 2-3 2-6 2 10 2-3 2 9 2-15 2 11 2 5 2-3 2-23 2 7 2 7 2-5 2 5 2 6 2-5 2 0 2-2 2 16 2-12 2 0 2 0 2-3 2 11 2-10 2 5 2 5 2-12 2 5 2 1 2 0 2-5 2-6 2 6 2 0 2 1 2-3 2 9 2 6 2-9 2-7 2 6 2 2 2 6 2-13 2 0 2 0 2 3 2-4 2 4 2-3 2 0 2-4 2-3 2 7 2-9 2 9 2-6 2 11 2-5 2-7 2 9 2-7 2 5 2-5 2-3 2-7 2-5 2 14 2 5 2-7 2-14 2 17 2-2 2-6 2 4 2 0 2-5 2 11 2-15 2 17 2-7 2-5 2-3 2-1 2 6 2-2 2 2 2 10 2-9 2 2 2-10 2 6 2 7 2 3 2-14 2 13 2-1 2-13 2 10 2-8 2 11 2-14 2 13 2 2 2-6 2 3 2 5 2 5 2-5 2-3 2 4 2-4 2 1 2 3 2 2 2-10 2 2 2 6 2-1 2 6 2 1 2-8 2-1 2 3 2 8 2-1 2-3 2 2 2-6 2 2 2-5 2 11 2-14 2 12 2 7 2-18 2 8 2-3 2 7 2-12 2 12 2 7 2-16 2 8 2 0 2-1 2 1 2 8 2-1 2-17 2 10 2-6 2 0 2 5 2-4 2 13 2-9 2 4 2-6 2 12 2-12 2 0 2 2 2-1 2 8 2-7 2-8 2 5 2 1 2 4 2-3 2 8 2-5 2 1 2-3 2-7 2 4 2-5 2 2 2-5 2-1 2 11 2-9 2 5 2-1 2 13 2-11 2-9 2 5 2 3 2 1 2-6 2 0 2-2 2 12 2-13 2 11 2-2 2-2 2 5 2-17 2 15 2-2 2 9 2-8 2-1 2-5 2 10 2-5 2-13 2 0 2 5 2 9 2-17 2 5 2 5 2 0 2 9 2 1 2-8 2-4 2 4 2-4 2 6 2-12 2 13 2-12 2 11 2-7 2 7 2-12 2 1 2 7 2 2 2 7 2-3 2-6 2-4 2-1 2 10 2-11 2 1 2 0 2 4 2 3 2-19 2 19 2-13 2 16 2-2 2-6 2-4 2 9 2-3 2-4 2-3 2 8 2-2 2-3 2 10 2-3 2 13 2-15 2 5 2 4 2-26 2 17 2 0 2 0 2-2 2 2 2-6 2 5 2-12 2 11 2-14 2 21 2-12 2 1 2 7 2-18 2 9 2 6 2 0 2-4 2 0 2 0 2 2 2 5 2 7 2-12 2 12 2-1 2-4 2-14 2 18 2-4 2-3 2 7 2 5 2-10 2 3 2 3 2-11 2 10 2-11 2 10 2 5 2 3 2-8 2 5 2 2 2-4 2 5 2 5 2-14 2 5 2-10 2 0 2 19 2-22 2 20 2 0 2-7 2 0 2-1 2-12 2 11 2-2 2 0 2-9 2 9 2-5 2 9 2-9 2 3 2 2 2-2 2-2 2 14 2-12 2-11 2 10 2 5 2-8 2 3 2 10 2-7 2-4 2 14 2-5 2-1 2-17 2 5 2 11 2-5 2 0 2 9 2-9 2 1 2 4 2-2 2-1 2-2 2 17 2-10 2 2 2 2 2 1 2-8 2 4 2 0 2 4 2-7 2-1 2 12 2 3 2-6 2 2 2 0 2-6 2 4 2-3 2 4 2-1 2-6 2 4 2 5 2-9 2 7 2-3 2 2 2 1 2 5 2-7 2 0 2 4 2-2 2 0 2-3 2 7 2-7 2 4 2-2 2 7 2-2 2-9 2 12 2 0 2-2 2-7 2 3 2-3 2-1 2-1 2 8 2 0 2 1 2-3 2 0 2-1 2-2 2-7 2 9 2 9 2 3 2-8 2-4 2-7 2-1 2 10 2-4 2 6 2-3 2 2 2 1 2-4 2-1 2 2 2-4 2 4 2-2 2 11 2-9 2 15 2-21 2 14 2-18 2 9 2 1 2 3 2-16 2 16 2 1 2-6 2 1 2 5 2-4 2 5 2-1 2-1 2-7 2 7 2-2 2 1 2-2 2 5 2-4 2 6 2 5 2-5 2-5 2 0 2 2 2-4 2 2 2 5 2-10 2 2 2 7 2-6 2 6 2-2 2 5 2 0 2-8 2 7 2 1 2-9 2 6 2-6 2 0 2 10 2 11 2-15 2-3 2-1 2 6 2 5 2 1 2-12 2 8 2-9 2 6 2 3 2 8 2-13 2-5 2-5 2 7 2 7 2 5 2-3 2-1 2-4 2 2 2-10 2 4 2 9 2-8 2 8 2-10 2 8 2 3 2 2 2-11 2 5 2 5 2-11 2 10 2-2 2 1 2-5 2 0 2 3 2-7 2 11 2-4 2 3 2-5 2 5 2-1 2-3 2 5 2-7 2 2 2 7 2-3 2-1 2 1 2 5 2-5 2 6 2 1 2-12 2 0 2-5 2 5 2 1 2 8 2-10 2 9 2 0 2-4 2 3 2-2 2 0 2-1 2 1 2 0 2-8 2 12 2-11 2 2 2-8 2 9 2 5 2-1 2-6 2 5 2 4 2-3 2-6 2 6 2-5 2 5 2 5 2-6 2-2 2 2 2 9 2-14 2 2 2-6 2 13 2-2 2 7 2-9 2 6 2 8 2-19 2 0 2 1 2 9 2 0 2 0 2-9 2 4 2 2 2-8 2 6 2-4 2 7 2-5 2-6 2 14 2 1 2-2 2-6 2 4 2 4 2-15 2 5 2-7 2 15 2-2 2 17 2-21 2 4 2-13 2 16 2-4 2 1 2 1 2 3 2-4 2 1 2-1 2 0 2 3 2-1 2-3 2-8 2 8 2 11 2-6 2 3 2-5 2-3 2 2 2 5 2 0 2-12 2 6 2-1 2-2 2-6 2 3 2-4 2 14 2-7 2 12 2-9 2 7 2-3 2-2 2 3 2-3 2-6 2 9 2-3 2-3 2 14 2-16 2 3 2 2 2-3 2-1 2 8 2-5 2 7 2-5 2 0 2 15 2-15 2-1 2 2 2-2 2 1 2 10 2-2 2-10 2 7 2-4 2-5 2 10 2-5 2-5 2 11 2-8 2-4 2 12 2 5 2-9 2-3 2-8 2 12 2 1 2 1 2-5 2 2 2 6 2-8 2 15 2-11 2 6 2 2 2-20 2 6 2 11 2-6 2-9 2 5 2 2 2 9 2-5 2 3 2-7 2 0 2 8 2-6 2 6 2-9 2 4 2 12 2-16 2 5 2 4 2 1 2-3 2-2 2 0 2-13" stroke="#6A5FC1"/>
<path d="M282 2316l2 3 2 5 2-5 2-5 2 10 2-7 2 2 2-1 2-1 2 2 2-2 2 2 2-3 2 13 2-4 2-10 2-1 2 11 2 0 2-14 2 15 2-7 2-5 2 4 2 4 2 1 2 12 2-14 2-3 2 9 2-4 2-3 2 0 2-8 2 10 2-9 2 8 2 0 2-5 2 3 2 3 2-4 2-2 2-3 2 6 2 7 2-6 2-2 2-2 2-4 2 14 2-9 2 0 2 1 2-1 2 3 2-2 2 1 2 2 2 7 2-12 2 11 2-10 2-1 2 12 2-6 2-4 2-2 2 2 2-7 2 16 2-11 2 9 2-8 2 5 2-5 2-6 2 9 2-3 2 6 2-4 2 13 2-25 2 8 2 0 2-3 2 1 2 3 2 10 2 3 2-3 2-9 2 8 2-1 2-1 2 5 2-10 2 3 2 9 2-2 2-11 2 11 2-3 2-2 2-6 2 0 2-1 2-4 2 16 2-7 2-2 2-7 2 1 2 13 2-10 2 5 2-10 2 12 2 1 2-7 2-3 2 13 2-3 2-1 2-5 2 2 2 4 2-11 2 5 2-5 2 4 2-2 2 6 2 3 2-11 2 19 2-13 2 3 2-9 2 9 2-7 2 0 2-1 2 8 2 2 2-4 2 3 2-8 2-3 2 4 2-6 2 7 2 3 2 3 2-7 2-2 2-3 2 7 2-6 2 7 2 1 2-8 2 9 2 3 2-8 2 0 2-2 2-3 2-4 2 11 2-5 2 5 2 3 2-10 2 7 2-8 2 4 2 3 2-2 2-7 2 7 2 1 2-16 2 5 2-5 2-10 2 22 2-12 2-6 2 9 2 18 2-7 2-2 2 6 2-12 2 11 2-9 2-2 2 7 2-1 2-3 2-1 2 6 2-9 2 11 2-2 2-5 2-5 2 6 2-3 2 1 2-9 2 8 2 11 2-13 2-5 2 13 2 3 2-11 2-2 2-2 2 12 2-4 2-19 2 21 2-7 2-4 2 1 2 2 2-3 2 1 2-4 2 0 2-1 2 3 2-10 2 21 2-21 2 13 2-6 2 1 2-8 2 7 2 2 2-6 2-12 2 25 2-13 2 6 2-4 2 7 2-7 2 2 2-1 2-11 2 18 2-16 2 14 2-2 2-4 2-2 2 1 2 1 2 13 2-8 2-6 2 1 2-5 2 14 2-9 2 1 2-2 2 3 2-1 2-3 2 3 2 6 2-5 2 1 2-5 2 3 2 0 2-1 2 6 2-12 2 3 2 5 2-4 2-2 2 10 2-15 2 12 2-9 2 4 2-3 2-8 2 8 2-8 2 1 2 6 2-7 2 6 2-1 2-4 2 7 2-2 2-9 2-13 2 14 2 13 2-8 2-2 2 0 2-3 2-4 2 0 2-2 2 2 2 3 2-1 2 5 2-11 2 7 2 6 2-9 2 12 2-4 2-8 2 7 2 0 2-5 2-5 2 4 2-5 2-4 2 10 2-3 2-19 2 14 2 3 2-2 2 4 2-5 2-2 2-4 2 10 2-1 2 11 2-22 2 8 2-1 2 2 2 5 2-9 2-1 2 9 2-2 2-11 2 5 2 4 2-5 2 5 2-6 2 7 2-12 2-7 2 14 2-1 2-9 2 7 2-4 2 6 2-7 2 8 2-1 2 2 2-8 2 0 2-1 2 1 2 3 2 2 2-10 2 5 2 4 2-7 2 0 2 0 2 0 2-3 2-5 2 11 2 2 2-11 2 5 2 2 2 2 2-6 2-6 2 9 2-5 2 1 2-5 2 6 2-1 2 4 2 4 2-10 2-2 2 3 2-4 2-3 2 10 2-5 2-3 2-10 2 11 2 5 2-8 2-1 2-5 2 4 2-8 2-3 2 0 2-1 2 6 2-12 2 6 2 6 2-14 2 3 2 1 2-4 2-8 2 1 2-2 2-12 2-2 2-3 2-17 2 3 2-7 2-3 2-10 2-2 2-13 2-13 2 4 2-4 2-2 2-17 2-7 2-3 2-4 2 5 2 2 2 21 2 3 2 7 2 14 2-8 2 9 2 10 2 3 2 13 2 4 2-2 2 18 2-11 2-1 2-1 2 20 2-17 2-4 2 12 2-4 2 16 2-5 2 2 2-2 2-12 2 11 2-8 2 1 2 10 2-18 2 10 2-2 2 0 2 5 2-12 2-5 2-2 2-7 2-8 2-1 2 5 2-17 2 4 2-13 2 2 2-6 2-2 2-2 2-15 2-4 2 4 2-11 2-2 2-12 2-3 2-19 2-4 2-9 2-6 2-7 2-1 2-12 2-5 2-8 2 3 2-12 2-14 2 0 2-1 2-18 2-3 2-10 2-2 2-13 2-1 2 2 2-15 2-18 2 2 2-10 2-10 2-9 2-4 2-18 2-32 2-18 2-10 2-20 2-20 2 17 2 19 2 7 2 25 2 21 2 20 2 15 2 19 2 25 2 16 2 4 2 20 2 12 2 14 2 24 2 22 2 14 2 28 2 5 2 18 2 1 2 26 2 6 2 17 2-11 2 17 2 2 2 2 2 16 2 14 2-15 2 12 2-4 2 9 2 0 2-2 2 5 2-6 2 14 2-7 2 4 2 11 2-15 2 11 2 6 2 6 2-4 2-11 2 18 2-8 2 9 2-2 2-2 2 2 2 2 2 1 2 5 2-3 2 0 2 4 2-6 2 14 2-19 2 11 2-8 2 8 2 6 2-9 2 8 2-2 2 5 2-13 2 8 2 5 2-16 2 15 2-1 2-8 2 4 2 4 2 2 2-2 2 5 2-1 2-2 2 1 2 4 2-18 2 9 2 6 2 8 2-5 2-8 2 2 2 3 2 2 2-1 2-9 2 9 2-6 2 11 2-6 2 1 2-5 2 5 2-3 2 3 2 3 2 4 2-8 2-2 2 14 2-16 2 10 2-4 2 7 2-6 2 1 2 8 2-4 2-8 2 4 2 3 2 6 2-14 2 7 2 0 2 10 2-9 2 6 2-3 2-1 2 8 2-13 2 17 2-7 2 0 2 5 2-21 2 6 2 5 2 9 2-9 2-1 2 0 2-3 2-1 2 9 2-11 2-9 2 15 2 4 2-9 2 1 2 5 2-7 2 7 2-6 2 6 2-9 2 15 2-12 2 9 2-15 2 11 2-3 2-6 2 5 2 7 2-11 2 12 2-15 2 12 2-13 2 8 2-3 2-6 2 14 2-13 2-12 2 13 2-7 2 6 2-8 2 5 2 1 2-9 2-2 2-4 2-1 2 0 2 7 2-20 2 14 2-4 2-5 2 5 2 1 2-1 2 1 2-8 2 8 2-10 2 16 2-2 2-11 2 5 2-4 2 13 2-17 2-11 2-3 2-12 2-2 2-5 2-8 2-15 2 12 2 7 2 19 2 15 2 7 2 8 2 16 2 18 2-3 2 14 2 1 2-5 2-1 2 0 2 3 2 3 2-4 2 9 2 0 2-8 2 9 2-8 2 3 2-2 2 3 2 11 2-14 2 14 2 1 2-13 2 8 2-11 2 4 2 0 2 5 2-9 2 21 2-12 2 0 2 0 2-1 2-2 2-3 2-4 2 8 2 3 2-4 2-2 2-3 2 6 2-1 2 7 2 3 2-9 2 1 2 2 2 0 2-7 2 4 2 4 2-3 2-6 2 4 2 3 2 0 2-3 2 5 2 0 2 9 2-13 2 10 2-13 2-1 2 12 2-7 2 7 2-10 2 11 2-13 2 18 2 2 2-3 2-4 2-6 2 7 2-2 2-7 2-4 2 8 2 3 2-5 2-4 2 2 2 3 2 13 2-12 2 2 2-11 2 11 2-2 2-1 2-1 2-3 2 5 2-6 2 4 2-1 2 6 2-7 2-14 2 12 2 3 2-4 2 5 2 10 2-17 2-4 2 11 2-12 2 0 2 6 2-4 2-8 2 3 2 1 2 14 2-9 2 3 2-12 2 15 2-10 2 4 2-1 2-3 2 4 2-6 2 8 2-5 2-5 2 1 2 8 2-2 2-7 2 2 2-3 2 5 2-6 2 3 2 2 2-9 2 7 2 0 2-6 2 4 2 7 2-1 2-7 2 3 2 10 2 6 2-8 2-10 2 15 2-2 2-4 2-1 2 4 2-9 2-5 2 13 2-5 2-5 2 0 2 16 2-8 2-4 2-8 2 9 2-9 2 6 2 4 2-1 2 0 2-8 2 13 2-3 2 1 2-1 2-22 2 29 2 4 2-20 2 10 2 8 2-11 2 3 2 1 2 1 2-8 2 11 2-8 2-7 2 7 2 1 2 8 2 6 2-9 2 6 2-19 2 8 2 5 2 2 2-12 2 2 2 8 2 5 2 5 2-7 2 0 2 3 2-3 2-8 2 0 2 9 2-9 2 7 2 4 2-9 2-3 2 6 2 8 2-7 2 2 2 6 2-5 2-6 2 4 2-1 2-6 2 8 2 1 2 1 2-11 2 14 2-8 2-5 2 7 2 6 2-1 2 4 2-2 2-8 2-2 2 3 2-10 2 6 2-3 2 5 2 7 2-12 2-5 2 20 2-21 2 9 2-4 2 13 2-10 2 10 2-4 2-1 2-2 2-14 2 15 2-23 2 13 2 5 2-2 2-17 2 14 2-3 2 8 2-11 2 4 2 9 2-9 2-2 2 13 2-8 2-2 2 13 2-19 2 6 2 3 2-5 2 6 2-5 2-2 2-6 2 8 2-6 2 18 2-8 2-4 2-1 2-7 2 9 2 3 2-10 2 5 2 3 2-13 2 11 2-3 2-7 2 6 2 1 2-3 2 4 2 4 2 12 2-15 2-2 2 8 2-8 2 9 2-3 2-12 2 13 2 1 2 3 2-3 2 0 2 4 2-11 2 5 2-2 2 12 2-2 2-4 2 0 2-4 2 3 2 7 2-10 2 3 2 0 2 1 2 2 2-4 2 1 2 7 2-11 2 7 2-1 2 4 2 4 2-19 2 1 2 11 2 6 2-6 2-11 2 13 2 10 2-11 2-2 2-2 2-1 2 2 2 1 2-1 2 5 2-2 2 2 2-6 2 10 2-9 2 3 2 3 2 1 2-4 2 0 2-1 2 2 2 2 2 2 2-1 2-13 2-4 2 18 2-8 2-5 2 13 2-10 2 1 2-9 2 6 2 5 2 4 2-3 2 0 2 4 2-9 2 2 2 0 2 4 2-9 2 3 2 9 2-4 2 4 2 2 2-13 2 6 2-4 2 4 2 1 2-2 2-4 2-9 2 3 2 8 2 0 2 0 2 1 2-3 2 5 2-3 2-6 2-4 2 7 2 3 2-6 2 1 2 9 2-8 2-5 2 15 2-8 2 0 2-12 2 9 2 7 2-2 2-11 2 8 2-10 2 7 2 0 2-1 2 4 2 2 2-3 2-1 2 8 2-22 2 7 2 3 2 1 2-2 2-2 2-1 2 8 2-15 2 9 2 2 2-2 2-3 2-2 2-9 2 11 2 2 2-1 2-6 2-3 2-5 2 10 2 6 2-11 2 5 2-2 2 0 2 8 2-5 2 1 2-7 2 2 2-2 2 0 2 13 2-5 2-2 2-3 2 2 2-1 2 3 2 3 2 1 2 6 2-5 2-7 2 11 2-7 2 8 2-2 2 0 2-4 2-11 2 6 2 14 2-13 2 6 2 2 2-2 2 11 2 0 2-2 2-9 2 8 2-1 2 1 2 5 2 2 2-8 2 0 2 9 2 1 2-4 2-3 2 10 2-10 2-5 2 11 2-1 2-4 2 5 2-9 2 5 2-8 2 3 2 4 2-2 2-3 2 9 2-3 2-2 2 2 2-6 2 5 2 4 2-9 2 4 2 4 2 0 2 1 2-14 2 13 2-5 2 8 2-1 2 3 2-9 2 5 2-12 2 12 2-7 2 6 2 4 2-12 2 7 2-4 2-7 2 6 2 7 2 2 2 9 2-19 2 12 2-7 2 11 2-9 2 4 2 6 2-11 2-8 2 9 2 3 2 3 2-1 2-5 2 7 2-7 2 3 2-5 2 1 2 4 2-4 2 0 2 9 2-12 2 1 2 11 2 6 2-8 2-2 2-2 2 7 2-4 2 0 2 4 2 2 2 6 2-9 2 8 2-15 2 12 2-18 2 19 2-2 2-1 2-5 2 13 2-15 2 4 2 7 2 2 2-14 2 11 2-9 2 4 2 1 2 7 2 4 2-10 2-4 2-1 2 10 2 8 2-5 2-3 2-6 2 9 2-7 2 12 2-11 2 5 2-1 2 7 2-10 2-5 2 4 2 6 2 1 2-4 2-5 2 7 2-6 2 11 2-10 2 8 2-2 2 0 2-5 2 1 2 4 2 0 2 0 2 9 2-6 2 1 2 1 2-13 2 4 2 12 2-6 2 1 2-4 2 13 2-2 2-6 2-1 2-1 2 7 2 0 2-4 2-10 2 16 2-8 2-7 2 15 2-9 2 7 2-2 2-9 2-4 2 7 2 12 2-14 2-1 2 17 2-3 2-6 2-10 2 18 2-7 2 0 2-8 2 21 2-6 2-12 2-3 2 16 2 0 2-8 2 4 2 0 2-5 2 1 2-6 2 3 2-7 2 8 2 5 2-13 2 7 2-3 2 13 2-16 2 8 2 1 2-1 2-6 2 4 2 6 2 2 2-9 2 5 2-10 2 6 2 4 2-3 2 5 2-1 2-10 2 5 2-2 2-11 2 12 2 0 2 4 2 8 2-20 2 7 2-2 2 13 2-13 2 6 2 2 2-8 2 14 2-6 2-17 2 5 2 5 2 9 2 1 2-13 2 5 2 9 2-2 2-8 2 4 2 3 2-7 2 5 2-6 2 3 2 4 2 1 2 2 2-4 2-3 2 0 2 4 2-6 2 5 2 11 2-8 2-3 2 0 2 5 2 1 2-2 2-13 2 13 2-8 2-2 2 16 2-1 2-9 2-6 2-1 2 4 2 3 2 5 2-5 2-5 2 7 2-14 2 18 2-5 2 1 2 4 2-2 2-6 2-1 2 3 2 3 2-8 2 4 2 9 2-7 2-3 2-1 2 5 2-5 2 10 2-5 2-7 2 1 2 9 2-6 2-4 2 3 2 4 2 3 2 3 2-7 2-11 2 3 2 0 2 9 2 2 2 8 2-11 2 5 2 1 2-11 2 11 2-6 2 5 2-10 2-3 2 13 2-6 2 6 2 3 2-9 2 3 2-3 2 7 2-1 2-1 2 2 2 7 2-19 2 6 2-5 2 7 2 1 2-14 2 5 2 18 2-7 2-10 2 7 2-2 2 5 2 5 2-17 2 8 2-4 2-10 2 13 2 3 2-6 2-2 2-2 2-5 2 20 2-7 2 10 2-2 2-7 2 11 2-15 2-5 2 6 2 0 2 9 2-4 2-4 2 9 2-5 2 1 2 0 2-5 2 4 2-1 2 0 2 3 2-5 2-12 2 9 2 6 2-1 2-7 2 9 2-4 2-3 2-12 2 16 2 3 2-4 2 1 2 4 2-2 2-10 2 7 2 2 2-8 2 6 2-1 2-8 2 20 2-6 2 3 2 0 2-19 2 8 2 4 2-2 2 6 2 2 2-6 2 5 2-4 2 11 2-18 2 15 2-9 2-1 2 2 2 3 2-12 2 7 2 3 2-6 2 14 2 0 2-7" stroke="#9B877C"/>
<path d="M282 2445l2 8 2-9 2 13 2-6 2-6 2 8 2-12 2 7 2 11 2-10 2-3 2 5 2-6 2 2 2-2 2 0 2 11 2-8 2-9 2 4 2 7 2-7 2 6 2 4 2-9 2 11 2-9 2 9 2-13 2 17 2-12 2-7 2 11 2-3 2 3 2 0 2-2 2-3 2-4 2 2 2 11 2-8 2 10 2 1 2-5 2 4 2-10 2 4 2-7 2 16 2-7 2 0 2 0 2-8 2 1 2 8 2-2 2-9 2-1 2 9 2 1 2 2 2-7 2 0 2-5 2 12 2-3 2-3 2-9 2 10 2-4 2 8 2 7 2-17 2 6 2-2 2 11 2 2 2-10 2 8 2-6 2-3 2 4 2 0 2-2 2 0 2 2 2-3 2-2 2-3 2 10 2-4 2-1 2 7 2-4 2-9 2 6 2 4 2-3 2-3 2 4 2 0 2 2 2-6 2 10 2-10 2 10 2 0 2-15 2 2 2 3 2 10 2-7 2-7 2 13 2-3 2-6 2 7 2-7 2-1 2 15 2-21 2 13 2-12 2 12 2-2 2 11 2-7 2 0 2-13 2 4 2 5 2 15 2-22 2-1 2 8 2-2 2 7 2-2 2-4 2-1 2 7 2-12 2 3 2 1 2 2 2 0 2 2 2-2 2-9 2 8 2 3 2-3 2-17 2 10 2 10 2-5 2-6 2 13 2-5 2-2 2-2 2 2 2-5 2 12 2-4 2-2 2 0 2-9 2 13 2-9 2 13 2-6 2-7 2 8 2-6 2 2 2 15 2-16 2 3 2 3 2-2 2-6 2 16 2-6 2-5 2 5 2 4 2-8 2 1 2-10 2 5 2 2 2 4 2 1 2-4 2 2 2-7 2-1 2 9 2-12 2 11 2-14 2 3 2 3 2 14 2-8 2-5 2 7 2-5 2-4 2 2 2-3 2-3 2 1 2-1 2 2 2-4 2-2 2 3 2-6 2 11 2 3 2-8 2 0 2 5 2-8 2 10 2 2 2-7 2 0 2-6 2-1 2-1 2 10 2 0 2 4 2-17 2-1 2 0 2 3 2 9 2-6 2-8 2 14 2-13 2 2 2 7 2 3 2-21 2 22 2-3 2 0 2-4 2-1 2-11 2 10 2-2 2 5 2-9 2 3 2 11 2-12 2 8 2-9 2 6 2-8 2 0 2 7 2-8 2 2 2 10 2-6 2-5 2-7 2 2 2 9 2-3 2-3 2 0 2 3 2 4 2 8 2-14 2-1 2 0 2-2 2 6 2-5 2 8 2-16 2 6 2 2 2 1 2 3 2-9 2 5 2 1 2-2 2-4 2 21 2-20 2-3 2 1 2-1 2-1 2-4 2 13 2-12 2 6 2-12 2 8 2-4 2-4 2 12 2-6 2 10 2-5 2-7 2 1 2 8 2-14 2 10 2-2 2 3 2-7 2-3 2-2 2 1 2 6 2-3 2-4 2 0 2 5 2-4 2-2 2 7 2 8 2-5 2-6 2 6 2-11 2 10 2-9 2 1 2-3 2 0 2 4 2-3 2-5 2 9 2-8 2 7 2-2 2-4 2-10 2 9 2 9 2-12 2 13 2-9 2-4 2-1 2 20 2-12 2-3 2 10 2-5 2 2 2 2 2-6 2 4 2 4 2-4 2-9 2 6 2-4 2-4 2 6 2 2 2 8 2-10 2-4 2 7 2-11 2 7 2-2 2-5 2 8 2 4 2-16 2 2 2-2 2 14 2-5 2-6 2-2 2 0 2 3 2-1 2-2 2-1 2 0 2-6 2 10 2 0 2 0 2-5 2-1 2 3 2 8 2-11 2 2 2 8 2-10 2 1 2 0 2 6 2-11 2-4 2 3 2-4 2-17 2 3 2 19 2-13 2 1 2 9 2-9 2-30 2 16 2 8 2-18 2 4 2-3 2-3 2 5 2-8 2-7 2 3 2-4 2-5 2-21 2 13 2-15 2 3 2-11 2 7 2-21 2-5 2-1 2-5 2-6 2-13 2 2 2-10 2 7 2 21 2 8 2 0 2 9 2-3 2 17 2-1 2 16 2 6 2-10 2 13 2 10 2 0 2-1 2 13 2-4 2 0 2 1 2-5 2 3 2 3 2-1 2-7 2 6 2 8 2-2 2-14 2 2 2-8 2-4 2 5 2 9 2-16 2-6 2 6 2-11 2 7 2 1 2-5 2-4 2 4 2-9 2 3 2-4 2-6 2-1 2-11 2-8 2-1 2-15 2-2 2-17 2 0 2 6 2-5 2-19 2 2 2-17 2-2 2 4 2-11 2 2 2-10 2-1 2-14 2-12 2 0 2-8 2-2 2-2 2-2 2-12 2-4 2-3 2-14 2-12 2-10 2-8 2-4 2-18 2-15 2-2 2-37 2 8 2-21 2-21 2-17 2-26 2-27 2 4 2-7 2 11 2 10 2 1 2 35 2 8 2 17 2 38 2 29 2 34 2 27 2 20 2 37 2-3 2 31 2 24 2 12 2 10 2 12 2 10 2 9 2 7 2 9 2 9 2-10 2 19 2 2 2 12 2 5 2-2 2 2 2 5 2 1 2 5 2 5 2-3 2-3 2 14 2-6 2 11 2-8 2 3 2 11 2-17 2 5 2 11 2-2 2-10 2 12 2 0 2-5 2 16 2-10 2-1 2 2 2 1 2 4 2-4 2-2 2 2 2-5 2-4 2 12 2-6 2 3 2-1 2-2 2 3 2 10 2-18 2 7 2 8 2-5 2 9 2-15 2 2 2 12 2-10 2 6 2 3 2-7 2-3 2-4 2 1 2 11 2 5 2-9 2 6 2-4 2 0 2 4 2 2 2 7 2-6 2-13 2 14 2-7 2-2 2 4 2 7 2-5 2-2 2 4 2-10 2 8 2-1 2-3 2 4 2-10 2 2 2 6 2-5 2 2 2 16 2-7 2-5 2-1 2-4 2 15 2-3 2-6 2 14 2-14 2 7 2-4 2 1 2-8 2 12 2-4 2-6 2 14 2-10 2 5 2-2 2 7 2-11 2 11 2 0 2 2 2-12 2 19 2-12 2 4 2-2 2-1 2-5 2 9 2 7 2-7 2-12 2 18 2 1 2-5 2 11 2-3 2 1 2-2 2 4 2 5 2-14 2 6 2-3 2 4 2-6 2 8 2-7 2 1 2 5 2 1 2-5 2-2 2 5 2-7 2 2 2-2 2-2 2 5 2-3 2-7 2 7 2-10 2-2 2 2 2-9 2-1 2-4 2 9 2-8 2-1 2-2 2 0 2 0 2 0 2-13 2 8 2 4 2 10 2-16 2 11 2 7 2-2 2 7 2-8 2 8 2-18 2 10 2-10 2 3 2 1 2-11 2-5 2 5 2-18 2-14 2-17 2-5 2 17 2 5 2 12 2 21 2 5 2 7 2 5 2 8 2 11 2-7 2 11 2-8 2 17 2-11 2-2 2 7 2 0 2 14 2-7 2-6 2 8 2-9 2 7 2 2 2 0 2-9 2-2 2 12 2 8 2-5 2-1 2 0 2-4 2 7 2-13 2 9 2-9 2 2 2 8 2 5 2-7 2 4 2 2 2 4 2 0 2-9 2-1 2 2 2 0 2-2 2 5 2-5 2 5 2 6 2-6 2-4 2-1 2 7 2 0 2-3 2-1 2-3 2-14 2 5 2 8 2-8 2 11 2 9 2-13 2-3 2 5 2 0 2 5 2-4 2 5 2 1 2 5 2-18 2 6 2-9 2 10 2-1 2 8 2-9 2 6 2-7 2-7 2 7 2 3 2 5 2-4 2 10 2-7 2 2 2 4 2-2 2-11 2 1 2-10 2 19 2-13 2 4 2-3 2-1 2-1 2 5 2-2 2-1 2 6 2-2 2 1 2-8 2-1 2 8 2-7 2 7 2-23 2 20 2-3 2-1 2 7 2-21 2 14 2-9 2-4 2 11 2-3 2 8 2-11 2 2 2 7 2-12 2 5 2 4 2 1 2 0 2-7 2 6 2 11 2-11 2-3 2 4 2 1 2-1 2 6 2-6 2 0 2-7 2 12 2 1 2-3 2-6 2-4 2-2 2 10 2 5 2-2 2-5 2-2 2 3 2 13 2-13 2 11 2-5 2-2 2-1 2-5 2 2 2-1 2 4 2 12 2-18 2 5 2-6 2 9 2 1 2-7 2 6 2-2 2 1 2 3 2-10 2 1 2 9 2-2 2-3 2 13 2-6 2-14 2 11 2-5 2-6 2 13 2-2 2 5 2-13 2 4 2 4 2-2 2-1 2 6 2-10 2 15 2-28 2 21 2-2 2 10 2-5 2-13 2 14 2-9 2 6 2-9 2 12 2-6 2 1 2 5 2-7 2 6 2-8 2-3 2 10 2-2 2-1 2-6 2 11 2 5 2-6 2 0 2 2 2-5 2-1 2-8 2 9 2-3 2-3 2-2 2 7 2 4 2 5 2-6 2 4 2-12 2 6 2-11 2 7 2 6 2 3 2-1 2 2 2-4 2-5 2 11 2-19 2 17 2-12 2-5 2 10 2-1 2 4 2-12 2 6 2 6 2-9 2-3 2 1 2 11 2-5 2-1 2 8 2 1 2-9 2 4 2-3 2-7 2 7 2-11 2 9 2-3 2-5 2 12 2 2 2-9 2 6 2-2 2-11 2 15 2-12 2 9 2-8 2-8 2-7 2 7 2 4 2 4 2-12 2 17 2-10 2 4 2-10 2 3 2 3 2-7 2 4 2 0 2 2 2-3 2-10 2 5 2-5 2 11 2-4 2 3 2 8 2-5 2 8 2-20 2 22 2-7 2 4 2-8 2 12 2-11 2-2 2-1 2 4 2-3 2 8 2-4 2-11 2 17 2-2 2-2 2-3 2 10 2 0 2 4 2-8 2-6 2 14 2-5 2-6 2 12 2-9 2-7 2 11 2-3 2 2 2-5 2 2 2-5 2 11 2-3 2 7 2-13 2 8 2 4 2 7 2-9 2-7 2-6 2 15 2-6 2-1 2 3 2-5 2-1 2 8 2 4 2 0 2-6 2 2 2-5 2 10 2-7 2 3 2-5 2-4 2 8 2-8 2 1 2 3 2-8 2 7 2 0 2-13 2 8 2 2 2 7 2-7 2 7 2 0 2-13 2 18 2 7 2-17 2 8 2-2 2-14 2 6 2 2 2 6 2-15 2 16 2-6 2-2 2 3 2 3 2-4 2-3 2 7 2-10 2 1 2 6 2-8 2 7 2-2 2-3 2 9 2 7 2-8 2-8 2 4 2-8 2 14 2-12 2 11 2-3 2-2 2 3 2 2 2 7 2-3 2-1 2-10 2-7 2 5 2 4 2-1 2 7 2-7 2-1 2-1 2 3 2 0 2-14 2 23 2-12 2 4 2-7 2 9 2-18 2 11 2-2 2-3 2 2 2 10 2-5 2-7 2-3 2 4 2 9 2-15 2 16 2-8 2-9 2 10 2-1 2 1 2-1 2 2 2-6 2 7 2-19 2 15 2-4 2-6 2 14 2-7 2 2 2 4 2 0 2 0 2-7 2 1 2-7 2 5 2 0 2 5 2 3 2-5 2 2 2-2 2 6 2-3 2-3 2 5 2-9 2 3 2 2 2-1 2 9 2-1 2-8 2 4 2 5 2 5 2-2 2-6 2 0 2 13 2-9 2-6 2 8 2 8 2-9 2-4 2-1 2 16 2-12 2 14 2-7 2 4 2-7 2 9 2-16 2 15 2-5 2-1 2 8 2-14 2 0 2 14 2-2 2 0 2-11 2 12 2-7 2-1 2 13 2-7 2 0 2 7 2-11 2-3 2 8 2 7 2-14 2 0 2 5 2-1 2 3 2-3 2-2 2 4 2-5 2 0 2-11 2 9 2 3 2-5 2-5 2 9 2 3 2-10 2 2 2 0 2 1 2 5 2-7 2 5 2 9 2-9 2 2 2-3 2-4 2 3 2 5 2-9 2 14 2-3 2 3 2 0 2-5 2 7 2-8 2-5 2 16 2-6 2-8 2 5 2 5 2 15 2-25 2-4 2 19 2-5 2 3 2 3 2-7 2-7 2 1 2 0 2 1 2 9 2-8 2-2 2-4 2-1 2 19 2-2 2-4 2 2 2-9 2 4 2-1 2 5 2-2 2 3 2-4 2 5 2 0 2-12 2 18 2-13 2 8 2-6 2 15 2-8 2 5 2-10 2 5 2 3 2-7 2 2 2 13 2-12 2 3 2-3 2-1 2 16 2-12 2-14 2 16 2 3 2-9 2 0 2 3 2-6 2 10 2-7 2-5 2 5 2 11 2-14 2 5 2 3 2 13 2-13 2-4 2-5 2 8 2 0 2 2 2-5 2 1 2-3 2 4 2-3 2 5 2 1 2 6 2-9 2-1 2-2 2 7 2-5 2 5 2-11 2 7 2 10 2 3 2-20 2 16 2 10 2-21 2-5 2 15 2-3 2 1 2 0 2-5 2-3 2 5 2-2 2-7 2 7 2 2 2 0 2 5 2-2 2-7 2-1 2 2 2 8 2-9 2-1 2 3 2 8 2-9 2 5 2 8 2-9 2 4 2 3 2-5 2 0 2-1 2-1 2-4 2 4 2 6 2 1 2 10 2-13 2-2 2-2 2 2 2-1 2 3 2-4 2-6 2 7 2 1 2-1 2 3 2-1 2 11 2-18 2-2 2 12 2-6 2 7 2-16 2 16 2-10 2-6 2 13 2-5 2-8 2 13 2-3 2-12 2 11 2 3 2 3 2 0 2-7 2 1 2-2 2-5 2 14 2-7 2 3 2 1 2 4 2-12 2 16 2-13 2 7 2-1 2-1 2-8 2 4 2 6 2-2 2-2 2 5 2-7 2 2 2 6 2-19 2 19 2-2 2-1 2 0 2-3 2-2 2 8 2-5 2-1 2-7 2 16 2-13 2 3 2-6 2 4 2 20 2-27 2 16 2-10 2 2 2 9 2-5 2-8 2 9 2-6 2 9 2 4 2 1 2-8 2 6 2-6 2 0 2-7 2 1 2-1 2-2 2 10 2-1 2 4 2 6 2-6 2-8 2 17 2-1 2-17 2-7 2 14 2 7 2-5 2-1 2 5 2-1 2-2 2-8 2 16 2-9 2 5 2-18 2 8 2-8 2 7 2 4 2-5 2 8 2-2 2-3 2 8 2-27 2 24 2 0 2 0 2-11 2 17 2-8 2 3 2-6 2 5 2 0 2-5 2 4 2-2 2-3 2-3 2-1 2 4 2 1 2 1 2 0 2 7 2-4 2-5 2 3 2-4 2 1 2 2 2 5 2 3 2-2 2-2 2-3 2-3 2-4 2 3 2 2 2 6 2-9 2 8 2 5 2-10 2-2 2 3 2 3 2 1 2 4 2-5 2-7 2 15 2-10 2-14 2 10 2 10 2-8 2 6 2-8 2 1 2 2 2 1 2-2 2 7 2-12 2 11 2-7 2 9 2-9 2 5 2 10 2-15 2 1 2-5 2 9 2-13 2 19 2-2 2 2 2-2 2-2 2 2 2-2 2-7 2 13 2-8 2-5 2-1 2 18 2-6 2-5 2-2 2 1 2-4 2 2 2 2 2 3 2-2 2-7 2 7 2-1 2 1 2 4 2-8 2-1 2 1 2 10 2-16 2 10 2 10 2-6 2 2 2 1 2-3" stroke="#D03238"/>
<path d="M282 2587l2-2 2-2 2 10 2-2 2-7 2-3 2-1 2-3 2 10 2-1 2 9 2-4 2-13 2 9 2 2 2-2 2-5 2 4 2 1 2 5 2-7 2 4 2 0 2-9 2 0 2 5 2 0 2-6 2 0 2 5 2 2 2-6 2 5 2 5 2-8 2 0 2-3 2 13 2-4 2-11 2 11 2-7 2 14 2-11 2 6 2-2 2 8 2-11 2 6 2-3 2-3 2 7 2-11 2 11 2 4 2-7 2-1 2-2 2 3 2 8 2-11 2 6 2-8 2 2 2 3 2-9 2 13 2-9 2-1 2 14 2-19 2 18 2-12 2 5 2 2 2-12 2 8 2-2 2-4 2 10 2-2 2-4 2 9 2-10 2 4 2 3 2-8 2 8 2 1 2-6 2 4 2-10 2 9 2 5 2-15 2 8 2-9 2 15 2-3 2-5 2 4 2-3 2 4 2-8 2 0 2 13 2-10 2 2 2 9 2-9 2 1 2 4 2-6 2-1 2-5 2 1 2 11 2-2 2 1 2-6 2 8 2-10 2-1 2-2 2 14 2-4 2 1 2 0 2 4 2-15 2 8 2-9 2-2 2 18 2 0 2-9 2 7 2-1 2 2 2-4 2 1 2-5 2 2 2-9 2 15 2-4 2 4 2-10 2-5 2 3 2 1 2-7 2 14 2 4 2-11 2 11 2-7 2 5 2-6 2-14 2 11 2 6 2-10 2 11 2-3 2 1 2-3 2 12 2-19 2 12 2-7 2 5 2-6 2 0 2 9 2-11 2 16 2-11 2-6 2 21 2-19 2 11 2-5 2 1 2 3 2-3 2-1 2 0 2 6 2-11 2-10 2 15 2 9 2-5 2-14 2 6 2 6 2-11 2 1 2 3 2 11 2-8 2-3 2-3 2 10 2 0 2 0 2-12 2-7 2 0 2 18 2-3 2 1 2-1 2 0 2 4 2-2 2-8 2-1 2 10 2-2 2-7 2 5 2 0 2 8 2-10 2 7 2-6 2 2 2-3 2 5 2-5 2 6 2-19 2 13 2 4 2-20 2 16 2-8 2-5 2 13 2-10 2 9 2-7 2 3 2 1 2-3 2 5 2-5 2 11 2-17 2 5 2-1 2-1 2-10 2 21 2-14 2 2 2 1 2-11 2 9 2-6 2 6 2-12 2 18 2-10 2-5 2 3 2-4 2 5 2-12 2 22 2-21 2 2 2 14 2-20 2 11 2-14 2 14 2-10 2 7 2 1 2-7 2 4 2-4 2 0 2 1 2-8 2 9 2-15 2 13 2-6 2 9 2-4 2-7 2 6 2 0 2-8 2 2 2-2 2 1 2 2 2-1 2-1 2-3 2 4 2 3 2-3 2-8 2 16 2-14 2-5 2 8 2-10 2 11 2-3 2-2 2 8 2-2 2-5 2-10 2 13 2-2 2-9 2 11 2-9 2 1 2-9 2 21 2-14 2-2 2-1 2 2 2-1 2-1 2 5 2-4 2 2 2-7 2 1 2 7 2 4 2-16 2 9 2 4 2-3 2 4 2-1 2-13 2-2 2 11 2 0 2 2 2-11 2 11 2-2 2-6 2 17 2-20 2 12 2-4 2 8 2 2 2-8 2-10 2 11 2-6 2-13 2 17 2 5 2-13 2-4 2 9 2-2 2 0 2 5 2-14 2 6 2-1 2-1 2 7 2-5 2 3 2 0 2 1 2-9 2 7 2-1 2 3 2-5 2 3 2-3 2 6 2 0 2-5 2 9 2-8 2 0 2 1 2-2 2 0 2 3 2-4 2 11 2-5 2 2 2-13 2 2 2 12 2-3 2-8 2-1 2-3 2 0 2 4 2-12 2 1 2 6 2-5 2 2 2-3 2 1 2-4 2-9 2 5 2-14 2 3 2-4 2-9 2 13 2-7 2-7 2 0 2-5 2-6 2-9 2 11 2-15 2-13 2 11 2-25 2-3 2-2 2-8 2-11 2-9 2-4 2-6 2-8 2-7 2-8 2-6 2 20 2-5 2-3 2 19 2-4 2 22 2 2 2 26 2-11 2 12 2-5 2 15 2 3 2-3 2 14 2-8 2-1 2 19 2-1 2-7 2 0 2 3 2-5 2 2 2 10 2-1 2-16 2 16 2-9 2 2 2-1 2 4 2-3 2 4 2-12 2 3 2-9 2 3 2-1 2 7 2-14 2-4 2-8 2-4 2-2 2 8 2-7 2-13 2 5 2-3 2-3 2-10 2-12 2-9 2 0 2-2 2-11 2-10 2-1 2-17 2 1 2-11 2-9 2-16 2 1 2-12 2-12 2 1 2-12 2-7 2 1 2 5 2-15 2 1 2-10 2-13 2 6 2 0 2-6 2-10 2-14 2-7 2-26 2-6 2-18 2-8 2-14 2-30 2-3 2-11 2-3 2 1 2-15 2 8 2-5 2-3 2 26 2 13 2 17 2 23 2 28 2 44 2 25 2 38 2 40 2 20 2 10 2 15 2 28 2 6 2 5 2 8 2 3 2 11 2 2 2 9 2 8 2 0 2 1 2 12 2 1 2 7 2 3 2-2 2-1 2 12 2 6 2 2 2-8 2 17 2-12 2 10 2 8 2 7 2-2 2-12 2 23 2-11 2 8 2-13 2 7 2 2 2 7 2-12 2 17 2-9 2-4 2 0 2 17 2-14 2 2 2 7 2 2 2-6 2 4 2-6 2 17 2-11 2 13 2-11 2 15 2-12 2 15 2-18 2 5 2 7 2-7 2 7 2-14 2 3 2 6 2-5 2 4 2 5 2-7 2-5 2 7 2-10 2 15 2-11 2 11 2-11 2 5 2-7 2-9 2 13 2-9 2-4 2-5 2 9 2 2 2 4 2-5 2 0 2-2 2 5 2-3 2-11 2 7 2-1 2 3 2-6 2 6 2-4 2 11 2-1 2 1 2-8 2-8 2 17 2-5 2 10 2-3 2 1 2 0 2-4 2 4 2 8 2 2 2-11 2 1 2 4 2 9 2-6 2 5 2 2 2 7 2-5 2-5 2 3 2-4 2 5 2-1 2-6 2-8 2 6 2-7 2 7 2 3 2 0 2-2 2-8 2 8 2-4 2-1 2 2 2 5 2-2 2 3 2-5 2-1 2 1 2-1 2 6 2 0 2 0 2-5 2 0 2 4 2-13 2 23 2-16 2 7 2-3 2 14 2-17 2-6 2 6 2 3 2 7 2-17 2-10 2 2 2-3 2 3 2 10 2-15 2 4 2-9 2-7 2 7 2 0 2 0 2-5 2 10 2-5 2-7 2 1 2 0 2 7 2-4 2 0 2-6 2 8 2 7 2-11 2-2 2 1 2 5 2-1 2 1 2 5 2-10 2 4 2-12 2-6 2-19 2-14 2-8 2-4 2 12 2 14 2 17 2 31 2 8 2 18 2 4 2-4 2 1 2 10 2 5 2-23 2 16 2 2 2-6 2 5 2 0 2 1 2 0 2 4 2-11 2 14 2-4 2 10 2-7 2 5 2-11 2 5 2 4 2-14 2 4 2-1 2 4 2 2 2 0 2-5 2 12 2-16 2 5 2-4 2-1 2 17 2-16 2-7 2 10 2 5 2-5 2 4 2-7 2 6 2 1 2 0 2 1 2 6 2 0 2-4 2-1 2-6 2 10 2-10 2 13 2-6 2-5 2 0 2 0 2 14 2-12 2 3 2 8 2-14 2 9 2-7 2 6 2 4 2-6 2 3 2-2 2-3 2 6 2-2 2 8 2-13 2 11 2-7 2-2 2 0 2 6 2-1 2-3 2 13 2-8 2 4 2-4 2 4 2-2 2-8 2 0 2 6 2-12 2 16 2-12 2 2 2 7 2-5 2-3 2 16 2-18 2 2 2 12 2-28 2 10 2 1 2-9 2 1 2 6 2-1 2-9 2 12 2-5 2-6 2-8 2 12 2-1 2-9 2 12 2-6 2 0 2-1 2 5 2-10 2 9 2-11 2 10 2 1 2 0 2 3 2-3 2 2 2-1 2-2 2 0 2 15 2-8 2 0 2 0 2-5 2 7 2-5 2-6 2 7 2-14 2 22 2-14 2 6 2-10 2 1 2 3 2 9 2-3 2-9 2 5 2 9 2-13 2 3 2 11 2-10 2 2 2 10 2-9 2-1 2 7 2 1 2-3 2-2 2 2 2 0 2 3 2-5 2 0 2-2 2 5 2-1 2-5 2 4 2-5 2 18 2-4 2-13 2 8 2 0 2-1 2-8 2 2 2 5 2-2 2-5 2 20 2-15 2-1 2 5 2 0 2 1 2-3 2 7 2-2 2-2 2-5 2 8 2-1 2-8 2 14 2-7 2-5 2 8 2 4 2-3 2 8 2-2 2 0 2-12 2 4 2 1 2-10 2 12 2-6 2 0 2 10 2-2 2-8 2 2 2 9 2-7 2 12 2-10 2 17 2-16 2-17 2 8 2 12 2-10 2 0 2 5 2 7 2-9 2-5 2-4 2 12 2-12 2 5 2 3 2-9 2 2 2 11 2 2 2-5 2 2 2-8 2 16 2-20 2 10 2-2 2 1 2 1 2-5 2 8 2-17 2 11 2-1 2 5 2-15 2 4 2 12 2-9 2-3 2-4 2 8 2-4 2-4 2 15 2-2 2-2 2-6 2 2 2 2 2-8 2 15 2-12 2-4 2-2 2-13 2 12 2-10 2 11 2-4 2-9 2 13 2-3 2 0 2-2 2 7 2-8 2 3 2 4 2-2 2 2 2-2 2 3 2-1 2-5 2 5 2-2 2-14 2 7 2 4 2-1 2-4 2-6 2 6 2 3 2 0 2 4 2-15 2 17 2-7 2 8 2-4 2-4 2 0 2-12 2 14 2 16 2-9 2 2 2 4 2 3 2-16 2 9 2-3 2-1 2 7 2-5 2 1 2 0 2 7 2-16 2 12 2-2 2 2 2 1 2 10 2 2 2-8 2 0 2-1 2 2 2 1 2-4 2 1 2 4 2 0 2-14 2 10 2 6 2-4 2-5 2 0 2 9 2 6 2-18 2-4 2 0 2 4 2 2 2 10 2 3 2-9 2 4 2-7 2 12 2-12 2-10 2 11 2-7 2 12 2-3 2 12 2-17 2 9 2-9 2 6 2-4 2 7 2-17 2 12 2-23 2 8 2 11 2 3 2-11 2 2 2-2 2 11 2-13 2 2 2 13 2 4 2-13 2 12 2-14 2 11 2-11 2-12 2 19 2-9 2 0 2 9 2-3 2 2 2-4 2-5 2 7 2-2 2 0 2-12 2 12 2 12 2-7 2 1 2-7 2-5 2 6 2-1 2-5 2 5 2-7 2-2 2 20 2-4 2-14 2 12 2 3 2-9 2 0 2 1 2-3 2-9 2 14 2-3 2 8 2-12 2 6 2-5 2 7 2-2 2-4 2 4 2-3 2 11 2-12 2 0 2-1 2 2 2 1 2 5 2-8 2-2 2 3 2 1 2 3 2 6 2-23 2 9 2 6 2 0 2-5 2 9 2 1 2-5 2 7 2-9 2-3 2 9 2-12 2 1 2 1 2 2 2-11 2 11 2 7 2-7 2 7 2-1 2 0 2-16 2 15 2-1 2 5 2 9 2-12 2-1 2-1 2 5 2 3 2-7 2 4 2 1 2 4 2-6 2 10 2-11 2-3 2 3 2 3 2-3 2-1 2 10 2-6 2 3 2 6 2-5 2 3 2-4 2 10 2 1 2-7 2 4 2-21 2 30 2-17 2-3 2-2 2 8 2 0 2 8 2-3 2-5 2 2 2 3 2-2 2-3 2 0 2-1 2 5 2-11 2 4 2 8 2-6 2-1 2 7 2-13 2 6 2 3 2-4 2 9 2-7 2-5 2 5 2 12 2-9 2 4 2-15 2 16 2-11 2-3 2 9 2-11 2 3 2 14 2-6 2 1 2-5 2-3 2 6 2 1 2-12 2 15 2-11 2 10 2-2 2-1 2-6 2 4 2-3 2 5 2-16 2 11 2-2 2 3 2 1 2-9 2-1 2 11 2-9 2 11 2 9 2-16 2 3 2-1 2 8 2 6 2-12 2 12 2-19 2 8 2 6 2 0 2-1 2 7 2-5 2 5 2-8 2 9 2-5 2 0 2 0 2-3 2-3 2-2 2 21 2-3 2-1 2-14 2 13 2-1 2 6 2-10 2 8 2 1 2-9 2 5 2 5 2-3 2-8 2 15 2 3 2-5 2 1 2-1 2-4 2 3 2-13 2 22 2-10 2-1 2 5 2-2 2 4 2-2 2-14 2 6 2 13 2-12 2 7 2 5 2-2 2-5 2 6 2-6 2 1 2-4 2-2 2 9 2-4 2 10 2-20 2 2 2 12 2-5 2 3 2 2 2-1 2-2 2-2 2 1 2 6 2 6 2-8 2-1 2-7 2 9 2 0 2 3 2-9 2 11 2-16 2 4 2 7 2-4 2-5 2 5 2-3 2 6 2-3 2-9 2 12 2-3 2-7 2 14 2-4 2-11 2 18 2-9 2-3 2 0 2 3 2-9 2 1 2 18 2-13 2 7 2 1 2-5 2 5 2-10 2-1 2 12 2 0 2 2 2-12 2 5 2 7 2-13 2 2 2-10 2 10 2 15 2-2 2-13 2-3 2 8 2 4 2-19 2 20 2-4 2-4 2 7 2-9 2-2 2 3 2 0 2 3 2-7 2 14 2-7 2-1 2-4 2 0 2 11 2-5 2-4 2-7 2 6 2-1 2 13 2-15 2 4 2-11 2 17 2-5 2 2 2-2 2 0 2-1 2 0 2 3 2-2 2 13 2-7 2-6 2 4 2-3 2 12 2-8 2 8 2-25 2 23 2-4 2-10 2 8 2-3 2 3 2-2 2 3 2-9 2 10 2-9 2 15 2-9 2 12 2-5 2-3 2-6 2-1 2 1 2 0 2 4 2-3 2 2 2-11 2 13 2-7 2 6 2-8 2 3 2 8 2-9 2 5 2 9 2-12 2-10 2 11 2-2 2 4 2 5 2-7 2-3 2 2 2 14 2-17 2 4 2-4 2 9 2-12 2 16 2-5 2-5 2-5 2 7 2 2 2-3 2 4 2 5 2-7 2-4 2-1 2 8 2 3 2 0 2-14 2 9 2-2 2 7 2-11 2 3 2 9 2-10 2 7 2-11 2 9 2-4 2 2 2 7 2-7 2 4 2-2 2-2 2 6 2-12 2 11 2 0 2-11 2 5 2-2 2 8 2-4 2-2 2 8 2-3 2 3 2-11 2 3 2 5 2 5 2-10 2 5 2 1 2 5 2-11 2 7 2-1 2-6 2-4 2 6 2 0 2 0 2 7 2-7 2 0 2-7 2 2 2 7 2 0 2-6 2 12 2 4 2-14 2-7 2 12 2-9 2 8 2 7 2-2 2-6 2 4 2-5 2 5 2-12 2 1 2 8 2 0 2 2 2-6 2 10 2 2 2-2 2-2 2-1 2 0 2-3 2 4 2-4 2-5 2 12 2 0 2-12 2 5 2 7 2-3 2 1 2-11 2 5 2 5 2-4 2 5 2-3 2-1 2 1 2 8 2-11 2-5 2 6 2-2 2 6 2-6 2 7 2-4 2-3 2 16 2-7 2 1 2-5 2 4 2-3 2-10 2 8 2 6 2-1 2-1 2 0 2 3 2-1 2 4" stroke="#5F9B9B"/>
</g></g>
<rect x="140.25" y="29.25" width="1725.75" height="1284" fill="none" stroke="#000" stroke-width="4.5"/>
<g class="tk"><line x1="140.2" y1="1313" x2="140.2" y2="1325"/><line x1="297.2" y1="1313" x2="297.2" y2="1338"/><line x1="454.1" y1="1313" x2="454.1" y2="1325"/><line x1="611.1" y1="1313" x2="611.1" y2="1338"/><line x1="768.0" y1="1313" x2="768.0" y2="1325"/><line x1="925.0" y1="1313" x2="925.0" y2="1338"/><line x1="1082.0" y1="1313" x2="1082.0" y2="1325"/><line x1="1238.9" y1="1313" x2="1238.9" y2="1338"/><line x1="1395.8" y1="1313" x2="1395.8" y2="1325"/><line x1="1552.8" y1="1313" x2="1552.8" y2="1338"/><line x1="1709.8" y1="1313" x2="1709.8" y2="1325"/><line x1="1866.0" y1="1313" x2="1866.0" y2="1338"/></g>
<g class="tl"><text transform="translate(297.2,1398.6) scale(0.925,1)" text-anchor="middle">10</text><text transform="translate(611.1,1398.6) scale(0.925,1)" text-anchor="middle">20</text><text transform="translate(925.0,1398.6) scale(0.925,1)" text-anchor="middle">30</text><text transform="translate(1238.9,1398.6) scale(0.925,1)" text-anchor="middle">40</text><text transform="translate(1552.8,1398.6) scale(0.925,1)" text-anchor="middle">50</text><text transform="translate(1866.0,1398.6) scale(0.925,1)" text-anchor="middle">60</text></g>
<text transform="translate(920.7,1461.6) scale(0.985,1)" font-size="61" font-weight="bold">2-Theta<tspan font-weight="normal">(°)</tspan></text>
<text transform="translate(71.7,856.3) rotate(-90) scale(0.96,1)" font-size="63.5" font-weight="bold">Intensity <tspan font-weight="normal">(</tspan>a.u.<tspan font-weight="normal">)</tspan></text>
<g class="lg"><text transform="translate(1632.5,374.5) scale(0.98,1)">PLA</text><text transform="translate(1632.5,448) scale(0.98,1)">WF/P</text><text transform="translate(1632.5,519) scale(0.98,1)">MF/P5-2</text><text transform="translate(1632.5,592.4) scale(0.98,1)">MF/P5-4</text><text transform="translate(1632.5,658.3) scale(0.98,1)">MF/P5-6</text><text transform="translate(1632.5,730.4) scale(0.98,1)">MF/P5-8</text><text transform="translate(1632.5,804.5) scale(0.98,1)">MF/P6-2</text><text transform="translate(1632.5,869) scale(0.98,1)">MF/P6-4</text><text transform="translate(1632.5,936.4) scale(0.98,1)">MF/P6-6</text><text transform="translate(1632.5,1002.4) scale(0.98,1)">MF/P6-8</text><text transform="translate(1632.5,1076) scale(0.98,1)">MF/P7-2</text><text transform="translate(1632.5,1135.9) scale(0.98,1)">MF/P7-4</text><text transform="translate(1632.5,1203.8) scale(0.98,1)">MF/P7-6</text><text transform="translate(1632.5,1275.5) scale(0.98,1)">MF/P7-8</text></g>
<g class="an">
<text transform="translate(472.5,133) scale(0.985,1)">19.36°</text>
<text transform="translate(689,85.6) scale(1.0,1)">22.35°</text>
<text transform="translate(880,246.6) scale(1.0,1)">29.78°</text>
</g>
<g stroke="#000" stroke-width="2.6" fill="#000">
<line x1="546" y1="149.6" x2="557" y2="177.5"/>
<polygon points="571.1,212 548.3,179.8 565.6,173.3" stroke="none"/>
<line x1="725.6" y1="114.6" x2="705" y2="155"/>
<polygon points="689,187.5 697.2,149.6 712.8,159.3" stroke="none"/>
<line x1="942.4" y1="255.2" x2="921.4" y2="296"/>
<polygon points="905.2,327.5 913.4,291.4 929.5,299.9" stroke="none"/>
</g>
</svg>
</body></html>
